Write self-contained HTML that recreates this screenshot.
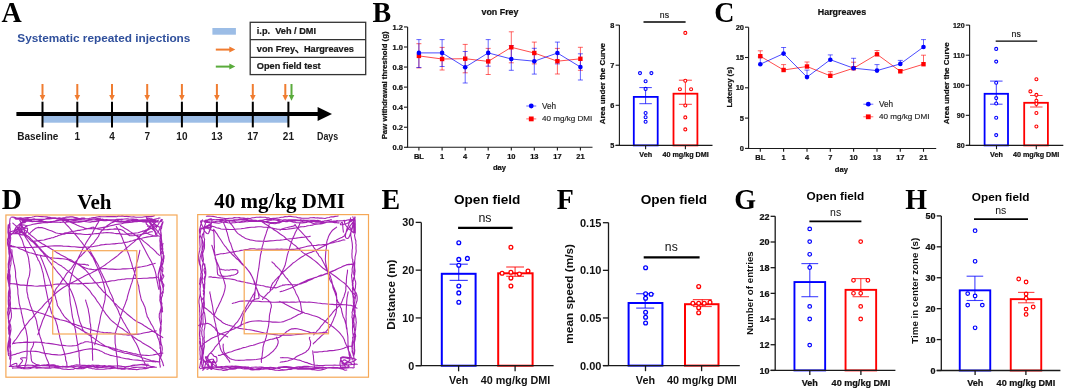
<!DOCTYPE html>
<html><head><meta charset="utf-8"><style>
html,body{margin:0;padding:0;background:#fff;width:1065px;height:389px;overflow:hidden}
svg{display:block;will-change:transform}
</style></head><body>
<svg width="1065" height="389" viewBox="0 0 1065 389">
<rect x="0" y="0" width="1065" height="389" fill="#fff"/>
<text transform="translate(1.50,21.70) scale(1,1.05)" x="0" y="0" font-family='"Liberation Serif", serif' font-size="28" font-weight="bold" fill="#000">A</text>
<text transform="translate(372.50,21.70) scale(1,1.05)" x="0" y="0" font-family='"Liberation Serif", serif' font-size="28" font-weight="bold" fill="#000">B</text>
<text transform="translate(714.20,21.70) scale(1,1.05)" x="0" y="0" font-family='"Liberation Serif", serif' font-size="28" font-weight="bold" fill="#000">C</text>
<text transform="translate(1.80,208.70) scale(1,1.05)" x="0" y="0" font-family='"Liberation Serif", serif' font-size="28" font-weight="bold" fill="#000">D</text>
<text transform="translate(381.50,208.70) scale(1,1.05)" x="0" y="0" font-family='"Liberation Serif", serif' font-size="28" font-weight="bold" fill="#000">E</text>
<text transform="translate(556.80,208.70) scale(1,1.05)" x="0" y="0" font-family='"Liberation Serif", serif' font-size="28" font-weight="bold" fill="#000">F</text>
<text transform="translate(734.20,208.70) scale(1,1.05)" x="0" y="0" font-family='"Liberation Serif", serif' font-size="28" font-weight="bold" fill="#000">G</text>
<text transform="translate(905.30,208.70) scale(1,1.05)" x="0" y="0" font-family='"Liberation Serif", serif' font-size="28" font-weight="bold" fill="#000">H</text>
<text x="17.30" y="42.10" font-family='"Liberation Sans", sans-serif' font-size="11.8" font-weight="bold" text-anchor="start" fill="#30509c" >Systematic repeated injections</text>
<rect x="212.40" y="28.00" width="23.50" height="6.70" fill="#9cbde6" stroke="none" stroke-width="1.0" />
<line x1="215.80" y1="49.60" x2="230.30" y2="49.60" stroke="#f07c30" stroke-width="2.0" />
<polygon points="229.3,46.6 235.3,49.6 229.3,52.6" fill="#f07c30"/>
<line x1="215.80" y1="66.60" x2="230.30" y2="66.60" stroke="#5aab3c" stroke-width="2.0" />
<polygon points="229.3,63.599999999999994 235.3,66.6 229.3,69.6" fill="#5aab3c"/>
<rect x="250.20" y="22.30" width="115.50" height="52.30" fill="none" stroke="#333" stroke-width="1.3" />
<line x1="250.20" y1="39.70" x2="365.70" y2="39.70" stroke="#333" stroke-width="1.3" />
<line x1="250.20" y1="57.30" x2="365.70" y2="57.30" stroke="#333" stroke-width="1.3" />
<text x="256.80" y="34.30" font-family='"Liberation Sans", sans-serif' font-size="9.2" font-weight="bold" text-anchor="start" fill="#1a1a1a"  stroke="#1a1a1a" stroke-width="0.22">i.p.&#160; Veh / DMI</text>
<text x="256.80" y="51.70" font-family='"Liberation Sans", sans-serif' font-size="9.2" font-weight="bold" text-anchor="start" fill="#1a1a1a"  stroke="#1a1a1a" stroke-width="0.22">von Frey</text>
<path d="M295.7,50.4 Q297.0,51.2 297.8,52.6" stroke="#1a1a1a" stroke-width="1.3" fill="none" stroke-linecap="round"/>
<text x="303.90" y="51.70" font-family='"Liberation Sans", sans-serif' font-size="9.2" font-weight="bold" text-anchor="start" fill="#1a1a1a"  stroke="#1a1a1a" stroke-width="0.22">Hargreaves</text>
<text x="256.80" y="69.00" font-family='"Liberation Sans", sans-serif' font-size="9.2" font-weight="bold" text-anchor="start" fill="#1a1a1a"  stroke="#1a1a1a" stroke-width="0.22">Open field test</text>
<rect x="42.50" y="116.00" width="245.90" height="6.70" fill="#9cbde6" stroke="none" stroke-width="1.0" />
<line x1="16.40" y1="114.00" x2="320.00" y2="114.00" stroke="#000" stroke-width="4.2" />
<polygon points="317.6,107 332,114 317.6,121" fill="#000"/>
<line x1="42.50" y1="101.70" x2="42.50" y2="127.40" stroke="#000" stroke-width="2.0" />
<line x1="42.50" y1="84.00" x2="42.50" y2="96.00" stroke="#f07c30" stroke-width="2.0" />
<polygon points="39.7,95 42.5,100.8 45.3,95" fill="#f07c30"/>
<text x="37.80" y="140.40" font-family='"Liberation Sans", sans-serif' font-size="10" font-weight="bold" text-anchor="middle" fill="#1a1a1a" >Baseline</text>
<line x1="77.30" y1="101.70" x2="77.30" y2="127.40" stroke="#000" stroke-width="2.0" />
<line x1="77.30" y1="84.00" x2="77.30" y2="96.00" stroke="#f07c30" stroke-width="2.0" />
<polygon points="74.5,95 77.3,100.8 80.1,95" fill="#f07c30"/>
<text x="77.30" y="140.40" font-family='"Liberation Sans", sans-serif' font-size="10" font-weight="bold" text-anchor="middle" fill="#1a1a1a" >1</text>
<line x1="112.00" y1="101.70" x2="112.00" y2="127.40" stroke="#000" stroke-width="2.0" />
<line x1="112.00" y1="84.00" x2="112.00" y2="96.00" stroke="#f07c30" stroke-width="2.0" />
<polygon points="109.2,95 112.0,100.8 114.8,95" fill="#f07c30"/>
<text x="112.00" y="140.40" font-family='"Liberation Sans", sans-serif' font-size="10" font-weight="bold" text-anchor="middle" fill="#1a1a1a" >4</text>
<line x1="147.20" y1="101.70" x2="147.20" y2="127.40" stroke="#000" stroke-width="2.0" />
<line x1="147.20" y1="84.00" x2="147.20" y2="96.00" stroke="#f07c30" stroke-width="2.0" />
<polygon points="144.39999999999998,95 147.2,100.8 150.0,95" fill="#f07c30"/>
<text x="147.20" y="140.40" font-family='"Liberation Sans", sans-serif' font-size="10" font-weight="bold" text-anchor="middle" fill="#1a1a1a" >7</text>
<line x1="181.90" y1="101.70" x2="181.90" y2="127.40" stroke="#000" stroke-width="2.0" />
<line x1="181.90" y1="84.00" x2="181.90" y2="96.00" stroke="#f07c30" stroke-width="2.0" />
<polygon points="179.1,95 181.9,100.8 184.70000000000002,95" fill="#f07c30"/>
<text x="181.90" y="140.40" font-family='"Liberation Sans", sans-serif' font-size="10" font-weight="bold" text-anchor="middle" fill="#1a1a1a" >10</text>
<line x1="216.90" y1="101.70" x2="216.90" y2="127.40" stroke="#000" stroke-width="2.0" />
<line x1="216.90" y1="84.00" x2="216.90" y2="96.00" stroke="#f07c30" stroke-width="2.0" />
<polygon points="214.1,95 216.9,100.8 219.70000000000002,95" fill="#f07c30"/>
<text x="216.90" y="140.40" font-family='"Liberation Sans", sans-serif' font-size="10" font-weight="bold" text-anchor="middle" fill="#1a1a1a" >13</text>
<line x1="252.80" y1="101.70" x2="252.80" y2="127.40" stroke="#000" stroke-width="2.0" />
<line x1="252.80" y1="84.00" x2="252.80" y2="96.00" stroke="#f07c30" stroke-width="2.0" />
<polygon points="250.0,95 252.8,100.8 255.60000000000002,95" fill="#f07c30"/>
<text x="252.80" y="140.40" font-family='"Liberation Sans", sans-serif' font-size="10" font-weight="bold" text-anchor="middle" fill="#1a1a1a" >17</text>
<line x1="288.40" y1="101.70" x2="288.40" y2="127.40" stroke="#000" stroke-width="2.0" />
<line x1="285.30" y1="84.00" x2="285.30" y2="96.00" stroke="#f07c30" stroke-width="2.0" />
<polygon points="282.5,95 285.3,100.8 288.1,95" fill="#f07c30"/>
<text x="288.40" y="140.40" font-family='"Liberation Sans", sans-serif' font-size="10" font-weight="bold" text-anchor="middle" fill="#1a1a1a" >21</text>
<line x1="291.50" y1="84.00" x2="291.50" y2="96.00" stroke="#5aab3c" stroke-width="2.0" />
<polygon points="288.7,95 291.5,100.8 294.3,95" fill="#5aab3c"/>
<text x="317.00" y="140.20" font-family='"Liberation Sans", sans-serif' font-size="10" font-weight="bold" text-anchor="start" fill="#1a1a1a" textLength="21.2" lengthAdjust="spacingAndGlyphs">Days</text>
<polyline points="418.90,55.90 442.10,59.00 465.20,58.70 488.20,61.40 511.30,47.30 534.30,53.00 557.40,61.20 580.40,58.80" fill="none" stroke="#ff0000" stroke-width="1" stroke-opacity="0.7"/>
<polyline points="418.90,52.90 442.10,52.90 465.20,67.20 488.20,52.90 511.30,59.00 534.30,61.20 557.40,53.00 580.40,67.00" fill="none" stroke="#0000ff" stroke-width="1" stroke-opacity="0.7"/>
<line x1="418.90" y1="43.70" x2="418.90" y2="67.90" stroke="#ff0000" stroke-width="1" stroke-opacity="0.6"/>
<line x1="416.40" y1="43.70" x2="421.40" y2="43.70" stroke="#ff0000" stroke-width="1" stroke-opacity="0.6"/>
<line x1="416.40" y1="67.90" x2="421.40" y2="67.90" stroke="#ff0000" stroke-width="1" stroke-opacity="0.6"/>
<line x1="442.10" y1="47.40" x2="442.10" y2="70.00" stroke="#ff0000" stroke-width="1" stroke-opacity="0.6"/>
<line x1="439.60" y1="47.40" x2="444.60" y2="47.40" stroke="#ff0000" stroke-width="1" stroke-opacity="0.6"/>
<line x1="439.60" y1="70.00" x2="444.60" y2="70.00" stroke="#ff0000" stroke-width="1" stroke-opacity="0.6"/>
<line x1="465.20" y1="44.40" x2="465.20" y2="72.80" stroke="#ff0000" stroke-width="1" stroke-opacity="0.6"/>
<line x1="462.70" y1="44.40" x2="467.70" y2="44.40" stroke="#ff0000" stroke-width="1" stroke-opacity="0.6"/>
<line x1="462.70" y1="72.80" x2="467.70" y2="72.80" stroke="#ff0000" stroke-width="1" stroke-opacity="0.6"/>
<line x1="488.20" y1="48.40" x2="488.20" y2="74.50" stroke="#ff0000" stroke-width="1" stroke-opacity="0.6"/>
<line x1="485.70" y1="48.40" x2="490.70" y2="48.40" stroke="#ff0000" stroke-width="1" stroke-opacity="0.6"/>
<line x1="485.70" y1="74.50" x2="490.70" y2="74.50" stroke="#ff0000" stroke-width="1" stroke-opacity="0.6"/>
<line x1="511.30" y1="31.80" x2="511.30" y2="62.80" stroke="#ff0000" stroke-width="1" stroke-opacity="0.6"/>
<line x1="508.80" y1="31.80" x2="513.80" y2="31.80" stroke="#ff0000" stroke-width="1" stroke-opacity="0.6"/>
<line x1="508.80" y1="62.80" x2="513.80" y2="62.80" stroke="#ff0000" stroke-width="1" stroke-opacity="0.6"/>
<line x1="534.30" y1="42.10" x2="534.30" y2="63.90" stroke="#ff0000" stroke-width="1" stroke-opacity="0.6"/>
<line x1="531.80" y1="42.10" x2="536.80" y2="42.10" stroke="#ff0000" stroke-width="1" stroke-opacity="0.6"/>
<line x1="531.80" y1="63.90" x2="536.80" y2="63.90" stroke="#ff0000" stroke-width="1" stroke-opacity="0.6"/>
<line x1="557.40" y1="48.40" x2="557.40" y2="74.00" stroke="#ff0000" stroke-width="1" stroke-opacity="0.6"/>
<line x1="554.90" y1="48.40" x2="559.90" y2="48.40" stroke="#ff0000" stroke-width="1" stroke-opacity="0.6"/>
<line x1="554.90" y1="74.00" x2="559.90" y2="74.00" stroke="#ff0000" stroke-width="1" stroke-opacity="0.6"/>
<line x1="580.40" y1="47.30" x2="580.40" y2="70.30" stroke="#ff0000" stroke-width="1" stroke-opacity="0.6"/>
<line x1="577.90" y1="47.30" x2="582.90" y2="47.30" stroke="#ff0000" stroke-width="1" stroke-opacity="0.6"/>
<line x1="577.90" y1="70.30" x2="582.90" y2="70.30" stroke="#ff0000" stroke-width="1" stroke-opacity="0.6"/>
<line x1="418.90" y1="39.60" x2="418.90" y2="67.50" stroke="#0000ff" stroke-width="1" stroke-opacity="0.6"/>
<line x1="416.40" y1="39.60" x2="421.40" y2="39.60" stroke="#0000ff" stroke-width="1" stroke-opacity="0.6"/>
<line x1="416.40" y1="67.50" x2="421.40" y2="67.50" stroke="#0000ff" stroke-width="1" stroke-opacity="0.6"/>
<line x1="442.10" y1="39.60" x2="442.10" y2="66.50" stroke="#0000ff" stroke-width="1" stroke-opacity="0.6"/>
<line x1="439.60" y1="39.60" x2="444.60" y2="39.60" stroke="#0000ff" stroke-width="1" stroke-opacity="0.6"/>
<line x1="439.60" y1="66.50" x2="444.60" y2="66.50" stroke="#0000ff" stroke-width="1" stroke-opacity="0.6"/>
<line x1="465.20" y1="51.50" x2="465.20" y2="83.00" stroke="#0000ff" stroke-width="1" stroke-opacity="0.6"/>
<line x1="462.70" y1="51.50" x2="467.70" y2="51.50" stroke="#0000ff" stroke-width="1" stroke-opacity="0.6"/>
<line x1="462.70" y1="83.00" x2="467.70" y2="83.00" stroke="#0000ff" stroke-width="1" stroke-opacity="0.6"/>
<line x1="488.20" y1="39.60" x2="488.20" y2="66.20" stroke="#0000ff" stroke-width="1" stroke-opacity="0.6"/>
<line x1="485.70" y1="39.60" x2="490.70" y2="39.60" stroke="#0000ff" stroke-width="1" stroke-opacity="0.6"/>
<line x1="485.70" y1="66.20" x2="490.70" y2="66.20" stroke="#0000ff" stroke-width="1" stroke-opacity="0.6"/>
<line x1="511.30" y1="45.50" x2="511.30" y2="70.30" stroke="#0000ff" stroke-width="1" stroke-opacity="0.6"/>
<line x1="508.80" y1="45.50" x2="513.80" y2="45.50" stroke="#0000ff" stroke-width="1" stroke-opacity="0.6"/>
<line x1="508.80" y1="70.30" x2="513.80" y2="70.30" stroke="#0000ff" stroke-width="1" stroke-opacity="0.6"/>
<line x1="534.30" y1="48.30" x2="534.30" y2="74.10" stroke="#0000ff" stroke-width="1" stroke-opacity="0.6"/>
<line x1="531.80" y1="48.30" x2="536.80" y2="48.30" stroke="#0000ff" stroke-width="1" stroke-opacity="0.6"/>
<line x1="531.80" y1="74.10" x2="536.80" y2="74.10" stroke="#0000ff" stroke-width="1" stroke-opacity="0.6"/>
<line x1="557.40" y1="42.10" x2="557.40" y2="63.90" stroke="#0000ff" stroke-width="1" stroke-opacity="0.6"/>
<line x1="554.90" y1="42.10" x2="559.90" y2="42.10" stroke="#0000ff" stroke-width="1" stroke-opacity="0.6"/>
<line x1="554.90" y1="63.90" x2="559.90" y2="63.90" stroke="#0000ff" stroke-width="1" stroke-opacity="0.6"/>
<line x1="580.40" y1="53.80" x2="580.40" y2="80.00" stroke="#0000ff" stroke-width="1" stroke-opacity="0.6"/>
<line x1="577.90" y1="53.80" x2="582.90" y2="53.80" stroke="#0000ff" stroke-width="1" stroke-opacity="0.6"/>
<line x1="577.90" y1="80.00" x2="582.90" y2="80.00" stroke="#0000ff" stroke-width="1" stroke-opacity="0.6"/>
<rect x="416.70" y="53.70" width="4.40" height="4.40" fill="#ff0000" stroke="none" stroke-width="1.0" />
<rect x="439.90" y="56.80" width="4.40" height="4.40" fill="#ff0000" stroke="none" stroke-width="1.0" />
<rect x="463.00" y="56.50" width="4.40" height="4.40" fill="#ff0000" stroke="none" stroke-width="1.0" />
<rect x="486.00" y="59.20" width="4.40" height="4.40" fill="#ff0000" stroke="none" stroke-width="1.0" />
<rect x="509.10" y="45.10" width="4.40" height="4.40" fill="#ff0000" stroke="none" stroke-width="1.0" />
<rect x="532.10" y="50.80" width="4.40" height="4.40" fill="#ff0000" stroke="none" stroke-width="1.0" />
<rect x="555.20" y="59.00" width="4.40" height="4.40" fill="#ff0000" stroke="none" stroke-width="1.0" />
<rect x="578.20" y="56.60" width="4.40" height="4.40" fill="#ff0000" stroke="none" stroke-width="1.0" />
<circle cx="418.90" cy="52.90" r="2.30" fill="#0000ff" stroke="none" stroke-width="1.0"/>
<circle cx="442.10" cy="52.90" r="2.30" fill="#0000ff" stroke="none" stroke-width="1.0"/>
<circle cx="465.20" cy="67.20" r="2.30" fill="#0000ff" stroke="none" stroke-width="1.0"/>
<circle cx="488.20" cy="52.90" r="2.30" fill="#0000ff" stroke="none" stroke-width="1.0"/>
<circle cx="511.30" cy="59.00" r="2.30" fill="#0000ff" stroke="none" stroke-width="1.0"/>
<circle cx="534.30" cy="61.20" r="2.30" fill="#0000ff" stroke="none" stroke-width="1.0"/>
<circle cx="557.40" cy="53.00" r="2.30" fill="#0000ff" stroke="none" stroke-width="1.0"/>
<circle cx="580.40" cy="67.00" r="2.30" fill="#0000ff" stroke="none" stroke-width="1.0"/>
<line x1="407.60" y1="27.00" x2="407.60" y2="147.20" stroke="#1a1a1a" stroke-width="1.1" />
<line x1="406.60" y1="147.20" x2="592.50" y2="147.20" stroke="#1a1a1a" stroke-width="1.1" />
<line x1="404.00" y1="147.30" x2="407.60" y2="147.30" stroke="#1a1a1a" stroke-width="1.1" />
<text x="403.00" y="149.90" font-family='"Liberation Sans", sans-serif' font-size="7.5" font-weight="bold" text-anchor="end" fill="#111"  stroke="#111" stroke-width="0.22">0.0</text>
<line x1="404.00" y1="127.24" x2="407.60" y2="127.24" stroke="#1a1a1a" stroke-width="1.1" />
<text x="403.00" y="129.84" font-family='"Liberation Sans", sans-serif' font-size="7.5" font-weight="bold" text-anchor="end" fill="#111"  stroke="#111" stroke-width="0.22">0.2</text>
<line x1="404.00" y1="107.18" x2="407.60" y2="107.18" stroke="#1a1a1a" stroke-width="1.1" />
<text x="403.00" y="109.78" font-family='"Liberation Sans", sans-serif' font-size="7.5" font-weight="bold" text-anchor="end" fill="#111"  stroke="#111" stroke-width="0.22">0.4</text>
<line x1="404.00" y1="87.12" x2="407.60" y2="87.12" stroke="#1a1a1a" stroke-width="1.1" />
<text x="403.00" y="89.72" font-family='"Liberation Sans", sans-serif' font-size="7.5" font-weight="bold" text-anchor="end" fill="#111"  stroke="#111" stroke-width="0.22">0.6</text>
<line x1="404.00" y1="67.06" x2="407.60" y2="67.06" stroke="#1a1a1a" stroke-width="1.1" />
<text x="403.00" y="69.66" font-family='"Liberation Sans", sans-serif' font-size="7.5" font-weight="bold" text-anchor="end" fill="#111"  stroke="#111" stroke-width="0.22">0.8</text>
<line x1="404.00" y1="47.00" x2="407.60" y2="47.00" stroke="#1a1a1a" stroke-width="1.1" />
<text x="403.00" y="49.60" font-family='"Liberation Sans", sans-serif' font-size="7.5" font-weight="bold" text-anchor="end" fill="#111"  stroke="#111" stroke-width="0.22">1.0</text>
<line x1="404.00" y1="26.94" x2="407.60" y2="26.94" stroke="#1a1a1a" stroke-width="1.1" />
<text x="403.00" y="29.54" font-family='"Liberation Sans", sans-serif' font-size="7.5" font-weight="bold" text-anchor="end" fill="#111"  stroke="#111" stroke-width="0.22">1.2</text>
<line x1="418.90" y1="147.20" x2="418.90" y2="150.50" stroke="#1a1a1a" stroke-width="1.1" />
<text x="418.90" y="158.90" font-family='"Liberation Sans", sans-serif' font-size="7.5" font-weight="bold" text-anchor="middle" fill="#111"  stroke="#111" stroke-width="0.22">BL</text>
<line x1="442.10" y1="147.20" x2="442.10" y2="150.50" stroke="#1a1a1a" stroke-width="1.1" />
<text x="442.10" y="158.90" font-family='"Liberation Sans", sans-serif' font-size="7.5" font-weight="bold" text-anchor="middle" fill="#111"  stroke="#111" stroke-width="0.22">1</text>
<line x1="465.20" y1="147.20" x2="465.20" y2="150.50" stroke="#1a1a1a" stroke-width="1.1" />
<text x="465.20" y="158.90" font-family='"Liberation Sans", sans-serif' font-size="7.5" font-weight="bold" text-anchor="middle" fill="#111"  stroke="#111" stroke-width="0.22">4</text>
<line x1="488.20" y1="147.20" x2="488.20" y2="150.50" stroke="#1a1a1a" stroke-width="1.1" />
<text x="488.20" y="158.90" font-family='"Liberation Sans", sans-serif' font-size="7.5" font-weight="bold" text-anchor="middle" fill="#111"  stroke="#111" stroke-width="0.22">7</text>
<line x1="511.30" y1="147.20" x2="511.30" y2="150.50" stroke="#1a1a1a" stroke-width="1.1" />
<text x="511.30" y="158.90" font-family='"Liberation Sans", sans-serif' font-size="7.5" font-weight="bold" text-anchor="middle" fill="#111"  stroke="#111" stroke-width="0.22">10</text>
<line x1="534.30" y1="147.20" x2="534.30" y2="150.50" stroke="#1a1a1a" stroke-width="1.1" />
<text x="534.30" y="158.90" font-family='"Liberation Sans", sans-serif' font-size="7.5" font-weight="bold" text-anchor="middle" fill="#111"  stroke="#111" stroke-width="0.22">13</text>
<line x1="557.40" y1="147.20" x2="557.40" y2="150.50" stroke="#1a1a1a" stroke-width="1.1" />
<text x="557.40" y="158.90" font-family='"Liberation Sans", sans-serif' font-size="7.5" font-weight="bold" text-anchor="middle" fill="#111"  stroke="#111" stroke-width="0.22">17</text>
<line x1="580.40" y1="147.20" x2="580.40" y2="150.50" stroke="#1a1a1a" stroke-width="1.1" />
<text x="580.40" y="158.90" font-family='"Liberation Sans", sans-serif' font-size="7.5" font-weight="bold" text-anchor="middle" fill="#111"  stroke="#111" stroke-width="0.22">21</text>
<text x="499.50" y="170.00" font-family='"Liberation Sans", sans-serif' font-size="7.6" font-weight="bold" text-anchor="middle" fill="#111"  stroke="#111" stroke-width="0.22">day</text>
<text x="500.00" y="14.80" font-family='"Liberation Sans", sans-serif' font-size="8.9" font-weight="bold" text-anchor="middle" fill="#111"  stroke="#111" stroke-width="0.22">von Frey</text>
<text x="387.20" y="85.40" font-family='"Liberation Sans", sans-serif' font-size="7.8" font-weight="bold" text-anchor="middle" fill="#111" transform="rotate(-90 387.2 85.4)"  stroke="#111" stroke-width="0.22">Paw withdrawal threshold (g)</text>
<line x1="526.25" y1="106.00" x2="536.25" y2="106.00" stroke="#0000ff" stroke-width="1" stroke-opacity="0.6"/>
<circle cx="531.25" cy="106.00" r="2.40" fill="#0000ff" stroke="none" stroke-width="1.0"/>
<line x1="526.25" y1="118.90" x2="536.25" y2="118.90" stroke="#ff0000" stroke-width="1" stroke-opacity="0.6"/>
<rect x="528.85" y="116.50" width="4.80" height="4.80" fill="#ff0000" stroke="none" stroke-width="1.0" />
<text x="541.95" y="108.80" font-family='"Liberation Sans", sans-serif' font-size="8.2" font-weight="normal" text-anchor="start" fill="#222"  stroke="#222" stroke-width="0.15">Veh</text>
<text x="541.95" y="121.30" font-family='"Liberation Sans", sans-serif' font-size="8.1" font-weight="normal" text-anchor="start" fill="#222"  stroke="#222" stroke-width="0.15">40 mg/kg DMI</text>
<polyline points="760.30,56.20 783.60,70.00 807.00,66.50 830.30,75.80 853.60,68.20 877.00,54.30 900.30,71.30 923.50,64.20" fill="none" stroke="#ff0000" stroke-width="1" stroke-opacity="0.7"/>
<polyline points="760.30,64.20 783.60,53.60 807.00,77.10 830.30,59.70 853.60,68.20 877.00,70.60 900.30,63.90 923.50,47.00" fill="none" stroke="#0000ff" stroke-width="1" stroke-opacity="0.7"/>
<line x1="760.30" y1="50.80" x2="760.30" y2="56.20" stroke="#ff0000" stroke-width="1" stroke-opacity="0.6"/>
<line x1="757.80" y1="50.80" x2="762.80" y2="50.80" stroke="#ff0000" stroke-width="1" stroke-opacity="0.6"/>
<line x1="783.60" y1="64.60" x2="783.60" y2="70.00" stroke="#ff0000" stroke-width="1" stroke-opacity="0.6"/>
<line x1="781.10" y1="64.60" x2="786.10" y2="64.60" stroke="#ff0000" stroke-width="1" stroke-opacity="0.6"/>
<line x1="807.00" y1="62.00" x2="807.00" y2="66.50" stroke="#ff0000" stroke-width="1" stroke-opacity="0.6"/>
<line x1="804.50" y1="62.00" x2="809.50" y2="62.00" stroke="#ff0000" stroke-width="1" stroke-opacity="0.6"/>
<line x1="830.30" y1="71.70" x2="830.30" y2="75.80" stroke="#ff0000" stroke-width="1" stroke-opacity="0.6"/>
<line x1="827.80" y1="71.70" x2="832.80" y2="71.70" stroke="#ff0000" stroke-width="1" stroke-opacity="0.6"/>
<line x1="853.60" y1="62.20" x2="853.60" y2="68.20" stroke="#ff0000" stroke-width="1" stroke-opacity="0.6"/>
<line x1="851.10" y1="62.20" x2="856.10" y2="62.20" stroke="#ff0000" stroke-width="1" stroke-opacity="0.6"/>
<line x1="877.00" y1="50.50" x2="877.00" y2="54.30" stroke="#ff0000" stroke-width="1" stroke-opacity="0.6"/>
<line x1="874.50" y1="50.50" x2="879.50" y2="50.50" stroke="#ff0000" stroke-width="1" stroke-opacity="0.6"/>
<line x1="900.30" y1="69.50" x2="900.30" y2="71.30" stroke="#ff0000" stroke-width="1" stroke-opacity="0.6"/>
<line x1="897.80" y1="69.50" x2="902.80" y2="69.50" stroke="#ff0000" stroke-width="1" stroke-opacity="0.6"/>
<line x1="923.50" y1="55.20" x2="923.50" y2="64.20" stroke="#ff0000" stroke-width="1" stroke-opacity="0.6"/>
<line x1="921.00" y1="55.20" x2="926.00" y2="55.20" stroke="#ff0000" stroke-width="1" stroke-opacity="0.6"/>
<line x1="760.30" y1="57.00" x2="760.30" y2="64.20" stroke="#0000ff" stroke-width="1" stroke-opacity="0.6"/>
<line x1="757.80" y1="57.00" x2="762.80" y2="57.00" stroke="#0000ff" stroke-width="1" stroke-opacity="0.6"/>
<line x1="783.60" y1="47.50" x2="783.60" y2="53.60" stroke="#0000ff" stroke-width="1" stroke-opacity="0.6"/>
<line x1="781.10" y1="47.50" x2="786.10" y2="47.50" stroke="#0000ff" stroke-width="1" stroke-opacity="0.6"/>
<line x1="807.00" y1="70.10" x2="807.00" y2="77.10" stroke="#0000ff" stroke-width="1" stroke-opacity="0.6"/>
<line x1="804.50" y1="70.10" x2="809.50" y2="70.10" stroke="#0000ff" stroke-width="1" stroke-opacity="0.6"/>
<line x1="830.30" y1="54.90" x2="830.30" y2="59.70" stroke="#0000ff" stroke-width="1" stroke-opacity="0.6"/>
<line x1="827.80" y1="54.90" x2="832.80" y2="54.90" stroke="#0000ff" stroke-width="1" stroke-opacity="0.6"/>
<line x1="853.60" y1="58.30" x2="853.60" y2="68.20" stroke="#0000ff" stroke-width="1" stroke-opacity="0.6"/>
<line x1="851.10" y1="58.30" x2="856.10" y2="58.30" stroke="#0000ff" stroke-width="1" stroke-opacity="0.6"/>
<line x1="877.00" y1="64.60" x2="877.00" y2="70.60" stroke="#0000ff" stroke-width="1" stroke-opacity="0.6"/>
<line x1="874.50" y1="64.60" x2="879.50" y2="64.60" stroke="#0000ff" stroke-width="1" stroke-opacity="0.6"/>
<line x1="900.30" y1="60.40" x2="900.30" y2="63.90" stroke="#0000ff" stroke-width="1" stroke-opacity="0.6"/>
<line x1="897.80" y1="60.40" x2="902.80" y2="60.40" stroke="#0000ff" stroke-width="1" stroke-opacity="0.6"/>
<line x1="923.50" y1="39.60" x2="923.50" y2="47.00" stroke="#0000ff" stroke-width="1" stroke-opacity="0.6"/>
<line x1="921.00" y1="39.60" x2="926.00" y2="39.60" stroke="#0000ff" stroke-width="1" stroke-opacity="0.6"/>
<rect x="758.10" y="54.00" width="4.40" height="4.40" fill="#ff0000" stroke="none" stroke-width="1.0" />
<rect x="781.40" y="67.80" width="4.40" height="4.40" fill="#ff0000" stroke="none" stroke-width="1.0" />
<rect x="804.80" y="64.30" width="4.40" height="4.40" fill="#ff0000" stroke="none" stroke-width="1.0" />
<rect x="828.10" y="73.60" width="4.40" height="4.40" fill="#ff0000" stroke="none" stroke-width="1.0" />
<rect x="851.40" y="66.00" width="4.40" height="4.40" fill="#ff0000" stroke="none" stroke-width="1.0" />
<rect x="874.80" y="52.10" width="4.40" height="4.40" fill="#ff0000" stroke="none" stroke-width="1.0" />
<rect x="898.10" y="69.10" width="4.40" height="4.40" fill="#ff0000" stroke="none" stroke-width="1.0" />
<rect x="921.30" y="62.00" width="4.40" height="4.40" fill="#ff0000" stroke="none" stroke-width="1.0" />
<circle cx="760.30" cy="64.20" r="2.30" fill="#0000ff" stroke="none" stroke-width="1.0"/>
<circle cx="783.60" cy="53.60" r="2.30" fill="#0000ff" stroke="none" stroke-width="1.0"/>
<circle cx="807.00" cy="77.10" r="2.30" fill="#0000ff" stroke="none" stroke-width="1.0"/>
<circle cx="830.30" cy="59.70" r="2.30" fill="#0000ff" stroke="none" stroke-width="1.0"/>
<circle cx="853.60" cy="68.20" r="2.30" fill="#0000ff" stroke="none" stroke-width="1.0"/>
<circle cx="877.00" cy="70.60" r="2.30" fill="#0000ff" stroke="none" stroke-width="1.0"/>
<circle cx="900.30" cy="63.90" r="2.30" fill="#0000ff" stroke="none" stroke-width="1.0"/>
<circle cx="923.50" cy="47.00" r="2.30" fill="#0000ff" stroke="none" stroke-width="1.0"/>
<line x1="748.60" y1="27.20" x2="748.60" y2="148.50" stroke="#1a1a1a" stroke-width="1.1" />
<line x1="746.60" y1="148.50" x2="936.20" y2="148.50" stroke="#1a1a1a" stroke-width="1.1" />
<line x1="745.00" y1="148.40" x2="748.60" y2="148.40" stroke="#1a1a1a" stroke-width="1.1" />
<text x="744.00" y="151.00" font-family='"Liberation Sans", sans-serif' font-size="7.5" font-weight="bold" text-anchor="end" fill="#111"  stroke="#111" stroke-width="0.22">0</text>
<line x1="745.00" y1="118.10" x2="748.60" y2="118.10" stroke="#1a1a1a" stroke-width="1.1" />
<text x="744.00" y="120.70" font-family='"Liberation Sans", sans-serif' font-size="7.5" font-weight="bold" text-anchor="end" fill="#111"  stroke="#111" stroke-width="0.22">5</text>
<line x1="745.00" y1="87.80" x2="748.60" y2="87.80" stroke="#1a1a1a" stroke-width="1.1" />
<text x="744.00" y="90.40" font-family='"Liberation Sans", sans-serif' font-size="7.5" font-weight="bold" text-anchor="end" fill="#111"  stroke="#111" stroke-width="0.22">10</text>
<line x1="745.00" y1="57.50" x2="748.60" y2="57.50" stroke="#1a1a1a" stroke-width="1.1" />
<text x="744.00" y="60.10" font-family='"Liberation Sans", sans-serif' font-size="7.5" font-weight="bold" text-anchor="end" fill="#111"  stroke="#111" stroke-width="0.22">15</text>
<line x1="745.00" y1="27.20" x2="748.60" y2="27.20" stroke="#1a1a1a" stroke-width="1.1" />
<text x="744.00" y="29.80" font-family='"Liberation Sans", sans-serif' font-size="7.5" font-weight="bold" text-anchor="end" fill="#111"  stroke="#111" stroke-width="0.22">20</text>
<line x1="760.30" y1="148.50" x2="760.30" y2="151.80" stroke="#1a1a1a" stroke-width="1.1" />
<text x="760.30" y="160.40" font-family='"Liberation Sans", sans-serif' font-size="7.5" font-weight="bold" text-anchor="middle" fill="#111"  stroke="#111" stroke-width="0.22">BL</text>
<line x1="783.60" y1="148.50" x2="783.60" y2="151.80" stroke="#1a1a1a" stroke-width="1.1" />
<text x="783.60" y="160.40" font-family='"Liberation Sans", sans-serif' font-size="7.5" font-weight="bold" text-anchor="middle" fill="#111"  stroke="#111" stroke-width="0.22">1</text>
<line x1="807.00" y1="148.50" x2="807.00" y2="151.80" stroke="#1a1a1a" stroke-width="1.1" />
<text x="807.00" y="160.40" font-family='"Liberation Sans", sans-serif' font-size="7.5" font-weight="bold" text-anchor="middle" fill="#111"  stroke="#111" stroke-width="0.22">4</text>
<line x1="830.30" y1="148.50" x2="830.30" y2="151.80" stroke="#1a1a1a" stroke-width="1.1" />
<text x="830.30" y="160.40" font-family='"Liberation Sans", sans-serif' font-size="7.5" font-weight="bold" text-anchor="middle" fill="#111"  stroke="#111" stroke-width="0.22">7</text>
<line x1="853.60" y1="148.50" x2="853.60" y2="151.80" stroke="#1a1a1a" stroke-width="1.1" />
<text x="853.60" y="160.40" font-family='"Liberation Sans", sans-serif' font-size="7.5" font-weight="bold" text-anchor="middle" fill="#111"  stroke="#111" stroke-width="0.22">10</text>
<line x1="877.00" y1="148.50" x2="877.00" y2="151.80" stroke="#1a1a1a" stroke-width="1.1" />
<text x="877.00" y="160.40" font-family='"Liberation Sans", sans-serif' font-size="7.5" font-weight="bold" text-anchor="middle" fill="#111"  stroke="#111" stroke-width="0.22">13</text>
<line x1="900.30" y1="148.50" x2="900.30" y2="151.80" stroke="#1a1a1a" stroke-width="1.1" />
<text x="900.30" y="160.40" font-family='"Liberation Sans", sans-serif' font-size="7.5" font-weight="bold" text-anchor="middle" fill="#111"  stroke="#111" stroke-width="0.22">17</text>
<line x1="923.50" y1="148.50" x2="923.50" y2="151.80" stroke="#1a1a1a" stroke-width="1.1" />
<text x="923.50" y="160.40" font-family='"Liberation Sans", sans-serif' font-size="7.5" font-weight="bold" text-anchor="middle" fill="#111"  stroke="#111" stroke-width="0.22">21</text>
<text x="841.40" y="172.00" font-family='"Liberation Sans", sans-serif' font-size="7.6" font-weight="bold" text-anchor="middle" fill="#111"  stroke="#111" stroke-width="0.22">day</text>
<text x="842.00" y="14.80" font-family='"Liberation Sans", sans-serif' font-size="8.9" font-weight="bold" text-anchor="middle" fill="#111"  stroke="#111" stroke-width="0.22">Hargreaves</text>
<text x="731.60" y="87.30" font-family='"Liberation Sans", sans-serif' font-size="7.7" font-weight="bold" text-anchor="middle" fill="#111" transform="rotate(-90 731.6 87.3)"  stroke="#111" stroke-width="0.22">Latency (s)</text>
<line x1="863.30" y1="104.20" x2="873.30" y2="104.20" stroke="#0000ff" stroke-width="1" stroke-opacity="0.6"/>
<circle cx="868.30" cy="104.20" r="2.40" fill="#0000ff" stroke="none" stroke-width="1.0"/>
<line x1="863.30" y1="116.80" x2="873.30" y2="116.80" stroke="#ff0000" stroke-width="1" stroke-opacity="0.6"/>
<rect x="865.90" y="114.40" width="4.80" height="4.80" fill="#ff0000" stroke="none" stroke-width="1.0" />
<text x="879.00" y="107.00" font-family='"Liberation Sans", sans-serif' font-size="8.2" font-weight="normal" text-anchor="start" fill="#222"  stroke="#222" stroke-width="0.15">Veh</text>
<text x="879.00" y="119.20" font-family='"Liberation Sans", sans-serif' font-size="8.1" font-weight="normal" text-anchor="start" fill="#222"  stroke="#222" stroke-width="0.15">40 mg/kg DMI</text>
<rect x="633.80" y="96.90" width="23.90" height="48.50" fill="none" stroke="#0000ff" stroke-width="1.8" />
<rect x="673.50" y="93.70" width="23.90" height="51.70" fill="none" stroke="#ff0000" stroke-width="1.8" />
<line x1="645.60" y1="87.60" x2="645.60" y2="103.70" stroke="#0000ff" stroke-width="1.0" stroke-opacity="0.75"/>
<line x1="639.35" y1="87.60" x2="651.85" y2="87.60" stroke="#0000ff" stroke-width="1.0" stroke-opacity="0.75"/>
<line x1="639.35" y1="103.70" x2="651.85" y2="103.70" stroke="#0000ff" stroke-width="1.0" stroke-opacity="0.75"/>
<line x1="685.40" y1="80.20" x2="685.40" y2="104.30" stroke="#ff0000" stroke-width="1.0" stroke-opacity="0.75"/>
<line x1="678.90" y1="80.20" x2="691.90" y2="80.20" stroke="#ff0000" stroke-width="1.0" stroke-opacity="0.75"/>
<line x1="678.90" y1="104.30" x2="691.90" y2="104.30" stroke="#ff0000" stroke-width="1.0" stroke-opacity="0.75"/>
<circle cx="640.00" cy="73.10" r="1.50" fill="white" stroke="#0000ff" stroke-width="1.1"/>
<circle cx="651.40" cy="73.10" r="1.50" fill="white" stroke="#0000ff" stroke-width="1.1"/>
<circle cx="645.60" cy="81.20" r="1.50" fill="white" stroke="#0000ff" stroke-width="1.1"/>
<circle cx="645.60" cy="88.90" r="1.50" fill="white" stroke="#0000ff" stroke-width="1.1"/>
<circle cx="645.60" cy="113.00" r="1.50" fill="white" stroke="#0000ff" stroke-width="1.1"/>
<circle cx="645.60" cy="117.30" r="1.50" fill="white" stroke="#0000ff" stroke-width="1.1"/>
<circle cx="645.60" cy="121.70" r="1.50" fill="white" stroke="#0000ff" stroke-width="1.1"/>
<circle cx="685.30" cy="32.90" r="1.50" fill="white" stroke="#ff0000" stroke-width="1.1"/>
<circle cx="685.30" cy="80.80" r="1.50" fill="white" stroke="#ff0000" stroke-width="1.1"/>
<circle cx="679.90" cy="89.30" r="1.50" fill="white" stroke="#ff0000" stroke-width="1.1"/>
<circle cx="691.10" cy="89.30" r="1.50" fill="white" stroke="#ff0000" stroke-width="1.1"/>
<circle cx="685.30" cy="105.50" r="1.50" fill="white" stroke="#ff0000" stroke-width="1.1"/>
<circle cx="685.30" cy="117.40" r="1.50" fill="white" stroke="#ff0000" stroke-width="1.1"/>
<circle cx="685.30" cy="129.40" r="1.50" fill="white" stroke="#ff0000" stroke-width="1.1"/>
<line x1="619.40" y1="25.10" x2="619.40" y2="145.40" stroke="#1a1a1a" stroke-width="1.1" />
<line x1="615.60" y1="145.40" x2="712.50" y2="145.40" stroke="#1a1a1a" stroke-width="1.1" />
<line x1="615.60" y1="145.40" x2="619.40" y2="145.40" stroke="#1a1a1a" stroke-width="1.1" />
<text x="614.40" y="148.03" font-family='"Liberation Sans", sans-serif' font-size="7.3" font-weight="bold" text-anchor="end" fill="#111"  stroke="#111" stroke-width="0.22">5</text>
<line x1="615.60" y1="105.30" x2="619.40" y2="105.30" stroke="#1a1a1a" stroke-width="1.1" />
<text x="614.40" y="107.93" font-family='"Liberation Sans", sans-serif' font-size="7.3" font-weight="bold" text-anchor="end" fill="#111"  stroke="#111" stroke-width="0.22">6</text>
<line x1="615.60" y1="65.20" x2="619.40" y2="65.20" stroke="#1a1a1a" stroke-width="1.1" />
<text x="614.40" y="67.83" font-family='"Liberation Sans", sans-serif' font-size="7.3" font-weight="bold" text-anchor="end" fill="#111"  stroke="#111" stroke-width="0.22">7</text>
<line x1="615.60" y1="25.10" x2="619.40" y2="25.10" stroke="#1a1a1a" stroke-width="1.1" />
<text x="614.40" y="27.73" font-family='"Liberation Sans", sans-serif' font-size="7.3" font-weight="bold" text-anchor="end" fill="#111"  stroke="#111" stroke-width="0.22">8</text>
<line x1="645.60" y1="145.40" x2="645.60" y2="149.20" stroke="#1a1a1a" stroke-width="1.1" />
<line x1="685.40" y1="145.40" x2="685.40" y2="149.20" stroke="#1a1a1a" stroke-width="1.1" />
<text x="664.40" y="17.50" font-family='"Liberation Sans", sans-serif' font-size="8.7" font-weight="normal" text-anchor="middle" fill="#111"  stroke="#111" stroke-width="0.15">ns</text>
<line x1="643.50" y1="22.00" x2="685.60" y2="22.00" stroke="#000" stroke-width="1.4" />
<text x="605.30" y="83.60" font-family='"Liberation Sans", sans-serif' font-size="8.0" font-weight="bold" text-anchor="middle" fill="#111" transform="rotate(-90 605.3 83.6)"  stroke="#111" stroke-width="0.22">Area under the Curve</text>
<text x="645.70" y="157.40" font-family='"Liberation Sans", sans-serif' font-size="7.2" font-weight="bold" text-anchor="middle" fill="#111"  stroke="#111" stroke-width="0.22">Veh</text>
<text x="685.60" y="157.40" font-family='"Liberation Sans", sans-serif' font-size="7.2" font-weight="bold" text-anchor="middle" fill="#111"  stroke="#111" stroke-width="0.22">40 mg/kg DMI</text>
<rect x="984.60" y="93.80" width="23.40" height="51.60" fill="none" stroke="#0000ff" stroke-width="1.8" />
<rect x="1024.20" y="102.80" width="23.70" height="42.60" fill="none" stroke="#ff0000" stroke-width="1.8" />
<line x1="996.30" y1="81.10" x2="996.30" y2="104.20" stroke="#0000ff" stroke-width="1.0" stroke-opacity="0.75"/>
<line x1="990.05" y1="81.10" x2="1002.55" y2="81.10" stroke="#0000ff" stroke-width="1.0" stroke-opacity="0.75"/>
<line x1="990.05" y1="104.20" x2="1002.55" y2="104.20" stroke="#0000ff" stroke-width="1.0" stroke-opacity="0.75"/>
<line x1="1036.30" y1="95.50" x2="1036.30" y2="107.00" stroke="#ff0000" stroke-width="1.0" stroke-opacity="0.75"/>
<line x1="1030.05" y1="95.50" x2="1042.55" y2="95.50" stroke="#ff0000" stroke-width="1.0" stroke-opacity="0.75"/>
<line x1="1030.05" y1="107.00" x2="1042.55" y2="107.00" stroke="#ff0000" stroke-width="1.0" stroke-opacity="0.75"/>
<circle cx="996.20" cy="48.90" r="1.50" fill="white" stroke="#0000ff" stroke-width="1.1"/>
<circle cx="996.20" cy="61.60" r="1.50" fill="white" stroke="#0000ff" stroke-width="1.1"/>
<circle cx="996.20" cy="82.70" r="1.50" fill="white" stroke="#0000ff" stroke-width="1.1"/>
<circle cx="996.20" cy="98.10" r="1.50" fill="white" stroke="#0000ff" stroke-width="1.1"/>
<circle cx="996.20" cy="103.50" r="1.50" fill="white" stroke="#0000ff" stroke-width="1.1"/>
<circle cx="996.20" cy="117.80" r="1.50" fill="white" stroke="#0000ff" stroke-width="1.1"/>
<circle cx="996.20" cy="135.10" r="1.50" fill="white" stroke="#0000ff" stroke-width="1.1"/>
<circle cx="1036.40" cy="79.20" r="1.50" fill="white" stroke="#ff0000" stroke-width="1.1"/>
<circle cx="1030.40" cy="91.40" r="1.50" fill="white" stroke="#ff0000" stroke-width="1.1"/>
<circle cx="1036.40" cy="94.90" r="1.50" fill="white" stroke="#ff0000" stroke-width="1.1"/>
<circle cx="1036.40" cy="100.80" r="1.50" fill="white" stroke="#ff0000" stroke-width="1.1"/>
<circle cx="1036.40" cy="104.00" r="1.50" fill="white" stroke="#ff0000" stroke-width="1.1"/>
<circle cx="1036.40" cy="113.00" r="1.50" fill="white" stroke="#ff0000" stroke-width="1.1"/>
<circle cx="1036.40" cy="126.50" r="1.50" fill="white" stroke="#ff0000" stroke-width="1.1"/>
<line x1="969.60" y1="25.10" x2="969.60" y2="145.40" stroke="#1a1a1a" stroke-width="1.1" />
<line x1="965.80" y1="145.40" x2="1063.30" y2="145.40" stroke="#1a1a1a" stroke-width="1.1" />
<line x1="965.80" y1="145.40" x2="969.60" y2="145.40" stroke="#1a1a1a" stroke-width="1.1" />
<text x="964.60" y="147.92" font-family='"Liberation Sans", sans-serif' font-size="7.0" font-weight="bold" text-anchor="end" fill="#111"  stroke="#111" stroke-width="0.22">80</text>
<line x1="965.80" y1="115.33" x2="969.60" y2="115.33" stroke="#1a1a1a" stroke-width="1.1" />
<text x="964.60" y="117.85" font-family='"Liberation Sans", sans-serif' font-size="7.0" font-weight="bold" text-anchor="end" fill="#111"  stroke="#111" stroke-width="0.22">90</text>
<line x1="965.80" y1="85.26" x2="969.60" y2="85.26" stroke="#1a1a1a" stroke-width="1.1" />
<text x="964.60" y="87.78" font-family='"Liberation Sans", sans-serif' font-size="7.0" font-weight="bold" text-anchor="end" fill="#111"  stroke="#111" stroke-width="0.22">100</text>
<line x1="965.80" y1="55.19" x2="969.60" y2="55.19" stroke="#1a1a1a" stroke-width="1.1" />
<text x="964.60" y="57.71" font-family='"Liberation Sans", sans-serif' font-size="7.0" font-weight="bold" text-anchor="end" fill="#111"  stroke="#111" stroke-width="0.22">110</text>
<line x1="965.80" y1="25.12" x2="969.60" y2="25.12" stroke="#1a1a1a" stroke-width="1.1" />
<text x="964.60" y="27.64" font-family='"Liberation Sans", sans-serif' font-size="7.0" font-weight="bold" text-anchor="end" fill="#111"  stroke="#111" stroke-width="0.22">120</text>
<line x1="996.50" y1="145.40" x2="996.50" y2="149.20" stroke="#1a1a1a" stroke-width="1.1" />
<line x1="1036.30" y1="145.40" x2="1036.30" y2="149.20" stroke="#1a1a1a" stroke-width="1.1" />
<text x="1016.20" y="37.30" font-family='"Liberation Sans", sans-serif' font-size="8.7" font-weight="normal" text-anchor="middle" fill="#111"  stroke="#111" stroke-width="0.15">ns</text>
<line x1="995.70" y1="41.10" x2="1037.20" y2="41.10" stroke="#000" stroke-width="1.4" />
<text x="948.60" y="83.30" font-family='"Liberation Sans", sans-serif' font-size="8.05" font-weight="bold" text-anchor="middle" fill="#111" transform="rotate(-90 948.6 83.3)"  stroke="#111" stroke-width="0.22">Area under the Curve</text>
<text x="996.40" y="157.40" font-family='"Liberation Sans", sans-serif' font-size="7.2" font-weight="bold" text-anchor="middle" fill="#111"  stroke="#111" stroke-width="0.22">Veh</text>
<text x="1036.10" y="157.40" font-family='"Liberation Sans", sans-serif' font-size="7.2" font-weight="bold" text-anchor="middle" fill="#111"  stroke="#111" stroke-width="0.22">40 mg/kg DMI</text>
<rect x="441.80" y="273.80" width="33.80" height="91.90" fill="none" stroke="#0000ff" stroke-width="2.0" />
<rect x="498.20" y="273.30" width="34.40" height="92.40" fill="none" stroke="#ff0000" stroke-width="2.0" />
<line x1="458.70" y1="264.20" x2="458.70" y2="280.40" stroke="#0000ff" stroke-width="1.2" stroke-opacity="0.75"/>
<line x1="449.60" y1="264.20" x2="467.80" y2="264.20" stroke="#0000ff" stroke-width="1.2" stroke-opacity="0.75"/>
<line x1="449.60" y1="280.40" x2="467.80" y2="280.40" stroke="#0000ff" stroke-width="1.2" stroke-opacity="0.75"/>
<line x1="515.10" y1="267.00" x2="515.10" y2="276.30" stroke="#ff0000" stroke-width="1.2" stroke-opacity="0.75"/>
<line x1="506.20" y1="267.00" x2="524.00" y2="267.00" stroke="#ff0000" stroke-width="1.2" stroke-opacity="0.75"/>
<line x1="506.20" y1="276.30" x2="524.00" y2="276.30" stroke="#ff0000" stroke-width="1.2" stroke-opacity="0.75"/>
<circle cx="458.80" cy="242.70" r="1.90" fill="white" stroke="#0000ff" stroke-width="1.3"/>
<circle cx="458.80" cy="259.40" r="1.90" fill="white" stroke="#0000ff" stroke-width="1.3"/>
<circle cx="467.40" cy="258.40" r="1.90" fill="white" stroke="#0000ff" stroke-width="1.3"/>
<circle cx="458.80" cy="265.20" r="1.90" fill="white" stroke="#0000ff" stroke-width="1.3"/>
<circle cx="458.80" cy="286.00" r="1.90" fill="white" stroke="#0000ff" stroke-width="1.3"/>
<circle cx="458.80" cy="292.90" r="1.90" fill="white" stroke="#0000ff" stroke-width="1.3"/>
<circle cx="458.80" cy="302.20" r="1.90" fill="white" stroke="#0000ff" stroke-width="1.3"/>
<circle cx="510.90" cy="247.30" r="1.90" fill="white" stroke="#ff0000" stroke-width="1.3"/>
<circle cx="502.10" cy="273.20" r="1.90" fill="white" stroke="#ff0000" stroke-width="1.3"/>
<circle cx="510.90" cy="272.30" r="1.90" fill="white" stroke="#ff0000" stroke-width="1.3"/>
<circle cx="519.40" cy="274.00" r="1.90" fill="white" stroke="#ff0000" stroke-width="1.3"/>
<circle cx="528.00" cy="271.00" r="1.90" fill="white" stroke="#ff0000" stroke-width="1.3"/>
<circle cx="510.90" cy="278.10" r="1.90" fill="white" stroke="#ff0000" stroke-width="1.3"/>
<circle cx="510.90" cy="286.00" r="1.90" fill="white" stroke="#ff0000" stroke-width="1.3"/>
<line x1="421.30" y1="222.40" x2="421.30" y2="365.70" stroke="#1a1a1a" stroke-width="1.3" />
<line x1="415.70" y1="365.70" x2="553.60" y2="365.70" stroke="#1a1a1a" stroke-width="1.3" />
<line x1="415.70" y1="365.70" x2="421.30" y2="365.70" stroke="#1a1a1a" stroke-width="1.3" />
<text x="414.20" y="369.59" font-family='"Liberation Sans", sans-serif' font-size="10.8" font-weight="bold" text-anchor="end" fill="#111" >0</text>
<line x1="415.70" y1="317.93" x2="421.30" y2="317.93" stroke="#1a1a1a" stroke-width="1.3" />
<text x="414.20" y="321.82" font-family='"Liberation Sans", sans-serif' font-size="10.8" font-weight="bold" text-anchor="end" fill="#111" >10</text>
<line x1="415.70" y1="270.16" x2="421.30" y2="270.16" stroke="#1a1a1a" stroke-width="1.3" />
<text x="414.20" y="274.05" font-family='"Liberation Sans", sans-serif' font-size="10.8" font-weight="bold" text-anchor="end" fill="#111" >20</text>
<line x1="415.70" y1="222.39" x2="421.30" y2="222.39" stroke="#1a1a1a" stroke-width="1.3" />
<text x="414.20" y="226.28" font-family='"Liberation Sans", sans-serif' font-size="10.8" font-weight="bold" text-anchor="end" fill="#111" >30</text>
<line x1="458.60" y1="365.70" x2="458.60" y2="371.30" stroke="#1a1a1a" stroke-width="1.3" />
<line x1="515.10" y1="365.70" x2="515.10" y2="371.30" stroke="#1a1a1a" stroke-width="1.3" />
<text x="485.00" y="221.60" font-family='"Liberation Sans", sans-serif' font-size="12.4" font-weight="normal" text-anchor="middle" fill="#111" >ns</text>
<line x1="458.10" y1="227.90" x2="512.60" y2="227.90" stroke="#000" stroke-width="2.1" />
<text x="487.20" y="203.80" font-family='"Liberation Sans", sans-serif' font-size="13.6" font-weight="bold" text-anchor="middle" fill="#000" >Open field</text>
<text x="394.90" y="294.60" font-family='"Liberation Sans", sans-serif' font-size="11.7" font-weight="bold" text-anchor="middle" fill="#111" transform="rotate(-90 394.9 294.6)" >Distance (m)</text>
<text x="458.70" y="383.60" font-family='"Liberation Sans", sans-serif' font-size="10.8" font-weight="bold" text-anchor="middle" fill="#111" >Veh</text>
<text x="515.50" y="383.60" font-family='"Liberation Sans", sans-serif' font-size="10.8" font-weight="bold" text-anchor="middle" fill="#111" >40 mg/kg DMI</text>
<rect x="628.60" y="303.00" width="33.80" height="62.60" fill="none" stroke="#0000ff" stroke-width="2.0" />
<rect x="685.00" y="304.20" width="33.50" height="61.40" fill="none" stroke="#ff0000" stroke-width="2.0" />
<line x1="645.20" y1="293.70" x2="645.20" y2="308.10" stroke="#0000ff" stroke-width="1.2" stroke-opacity="0.75"/>
<line x1="636.20" y1="293.70" x2="654.20" y2="293.70" stroke="#0000ff" stroke-width="1.2" stroke-opacity="0.75"/>
<line x1="636.20" y1="308.10" x2="654.20" y2="308.10" stroke="#0000ff" stroke-width="1.2" stroke-opacity="0.75"/>
<line x1="702.30" y1="299.60" x2="702.30" y2="306.50" stroke="#ff0000" stroke-width="1.2" stroke-opacity="0.75"/>
<line x1="692.85" y1="299.60" x2="711.75" y2="299.60" stroke="#ff0000" stroke-width="1.2" stroke-opacity="0.75"/>
<line x1="692.85" y1="306.50" x2="711.75" y2="306.50" stroke="#ff0000" stroke-width="1.2" stroke-opacity="0.75"/>
<circle cx="645.60" cy="267.70" r="1.90" fill="white" stroke="#0000ff" stroke-width="1.3"/>
<circle cx="645.60" cy="293.80" r="1.90" fill="white" stroke="#0000ff" stroke-width="1.3"/>
<circle cx="651.10" cy="294.20" r="1.90" fill="white" stroke="#0000ff" stroke-width="1.3"/>
<circle cx="645.60" cy="298.20" r="1.90" fill="white" stroke="#0000ff" stroke-width="1.3"/>
<circle cx="645.60" cy="312.20" r="1.90" fill="white" stroke="#0000ff" stroke-width="1.3"/>
<circle cx="645.60" cy="317.20" r="1.90" fill="white" stroke="#0000ff" stroke-width="1.3"/>
<circle cx="645.60" cy="323.00" r="1.90" fill="white" stroke="#0000ff" stroke-width="1.3"/>
<circle cx="698.70" cy="286.60" r="1.90" fill="white" stroke="#ff0000" stroke-width="1.3"/>
<circle cx="692.90" cy="303.20" r="1.90" fill="white" stroke="#ff0000" stroke-width="1.3"/>
<circle cx="698.70" cy="303.20" r="1.90" fill="white" stroke="#ff0000" stroke-width="1.3"/>
<circle cx="704.20" cy="303.20" r="1.90" fill="white" stroke="#ff0000" stroke-width="1.3"/>
<circle cx="710.00" cy="302.30" r="1.90" fill="white" stroke="#ff0000" stroke-width="1.3"/>
<circle cx="698.70" cy="307.70" r="1.90" fill="white" stroke="#ff0000" stroke-width="1.3"/>
<circle cx="698.70" cy="312.70" r="1.90" fill="white" stroke="#ff0000" stroke-width="1.3"/>
<line x1="608.50" y1="222.60" x2="608.50" y2="365.60" stroke="#1a1a1a" stroke-width="1.3" />
<line x1="602.90" y1="365.60" x2="739.80" y2="365.60" stroke="#1a1a1a" stroke-width="1.3" />
<line x1="602.90" y1="365.60" x2="608.50" y2="365.60" stroke="#1a1a1a" stroke-width="1.3" />
<text x="601.40" y="369.56" font-family='"Liberation Sans", sans-serif' font-size="11.0" font-weight="bold" text-anchor="end" fill="#111" >0.00</text>
<line x1="602.90" y1="317.97" x2="608.50" y2="317.97" stroke="#1a1a1a" stroke-width="1.3" />
<text x="601.40" y="321.93" font-family='"Liberation Sans", sans-serif' font-size="11.0" font-weight="bold" text-anchor="end" fill="#111" >0.05</text>
<line x1="602.90" y1="270.34" x2="608.50" y2="270.34" stroke="#1a1a1a" stroke-width="1.3" />
<text x="601.40" y="274.30" font-family='"Liberation Sans", sans-serif' font-size="11.0" font-weight="bold" text-anchor="end" fill="#111" >0.10</text>
<line x1="602.90" y1="222.71" x2="608.50" y2="222.71" stroke="#1a1a1a" stroke-width="1.3" />
<text x="601.40" y="226.67" font-family='"Liberation Sans", sans-serif' font-size="11.0" font-weight="bold" text-anchor="end" fill="#111" >0.15</text>
<line x1="645.50" y1="365.60" x2="645.50" y2="371.20" stroke="#1a1a1a" stroke-width="1.3" />
<line x1="701.60" y1="365.60" x2="701.60" y2="371.20" stroke="#1a1a1a" stroke-width="1.3" />
<text x="671.30" y="250.60" font-family='"Liberation Sans", sans-serif' font-size="12.2" font-weight="normal" text-anchor="middle" fill="#111" >ns</text>
<line x1="643.70" y1="257.40" x2="699.60" y2="257.40" stroke="#000" stroke-width="2.1" />
<text x="673.90" y="203.80" font-family='"Liberation Sans", sans-serif' font-size="13.6" font-weight="bold" text-anchor="middle" fill="#000" >Open field</text>
<text x="572.90" y="293.80" font-family='"Liberation Sans", sans-serif' font-size="11.8" font-weight="bold" text-anchor="middle" fill="#111" transform="rotate(-90 572.9 293.8)" >mean speed (m/s)</text>
<text x="645.40" y="383.90" font-family='"Liberation Sans", sans-serif' font-size="10.8" font-weight="bold" text-anchor="middle" fill="#111" >Veh</text>
<text x="701.90" y="383.90" font-family='"Liberation Sans", sans-serif' font-size="10.8" font-weight="bold" text-anchor="middle" fill="#111" >40 mg/kg DMI</text>
<rect x="794.45" y="282.05" width="30.70" height="88.35" fill="none" stroke="#0000ff" stroke-width="1.9" />
<rect x="845.55" y="289.85" width="30.60" height="80.55" fill="none" stroke="#ff0000" stroke-width="1.9" />
<line x1="809.80" y1="263.60" x2="809.80" y2="296.70" stroke="#0000ff" stroke-width="1.1" stroke-opacity="0.75"/>
<line x1="801.40" y1="263.60" x2="818.20" y2="263.60" stroke="#0000ff" stroke-width="1.1" stroke-opacity="0.75"/>
<line x1="801.40" y1="296.70" x2="818.20" y2="296.70" stroke="#0000ff" stroke-width="1.1" stroke-opacity="0.75"/>
<line x1="860.80" y1="278.60" x2="860.80" y2="296.70" stroke="#ff0000" stroke-width="1.1" stroke-opacity="0.75"/>
<line x1="852.55" y1="278.60" x2="869.05" y2="278.60" stroke="#ff0000" stroke-width="1.1" stroke-opacity="0.75"/>
<line x1="852.55" y1="296.70" x2="869.05" y2="296.70" stroke="#ff0000" stroke-width="1.1" stroke-opacity="0.75"/>
<circle cx="809.70" cy="228.90" r="1.80" fill="white" stroke="#0000ff" stroke-width="1.2"/>
<circle cx="809.70" cy="241.60" r="1.80" fill="white" stroke="#0000ff" stroke-width="1.2"/>
<circle cx="809.70" cy="254.30" r="1.80" fill="white" stroke="#0000ff" stroke-width="1.2"/>
<circle cx="809.70" cy="267.50" r="1.80" fill="white" stroke="#0000ff" stroke-width="1.2"/>
<circle cx="809.70" cy="306.40" r="1.80" fill="white" stroke="#0000ff" stroke-width="1.2"/>
<circle cx="809.70" cy="319.00" r="1.80" fill="white" stroke="#0000ff" stroke-width="1.2"/>
<circle cx="809.70" cy="345.10" r="1.80" fill="white" stroke="#0000ff" stroke-width="1.2"/>
<circle cx="860.70" cy="241.60" r="1.80" fill="white" stroke="#ff0000" stroke-width="1.2"/>
<circle cx="853.50" cy="280.30" r="1.80" fill="white" stroke="#ff0000" stroke-width="1.2"/>
<circle cx="867.90" cy="280.30" r="1.80" fill="white" stroke="#ff0000" stroke-width="1.2"/>
<circle cx="853.50" cy="293.30" r="1.80" fill="white" stroke="#ff0000" stroke-width="1.2"/>
<circle cx="860.70" cy="293.30" r="1.80" fill="white" stroke="#ff0000" stroke-width="1.2"/>
<circle cx="860.70" cy="306.40" r="1.80" fill="white" stroke="#ff0000" stroke-width="1.2"/>
<circle cx="860.70" cy="319.00" r="1.80" fill="white" stroke="#ff0000" stroke-width="1.2"/>
<line x1="775.20" y1="216.20" x2="775.20" y2="370.40" stroke="#1a1a1a" stroke-width="1.3" />
<line x1="770.60" y1="370.40" x2="895.40" y2="370.40" stroke="#1a1a1a" stroke-width="1.3" />
<line x1="770.60" y1="370.40" x2="775.20" y2="370.40" stroke="#1a1a1a" stroke-width="1.3" />
<text x="769.40" y="373.64" font-family='"Liberation Sans", sans-serif' font-size="9.0" font-weight="bold" text-anchor="end" fill="#111"  stroke="#111" stroke-width="0.22">10</text>
<line x1="770.60" y1="344.72" x2="775.20" y2="344.72" stroke="#1a1a1a" stroke-width="1.3" />
<text x="769.40" y="347.96" font-family='"Liberation Sans", sans-serif' font-size="9.0" font-weight="bold" text-anchor="end" fill="#111"  stroke="#111" stroke-width="0.22">12</text>
<line x1="770.60" y1="319.04" x2="775.20" y2="319.04" stroke="#1a1a1a" stroke-width="1.3" />
<text x="769.40" y="322.28" font-family='"Liberation Sans", sans-serif' font-size="9.0" font-weight="bold" text-anchor="end" fill="#111"  stroke="#111" stroke-width="0.22">14</text>
<line x1="770.60" y1="293.36" x2="775.20" y2="293.36" stroke="#1a1a1a" stroke-width="1.3" />
<text x="769.40" y="296.60" font-family='"Liberation Sans", sans-serif' font-size="9.0" font-weight="bold" text-anchor="end" fill="#111"  stroke="#111" stroke-width="0.22">16</text>
<line x1="770.60" y1="267.68" x2="775.20" y2="267.68" stroke="#1a1a1a" stroke-width="1.3" />
<text x="769.40" y="270.92" font-family='"Liberation Sans", sans-serif' font-size="9.0" font-weight="bold" text-anchor="end" fill="#111"  stroke="#111" stroke-width="0.22">18</text>
<line x1="770.60" y1="242.00" x2="775.20" y2="242.00" stroke="#1a1a1a" stroke-width="1.3" />
<text x="769.40" y="245.24" font-family='"Liberation Sans", sans-serif' font-size="9.0" font-weight="bold" text-anchor="end" fill="#111"  stroke="#111" stroke-width="0.22">20</text>
<line x1="770.60" y1="216.32" x2="775.20" y2="216.32" stroke="#1a1a1a" stroke-width="1.3" />
<text x="769.40" y="219.56" font-family='"Liberation Sans", sans-serif' font-size="9.0" font-weight="bold" text-anchor="end" fill="#111"  stroke="#111" stroke-width="0.22">22</text>
<line x1="809.80" y1="370.40" x2="809.80" y2="375.00" stroke="#1a1a1a" stroke-width="1.3" />
<line x1="860.90" y1="370.40" x2="860.90" y2="375.00" stroke="#1a1a1a" stroke-width="1.3" />
<text x="835.60" y="215.60" font-family='"Liberation Sans", sans-serif' font-size="10.5" font-weight="normal" text-anchor="middle" fill="#111" >ns</text>
<line x1="809.40" y1="221.30" x2="861.40" y2="221.30" stroke="#000" stroke-width="1.7" />
<text x="806.60" y="199.90" font-family='"Liberation Sans", sans-serif' font-size="11.8" font-weight="bold" text-anchor="start" fill="#000" >Open field</text>
<text x="752.60" y="293.10" font-family='"Liberation Sans", sans-serif' font-size="9.8" font-weight="bold" text-anchor="middle" fill="#111" transform="rotate(-90 752.6 293.1)" >Number of entries</text>
<text x="809.85" y="385.70" font-family='"Liberation Sans", sans-serif' font-size="9.1" font-weight="bold" text-anchor="middle" fill="#111"  stroke="#111" stroke-width="0.22">Veh</text>
<text x="860.90" y="385.70" font-family='"Liberation Sans", sans-serif' font-size="9.1" font-weight="bold" text-anchor="middle" fill="#111"  stroke="#111" stroke-width="0.22">40 mg/kg DMI</text>
<rect x="959.75" y="290.35" width="30.50" height="80.15" fill="none" stroke="#0000ff" stroke-width="1.9" />
<rect x="1010.75" y="299.15" width="30.50" height="71.35" fill="none" stroke="#ff0000" stroke-width="1.9" />
<line x1="974.90" y1="276.20" x2="974.90" y2="300.50" stroke="#0000ff" stroke-width="1.1" stroke-opacity="0.75"/>
<line x1="966.60" y1="276.20" x2="983.20" y2="276.20" stroke="#0000ff" stroke-width="1.1" stroke-opacity="0.75"/>
<line x1="966.60" y1="300.50" x2="983.20" y2="300.50" stroke="#0000ff" stroke-width="1.1" stroke-opacity="0.75"/>
<line x1="1026.20" y1="292.40" x2="1026.20" y2="302.80" stroke="#ff0000" stroke-width="1.1" stroke-opacity="0.75"/>
<line x1="1018.00" y1="292.40" x2="1034.40" y2="292.40" stroke="#ff0000" stroke-width="1.1" stroke-opacity="0.75"/>
<line x1="1018.00" y1="302.80" x2="1034.40" y2="302.80" stroke="#ff0000" stroke-width="1.1" stroke-opacity="0.75"/>
<circle cx="975.10" cy="230.70" r="1.80" fill="white" stroke="#0000ff" stroke-width="1.2"/>
<circle cx="975.10" cy="261.30" r="1.80" fill="white" stroke="#0000ff" stroke-width="1.2"/>
<circle cx="967.70" cy="293.60" r="1.80" fill="white" stroke="#0000ff" stroke-width="1.2"/>
<circle cx="975.10" cy="295.90" r="1.80" fill="white" stroke="#0000ff" stroke-width="1.2"/>
<circle cx="967.70" cy="305.10" r="1.80" fill="white" stroke="#0000ff" stroke-width="1.2"/>
<circle cx="982.30" cy="305.10" r="1.80" fill="white" stroke="#0000ff" stroke-width="1.2"/>
<circle cx="975.10" cy="327.80" r="1.80" fill="white" stroke="#0000ff" stroke-width="1.2"/>
<circle cx="1018.70" cy="279.00" r="1.80" fill="white" stroke="#ff0000" stroke-width="1.2"/>
<circle cx="1026.10" cy="282.00" r="1.80" fill="white" stroke="#ff0000" stroke-width="1.2"/>
<circle cx="1026.10" cy="294.00" r="1.80" fill="white" stroke="#ff0000" stroke-width="1.2"/>
<circle cx="1026.10" cy="298.20" r="1.80" fill="white" stroke="#ff0000" stroke-width="1.2"/>
<circle cx="1033.20" cy="307.00" r="1.80" fill="white" stroke="#ff0000" stroke-width="1.2"/>
<circle cx="1026.10" cy="309.10" r="1.80" fill="white" stroke="#ff0000" stroke-width="1.2"/>
<circle cx="1026.10" cy="314.40" r="1.80" fill="white" stroke="#ff0000" stroke-width="1.2"/>
<line x1="941.30" y1="215.90" x2="941.30" y2="370.50" stroke="#1a1a1a" stroke-width="1.3" />
<line x1="936.70" y1="370.50" x2="1060.40" y2="370.50" stroke="#1a1a1a" stroke-width="1.3" />
<line x1="936.70" y1="370.50" x2="941.30" y2="370.50" stroke="#1a1a1a" stroke-width="1.3" />
<text x="935.50" y="373.74" font-family='"Liberation Sans", sans-serif' font-size="9.0" font-weight="bold" text-anchor="end" fill="#111"  stroke="#111" stroke-width="0.22">0</text>
<line x1="936.70" y1="339.58" x2="941.30" y2="339.58" stroke="#1a1a1a" stroke-width="1.3" />
<text x="935.50" y="342.82" font-family='"Liberation Sans", sans-serif' font-size="9.0" font-weight="bold" text-anchor="end" fill="#111"  stroke="#111" stroke-width="0.22">10</text>
<line x1="936.70" y1="308.66" x2="941.30" y2="308.66" stroke="#1a1a1a" stroke-width="1.3" />
<text x="935.50" y="311.90" font-family='"Liberation Sans", sans-serif' font-size="9.0" font-weight="bold" text-anchor="end" fill="#111"  stroke="#111" stroke-width="0.22">20</text>
<line x1="936.70" y1="277.74" x2="941.30" y2="277.74" stroke="#1a1a1a" stroke-width="1.3" />
<text x="935.50" y="280.98" font-family='"Liberation Sans", sans-serif' font-size="9.0" font-weight="bold" text-anchor="end" fill="#111"  stroke="#111" stroke-width="0.22">30</text>
<line x1="936.70" y1="246.82" x2="941.30" y2="246.82" stroke="#1a1a1a" stroke-width="1.3" />
<text x="935.50" y="250.06" font-family='"Liberation Sans", sans-serif' font-size="9.0" font-weight="bold" text-anchor="end" fill="#111"  stroke="#111" stroke-width="0.22">40</text>
<line x1="936.70" y1="215.90" x2="941.30" y2="215.90" stroke="#1a1a1a" stroke-width="1.3" />
<text x="935.50" y="219.14" font-family='"Liberation Sans", sans-serif' font-size="9.0" font-weight="bold" text-anchor="end" fill="#111"  stroke="#111" stroke-width="0.22">50</text>
<line x1="975.10" y1="370.50" x2="975.10" y2="375.10" stroke="#1a1a1a" stroke-width="1.3" />
<line x1="1025.90" y1="370.50" x2="1025.90" y2="375.10" stroke="#1a1a1a" stroke-width="1.3" />
<text x="1000.80" y="213.60" font-family='"Liberation Sans", sans-serif' font-size="10.5" font-weight="normal" text-anchor="middle" fill="#111" >ns</text>
<line x1="974.00" y1="219.10" x2="1028.00" y2="219.10" stroke="#000" stroke-width="1.7" />
<text x="1000.60" y="200.80" font-family='"Liberation Sans", sans-serif' font-size="11.8" font-weight="bold" text-anchor="middle" fill="#000" >Open field</text>
<text x="918.20" y="290.80" font-family='"Liberation Sans", sans-serif' font-size="9.8" font-weight="bold" text-anchor="middle" fill="#111" transform="rotate(-90 918.2 290.8)" >Time in center zone (s)</text>
<text x="975.30" y="385.70" font-family='"Liberation Sans", sans-serif' font-size="9.1" font-weight="bold" text-anchor="middle" fill="#111"  stroke="#111" stroke-width="0.22">Veh</text>
<text x="1025.90" y="385.70" font-family='"Liberation Sans", sans-serif' font-size="9.1" font-weight="bold" text-anchor="middle" fill="#111"  stroke="#111" stroke-width="0.22">40 mg/kg DMI</text>
<text x="94.30" y="208.60" font-family='"Liberation Serif", serif' font-size="21" font-weight="bold" text-anchor="middle" fill="#000" >Veh</text>
<text x="279.70" y="208.40" font-family='"Liberation Serif", serif' font-size="21" font-weight="bold" text-anchor="middle" fill="#000" >40 mg/kg DMI</text>
<path d="M23.0,221.9 L24.2,221.6 L25.9,221.5 L28.0,220.7 L30.2,220.3 L32.0,219.4 L34.2,218.9 L35.4,219.2 L37.5,219.2 L38.5,220.0 L40.5,220.4 L42.5,221.2 L44.5,221.6 L46.7,222.2 L48.7,222.1 L50.9,222.4 L52.8,222.2 L55.3,222.2 L57.1,222.2 L59.1,222.2 L60.6,222.4 L62.7,222.0 L64.5,222.2 L66.0,222.1 L68.0,221.9 L69.6,221.8 L70.9,221.1 L73.0,220.6 L74.8,220.9 L76.9,220.7 L78.4,221.1 L80.7,221.1 L82.6,221.0 L84.3,221.4 L86.7,221.8 L88.2,222.0 L90.3,222.1 L92.2,221.6 L93.6,221.6 L96.1,221.4 L98.1,220.9 L100.2,220.5 L101.9,220.4 L104.1,220.8 L106.0,220.6 L107.7,220.5 L109.3,220.5 L110.6,220.5 L112.4,220.9 L114.3,221.1 L116.1,221.1 L117.8,221.6 L119.5,221.5 L121.5,221.1 L123.6,221.2 L125.7,221.0 L127.9,220.5 L130.4,220.7 L132.1,220.2 L134.2,220.3 L136.2,220.2 L137.7,220.1 L139.9,220.6 L141.2,220.6 L142.9,220.8 L145.0,221.1 L146.7,221.2 L148.2,221.1 L150.9,221.1 L152.5,221.4 L154.7,221.2 L156.7,220.9 L157.8,221.1 M15.4,218.9 L16.5,219.2 L18.2,219.3 L20.5,219.5 L23.2,219.9 L25.4,220.1 L28.0,220.4 L30.0,220.4 L32.0,220.8 L34.2,221.1 L36.0,221.4 L37.9,221.6 L39.6,221.7 L41.4,221.5 L43.4,222.0 L45.4,221.6 L47.1,221.7 L49.3,221.7 L51.0,221.5 L52.9,221.3 L54.7,221.0 L56.3,220.5 L58.5,220.1 L60.4,219.8 L62.1,219.9 L63.9,219.9 L66.4,220.3 L67.9,220.9 L70.2,221.6 L72.5,222.3 L74.5,222.4 L76.5,222.2 L78.7,222.3 L80.9,221.9 L83.0,221.4 L85.0,220.9 L86.3,220.6 L88.3,220.4 L89.6,220.3 L91.6,219.9 L93.1,219.8 L95.1,219.6 L96.7,219.4 L98.9,219.0 L101.1,219.4 L102.9,219.9 L105.1,219.7 L107.2,220.3 L109.4,220.5 L111.2,220.8 L113.2,221.1 L115.2,221.4 L117.2,221.6 L119.0,221.9 L121.0,222.1 L122.8,221.9 L125.0,221.6 L127.0,221.7 L128.6,221.6 L130.9,221.2 L132.9,221.3 L134.3,221.3 L136.1,221.0 L137.6,221.4 L139.5,221.5 L141.5,221.5 L143.2,222.0 L145.6,221.9 L147.7,221.6 L150.1,221.9 L152.6,221.4 L154.4,221.1 L156.0,220.8 M11.0,217.2 L12.8,217.1 L14.4,217.3 L16.3,217.7 L18.5,218.0 L20.7,217.9 L22.9,218.2 L25.2,217.9 L27.6,217.6 L29.7,217.5 L31.7,217.2 L33.8,216.8 L35.7,216.2 L37.5,216.3 L39.5,216.5 L42.0,216.6 L44.3,216.7 L46.1,216.9 L48.2,217.1 L49.7,217.2 L51.3,217.7 L53.3,217.8 L55.2,217.8 L57.1,218.2 L59.1,217.9 L61.5,218.2 L63.2,217.8 L64.9,217.6 L66.5,217.1 L68.4,217.1 L70.2,216.9 L72.3,216.9 L74.5,217.4 L76.9,217.8 L78.7,218.4 L80.8,219.0 L82.4,219.2 L84.3,219.3 L86.4,218.8 L88.6,218.5 L90.9,218.1 L93.4,217.6 L95.5,217.4 L97.3,217.0 L99.3,216.6 L101.2,216.7 L102.9,216.7 L105.1,216.7 L107.3,216.5 L109.5,216.6 L111.3,216.5 L113.3,216.6 L115.0,216.5 L116.7,216.8 L118.4,216.1 L120.5,216.2 L122.1,215.9 L124.5,216.5 L126.6,216.4 L128.5,216.6 L130.0,216.8 L131.8,217.0 L133.7,216.9 L135.9,217.2 L138.0,217.2 L140.2,217.2 L142.1,217.2 L144.7,216.8 L146.5,216.6 L148.9,216.5 L151.1,216.6 L153.1,216.1 L154.5,215.7 M14.1,218.0 L15.3,218.3 L17.1,218.3 L19.1,218.5 L21.5,218.9 L23.5,219.1 L25.8,219.3 L27.9,218.9 L29.7,219.4 L31.6,219.2 L33.3,219.4 L35.1,219.4 L36.7,219.2 L38.6,219.4 L40.6,219.4 L42.5,219.3 L44.8,219.2 L46.9,218.9 L49.1,218.9 L51.0,218.6 L52.8,218.5 L54.9,218.2 L57.0,218.3 L58.9,218.3 L60.8,218.7 L63.0,218.5 L65.5,218.8 L67.7,219.4 L69.8,219.4 L71.9,219.5 L73.6,219.8 L75.4,219.6 L77.1,219.4 L79.0,219.5 L80.9,219.5 L83.1,218.9 L84.8,218.9 L86.8,218.8 L88.8,218.6 L90.5,218.2 L92.5,218.2 L94.1,218.3 L96.0,218.3 L98.1,218.6 L100.0,219.1 L102.1,219.3 L104.1,219.8 L106.5,219.6 L108.3,219.9 L110.7,219.9 L112.9,219.7 L115.1,219.7 L116.8,219.4 L118.3,219.2 L120.5,219.2 L122.7,219.2 L124.8,219.0 L127.1,219.0 L129.1,219.2 L131.4,219.1 L133.1,219.0 L134.6,219.3 L136.5,219.3 L138.2,219.8 L140.1,220.2 L141.9,220.2 L143.8,220.3 L145.9,220.2 L148.2,220.2 L150.7,220.3 L152.5,220.2 L154.5,220.3 L155.6,220.2 M15.9,218.0 L16.8,218.5 L18.5,218.9 L20.4,219.6 L22.4,220.5 L24.8,220.6 L26.7,221.0 L28.7,221.3 L30.9,221.5 L32.4,221.6 L33.9,221.4 L35.5,221.4 L37.1,221.1 L38.6,221.3 L40.7,220.5 L42.9,219.9 L44.7,219.2 L46.7,218.6 L48.6,218.0 L50.5,217.6 L52.0,217.9 L54.3,218.0 L56.0,218.6 L58.3,219.0 L60.2,219.3 L62.4,219.5 L64.7,219.9 L66.3,219.9 L68.3,220.0 L69.7,219.8 L71.4,219.4 L73.1,219.3 L75.1,218.8 L76.9,218.5 L78.6,218.5 L80.7,218.4 L82.0,218.1 L84.1,218.1 L85.2,218.6 L87.4,219.0 L89.0,219.3 L91.2,219.5 L93.4,219.7 L95.6,219.9 L97.6,219.6 L99.1,219.6 L101.0,219.8 L102.8,219.2 L104.6,219.7 L106.9,220.0 L109.0,220.1 L111.2,220.5 L112.8,221.0 L115.0,220.8 L116.5,221.0 L118.2,220.4 L119.8,219.8 L121.3,219.7 L123.0,219.3 L124.7,219.0 L127.0,218.9 L128.9,219.1 L130.3,219.2 L132.5,219.3 L134.1,219.8 L135.6,219.9 L137.8,220.1 L139.7,220.1 L142.4,219.9 L145.1,219.9 L147.2,219.8 L149.0,219.7 L150.1,219.2 M10.3,218.2 L10.0,219.4 L9.8,221.0 L9.7,222.7 L9.2,224.9 L9.2,227.2 L8.5,229.4 L8.8,230.9 L8.2,233.6 L8.4,235.0 L8.3,237.5 L7.5,239.4 L7.7,241.1 L7.5,243.0 L7.7,244.8 L8.2,246.4 L8.8,248.3 L9.4,250.0 L9.9,251.5 L9.8,253.6 L9.8,255.2 L9.3,257.5 L9.1,260.0 L8.9,261.7 L8.8,264.0 L8.6,266.1 L8.4,267.9 L8.6,269.7 L8.5,271.3 L8.1,273.0 L7.7,274.5 L7.5,276.5 L7.3,277.9 L7.9,280.1 L8.3,282.1 L8.7,283.9 L8.9,286.1 L9.6,288.3 L9.1,290.4 L8.9,292.2 L9.0,294.4 L8.7,296.2 L8.4,297.9 L8.3,299.6 L8.2,300.8 L8.3,302.9 L8.3,304.1 L8.7,306.2 L8.1,308.4 L8.0,310.4 L7.6,312.6 L7.8,314.7 L8.3,316.9 L8.3,318.9 L9.2,321.0 L9.5,322.7 L10.3,324.5 L10.7,325.9 L10.8,327.5 L11.0,329.1 L10.8,331.1 L10.5,332.6 L10.2,334.5 L9.5,337.0 L9.1,339.2 L8.6,341.2 L8.1,343.4 L7.8,345.7 L7.6,347.6 L7.7,349.9 L8.0,351.5 L8.4,353.0 L8.8,353.8 M9.7,232.2 L9.5,233.4 L9.4,234.8 L9.4,236.6 L9.5,238.6 L9.1,240.7 L9.1,242.5 L9.4,244.5 L9.5,246.6 L10.2,248.4 L10.3,250.1 L10.8,252.4 L11.3,254.0 L11.4,256.2 L11.3,257.8 L11.2,259.8 L10.9,261.4 L11.0,263.2 L10.8,264.9 L10.3,266.3 L10.0,268.2 L9.9,269.7 L9.6,271.5 L9.6,273.1 L9.2,275.0 L9.4,276.2 L9.5,278.0 L9.3,279.7 L9.5,281.7 L9.5,283.4 L9.3,285.4 L9.3,287.2 L9.2,289.4 L8.7,291.2 L8.4,293.1 L8.4,294.9 L8.3,296.7 L8.3,298.7 L8.7,300.7 L8.8,302.1 L9.4,303.9 L9.8,305.5 L10.2,307.4 L10.6,308.7 L11.0,310.1 L11.1,312.0 L11.4,313.4 L11.4,315.2 L11.4,317.2 L10.9,318.9 L10.2,320.6 L9.8,322.6 L9.1,323.9 L8.7,326.0 L8.3,328.0 L8.6,329.9 L8.8,331.8 L8.8,333.8 L9.6,335.5 L9.7,337.9 L10.6,339.4 L10.5,341.2 L10.5,342.6 L10.2,344.7 L10.5,346.4 L10.2,347.9 L10.2,349.8 L10.0,351.5 L10.1,353.1 L10.0,355.1 L9.8,357.2 L9.7,358.5 L10.2,359.7 M8.3,224.7 L8.1,226.0 L8.0,227.6 L8.0,230.0 L7.9,232.4 L8.4,235.0 L8.9,237.0 L8.8,239.3 L8.8,240.8 L8.8,242.5 L8.7,244.2 L8.5,245.5 L8.5,247.0 L8.5,248.8 L8.8,250.1 L8.8,251.8 L9.0,253.9 L9.4,255.7 L9.2,257.7 L8.9,259.8 L8.6,261.8 L8.2,264.0 L8.3,265.7 L8.3,267.8 L8.7,269.3 L8.8,271.0 L9.2,272.7 L9.9,274.3 L10.3,276.1 L10.1,277.7 L10.1,279.4 L10.0,281.2 L9.9,283.0 L9.8,284.8 L9.5,287.0 L9.5,288.8 L9.8,290.6 L9.4,292.5 L9.2,294.5 L9.2,296.3 L8.9,298.2 L9.0,299.6 L9.0,301.4 L9.3,303.2 L9.0,305.0 L8.8,306.7 L8.9,308.4 L8.4,310.4 L8.2,312.2 L8.0,313.6 L8.1,315.8 L8.2,317.3 L8.5,319.3 L8.6,321.1 L8.9,323.0 L9.4,325.0 L9.6,326.8 L9.4,328.6 L9.8,330.6 L9.8,332.5 L9.5,334.4 L9.5,336.2 L9.1,337.6 L9.0,339.3 L9.0,340.9 L8.6,342.6 L8.4,344.3 L8.5,346.0 L8.2,348.4 L8.4,350.4 L8.3,352.6 L8.3,354.3 L8.6,355.6 M10.0,223.3 L9.9,224.9 L9.9,226.8 L10.2,229.1 L10.2,231.3 L10.5,233.7 L10.3,236.1 L10.7,237.7 L10.6,239.4 L10.3,241.6 L10.1,243.3 L9.9,245.3 L9.5,247.0 L9.7,249.0 L9.4,250.6 L9.7,252.6 L9.6,254.6 L9.9,256.4 L10.0,258.6 L9.9,260.5 L9.4,262.7 L9.3,264.6 L8.7,266.8 L8.6,268.7 L8.2,270.8 L8.2,272.6 L8.3,274.8 L8.3,276.7 L8.5,278.6 L8.5,280.9 L8.7,282.6 L9.1,285.0 L9.7,286.9 L10.0,289.3 L10.2,290.9 L10.3,293.4 L10.1,294.8 L10.4,297.1 L10.3,298.8 L10.1,300.5 L10.4,302.5 L10.5,304.3 L10.3,306.0 L10.5,307.6 L10.1,309.5 L9.7,311.8 L9.4,313.5 L8.8,315.4 L8.7,317.3 L8.5,319.9 L8.5,321.9 L9.0,324.4 L9.4,326.7 L9.4,328.6 L9.8,330.9 L9.8,333.2 L9.7,334.9 L9.8,336.9 L9.5,338.9 L9.8,340.5 L9.4,342.4 L9.4,344.3 L9.6,346.1 L9.7,347.6 L10.1,349.5 L10.7,351.4 L10.9,353.2 L10.8,355.5 L11.0,357.8 L10.6,360.0 L10.4,362.5 L10.3,364.1 L10.3,365.6 M162.0,223.0 L162.0,223.9 L161.9,224.6 L161.8,226.2 L161.7,227.5 L161.5,228.4 L161.0,229.1 L160.6,230.4 L160.7,231.2 L161.0,232.6 L160.9,233.8 L161.4,235.2 L161.3,236.6 L161.1,237.9 L161.2,239.7 L161.0,240.9 L160.9,242.6 L160.7,243.9 L160.8,245.2 L160.8,246.6 L161.3,247.7 L161.8,248.7 L162.1,249.8 L162.8,250.8 L163.1,251.8 L163.3,252.7 L163.3,253.9 L163.3,254.9 L163.2,256.2 L163.1,257.3 L162.7,259.0 L162.3,260.3 L162.0,261.5 L161.6,263.3 L161.6,264.4 L161.3,266.1 L161.1,267.5 L161.2,269.0 L161.4,270.1 L161.6,270.9 L162.2,272.0 L162.1,272.9 L162.3,274.3 L162.2,275.0 L162.0,276.0 L161.6,277.2 L161.5,278.2 L161.1,279.8 L161.2,281.1 L161.8,282.5 L161.9,283.7 L162.6,285.7 L162.7,286.9 L163.1,288.2 L163.3,290.0 L163.0,291.0 L163.3,292.2 L162.8,293.4 L162.2,294.6 L162.5,295.4 L161.9,296.7 L161.6,297.4 L161.5,298.2 L161.4,299.2 L161.3,300.7 L161.4,301.9 L162.0,303.5 L161.7,305.1 L162.1,306.6 L162.4,308.2 L162.3,310.1 L162.6,311.4 L162.3,312.0 M163.1,243.6 L162.7,244.0 L162.7,244.8 L162.5,245.6 L162.6,246.6 L162.6,247.2 L162.5,248.2 L162.8,248.5 L162.8,249.6 L162.5,250.4 L162.3,250.8 L162.2,251.2 L162.1,251.9 L162.0,252.8 L162.2,253.1 L162.9,253.8 L163.2,254.5 L163.6,255.3 L163.9,255.5 L164.0,256.4 L163.9,257.1 L164.0,258.0 L163.8,258.7 L163.6,259.4 L163.4,260.3 L163.6,260.9 L163.4,261.8 L163.1,262.4 L163.1,263.2 L162.6,263.5 L162.7,264.4 L162.3,264.9 L162.0,265.4 L162.1,265.9 L162.0,266.5 L162.6,267.3 L162.8,267.9 L163.0,268.9 L162.7,269.2 L162.7,270.6 L162.8,271.3 L162.1,272.0 L162.0,272.8 L162.1,273.6 L162.3,274.2 L162.7,274.6 L163.3,274.8 L163.3,275.4 L163.8,275.9 L163.8,276.5 L163.5,276.9 L163.0,277.8 L162.7,278.7 L162.1,279.4 L161.7,280.6 L162.2,281.3 L162.5,282.1 L162.6,282.8 L163.2,283.7 L163.5,284.4 L163.9,284.9 L163.8,285.7 L163.6,285.6 L163.7,286.1 L163.7,286.5 L163.4,287.4 L163.1,287.9 L163.4,288.6 L163.4,289.4 L163.1,290.5 L162.8,291.4 L162.2,292.4 L161.6,293.3 M161.3,233.8 L161.0,234.9 L160.3,236.4 L160.1,238.7 L159.8,240.5 L160.2,243.2 L160.1,245.4 L160.2,247.2 L160.3,249.6 L160.7,251.5 L160.5,253.5 L160.9,255.2 L161.3,257.0 L161.4,258.4 L161.9,259.9 L161.8,261.1 L161.1,263.1 L160.7,264.9 L160.5,266.5 L160.6,269.0 L160.0,270.8 L160.2,273.0 L160.4,275.1 L160.6,277.3 L160.1,279.1 L160.0,280.7 L159.7,282.5 L159.7,284.6 L159.6,286.4 L159.8,287.8 L160.3,289.7 L160.3,291.3 L160.4,293.3 L160.1,294.9 L159.9,296.8 L160.0,298.8 L159.8,300.2 L160.3,302.1 L160.8,303.9 L161.1,306.1 L161.4,307.9 L161.5,310.1 L161.2,312.4 L161.1,314.2 L161.2,316.2 L161.1,318.4 L161.3,319.8 L161.5,321.5 L161.1,323.0 L161.2,324.5 L160.7,325.9 L160.3,327.7 L159.8,329.4 L160.0,331.5 L160.0,333.7 L160.3,335.7 L160.5,337.9 L160.7,340.4 L160.2,342.1 L160.3,344.1 L160.0,346.1 L160.5,347.8 L160.6,349.0 L160.5,351.0 L160.6,352.3 L160.2,354.4 L160.1,355.9 L159.7,358.0 L159.5,360.1 L159.7,362.3 L159.8,364.5 L160.3,366.1 L160.2,367.1 M160.5,228.7 L160.8,230.2 L160.7,232.5 L160.9,234.3 L161.3,236.5 L161.4,238.6 L161.7,240.8 L161.9,242.7 L161.7,244.2 L161.3,246.1 L161.1,247.7 L160.8,249.1 L160.8,250.5 L161.1,252.1 L161.1,254.0 L161.0,255.5 L161.4,257.2 L161.5,258.9 L161.4,260.8 L160.9,262.8 L160.8,264.9 L160.2,266.8 L159.5,268.8 L159.0,271.0 L158.5,273.2 L158.2,275.0 L158.4,276.8 L158.6,278.5 L158.8,280.0 L159.2,281.6 L159.4,283.3 L159.7,284.6 L160.2,286.2 L160.6,287.6 L160.8,289.6 L160.7,291.4 L160.6,292.8 L160.7,294.4 L160.6,296.8 L160.9,298.5 L161.2,300.7 L161.2,302.9 L161.4,304.6 L161.1,307.5 L160.8,308.9 L160.3,310.8 L159.9,312.5 L159.3,314.0 L159.3,315.6 L159.2,317.3 L159.6,318.7 L159.8,320.2 L160.2,321.9 L160.5,323.6 L160.9,325.2 L161.0,326.9 L161.1,328.6 L161.0,330.6 L160.5,332.8 L160.1,334.9 L160.2,336.9 L160.0,338.9 L160.6,340.7 L161.0,342.9 L161.3,344.5 L162.0,346.2 L162.2,347.9 L162.3,349.5 L161.9,351.7 L161.7,353.2 L161.6,355.0 L161.0,356.4 L160.6,357.6 M28.0,367.4 L29.2,367.5 L31.2,368.0 L33.1,367.8 L34.9,367.8 L36.8,368.3 L38.5,368.0 L39.9,367.9 L41.8,368.0 L43.5,367.9 L45.3,368.1 L47.1,367.9 L49.3,368.2 L50.8,367.8 L52.4,367.8 L54.0,367.6 L55.2,367.2 L56.7,366.9 L58.7,366.9 L61.0,367.0 L62.7,366.2 L64.8,366.5 L66.5,366.3 L68.3,366.5 L70.1,366.5 L71.7,367.0 L73.3,367.6 L75.2,368.2 L77.0,368.6 L79.5,368.7 L81.3,368.5 L83.2,368.8 L85.2,368.1 L86.7,367.5 L88.3,367.2 L90.2,366.6 L91.9,366.5 L93.7,366.3 L95.7,366.7 L97.4,366.4 L99.5,366.3 L100.8,366.0 L102.5,366.6 L104.0,366.4 L105.2,366.4 L107.2,366.5 L108.8,366.6 L110.6,367.3 L112.5,367.6 L114.3,368.0 L116.3,368.2 L117.9,368.6 L119.9,368.5 L121.0,369.1 L123.0,368.9 L124.6,369.1 L126.5,368.8 L128.6,368.6 L130.7,368.2 L132.5,367.7 L134.7,367.4 L136.0,367.4 L137.8,367.3 L139.6,367.3 L141.2,367.2 L143.2,367.3 L145.3,367.6 L147.2,367.8 L149.8,367.5 L151.7,367.5 L153.6,367.2 L155.0,367.2 L155.8,367.3 M17.9,366.8 L19.0,366.5 L21.2,367.3 L23.6,367.6 L25.4,367.3 L28.1,367.2 L30.1,367.4 L31.9,367.2 L33.7,366.4 L35.7,366.4 L37.7,366.0 L39.5,365.6 L41.2,365.2 L43.6,365.1 L45.7,365.2 L48.1,365.6 L49.8,366.0 L51.8,366.3 L53.5,366.2 L55.2,366.5 L56.7,366.4 L58.5,367.0 L60.1,366.8 L61.9,366.9 L64.2,366.9 L66.1,367.1 L67.9,367.1 L69.6,366.9 L71.7,367.0 L73.7,366.7 L75.1,366.5 L77.0,366.3 L78.6,366.3 L80.5,366.1 L82.7,366.0 L85.0,366.0 L87.0,366.3 L89.1,366.0 L91.2,366.7 L93.2,366.7 L95.4,367.5 L97.1,367.6 L99.2,367.5 L100.7,367.5 L102.5,367.4 L104.4,367.2 L106.5,367.3 L108.3,366.9 L110.4,366.9 L112.4,366.9 L114.3,367.3 L116.2,367.9 L117.9,368.2 L119.6,368.4 L121.2,368.8 L122.8,368.5 L124.7,367.7 L126.5,367.0 L128.5,366.7 L130.5,366.0 L132.5,365.3 L134.2,365.1 L136.6,365.0 L138.3,364.8 L140.3,364.8 L141.9,364.7 L143.6,365.0 L145.9,365.2 L148.3,365.6 L150.8,366.5 L153.0,366.5 L155.0,367.0 L156.4,367.3 M12.5,368.1 L13.9,368.0 L15.2,368.0 L17.5,367.8 L19.7,367.9 L21.8,368.5 L24.1,368.8 L26.2,368.7 L28.5,368.7 L30.5,368.4 L32.4,367.8 L34.8,367.8 L36.4,367.5 L38.2,367.5 L40.3,367.3 L41.8,367.8 L43.5,367.9 L45.1,367.9 L46.8,367.8 L48.6,367.7 L50.3,368.1 L52.3,367.8 L54.4,367.8 L56.2,368.0 L58.4,368.1 L60.2,368.3 L62.0,368.9 L64.0,369.3 L66.1,369.1 L67.9,369.5 L69.8,369.5 L71.7,369.3 L73.8,369.1 L75.6,368.3 L78.0,368.1 L79.8,367.4 L81.9,367.4 L83.8,367.4 L86.0,367.3 L87.7,367.3 L89.0,368.0 L90.9,368.1 L92.4,368.7 L94.1,368.8 L95.8,369.2 L97.5,369.0 L99.7,369.2 L101.3,369.2 L103.8,369.2 L105.9,368.9 L107.9,368.8 L110.2,368.6 L111.8,368.5 L114.0,368.1 L115.8,368.1 L117.8,368.0 L119.6,368.1 L121.3,368.1 L123.4,368.2 L125.5,368.6 L127.1,368.8 L129.0,369.2 L131.2,369.1 L133.0,369.4 L134.6,369.2 L136.4,369.6 L138.3,369.4 L140.0,369.0 L141.9,369.0 L144.0,368.5 L145.8,368.6 L147.7,368.3 L148.9,367.9 M9.3,366.5 L10.7,366.5 L12.4,366.6 L14.2,366.3 L16.3,366.0 L18.6,365.9 L20.5,365.7 L23.0,365.5 L25.5,365.5 L27.5,365.1 L29.5,365.3 L31.2,365.3 L32.8,365.4 L34.7,365.8 L36.9,365.4 L38.8,365.5 L41.1,365.4 L43.1,365.2 L44.9,365.0 L46.4,364.9 L48.0,364.6 L49.8,365.0 L52.0,364.9 L53.9,364.9 L56.0,365.5 L57.4,365.7 L59.4,366.2 L61.1,366.5 L62.5,367.1 L64.5,366.7 L66.5,366.7 L69.0,366.6 L71.2,365.9 L72.9,365.8 L74.7,365.3 L76.7,364.8 L78.1,365.0 L80.1,365.0 L82.6,365.2 L84.8,365.2 L86.8,365.5 L88.9,365.2 L90.6,365.5 L92.2,365.1 L94.3,365.2 L96.5,365.4 L98.5,365.2 L100.6,365.7 L103.0,365.7 L104.6,365.5 L106.9,366.2 L108.5,365.9 L110.0,365.8 L112.2,366.0 L114.1,366.0 L116.5,366.0 L118.3,365.9 L120.2,366.1 L122.2,366.4 L123.8,366.5 L125.3,366.7 L127.0,366.5 L129.1,366.3 L131.2,366.2 L133.5,365.6 L135.3,365.3 L136.7,365.1 L138.5,364.9 L140.5,364.6 L142.8,364.4 L144.9,364.5 L147.2,364.3 L148.3,364.2 M19.0,218.8 L20.4,221.5 L22.2,225.9 L24.1,230.2 L25.6,234.3 L26.3,236.4 L25.6,236.1 L24.4,234.0 L22.5,231.3 L20.9,228.8 L19.6,227.6 L18.8,227.8 L17.7,228.9 L17.0,230.6 L16.5,232.1 L16.2,233.1 L16.5,233.3 L17.5,233.6 L18.4,233.2 L19.2,233.0 L19.5,232.4 L19.4,231.3 L18.8,229.8 L18.0,228.2 L17.2,227.0 L16.8,226.1 M14.9,232.9 L16.8,231.9 L19.4,230.5 L22.7,229.2 L25.4,228.2 L27.3,228.1 L27.6,228.8 L27.5,230.5 L26.5,232.5 L25.3,234.1 L24.1,234.9 L22.2,234.9 L19.7,234.4 L17.0,233.2 L15.1,231.8 L14.5,230.1 L15.9,227.5 L19.2,224.4 L23.0,221.1 L25.9,218.9 L26.9,218.2 L25.1,220.2 L21.3,224.1 L17.1,228.8 L12.9,233.0 L10.0,235.9 M20.8,223.7 L21.0,225.0 L21.1,227.2 L21.2,229.6 L21.0,231.5 L20.5,233.0 L18.4,233.6 L15.2,233.8 L11.9,233.7 L9.2,233.3 L8.6,232.6 L10.8,231.7 L15.1,230.2 L20.2,228.8 L24.8,227.3 L27.4,226.1 L27.3,225.5 L25.4,225.3 L22.8,224.9 L20.6,224.6 L19.2,224.4 L19.7,223.8 L20.9,223.4 L22.7,222.9 L24.4,222.7 L25.6,222.4 M160.1,234.8 L158.0,231.7 L154.4,227.6 L150.8,223.0 L147.9,219.4 L146.6,218.1 L147.5,219.5 L150.0,223.5 L153.3,228.1 L155.9,232.4 L157.1,235.2 L155.9,235.9 L152.9,235.5 L149.7,234.5 L146.9,233.3 L145.6,232.0 L147.0,230.6 L149.7,229.1 L153.0,227.5 L155.9,226.2 L156.8,225.3 L156.0,225.1 L153.8,225.3 L151.4,225.8 L148.8,226.3 L147.4,226.3 M156.2,227.8 L156.9,226.6 L158.2,224.6 L159.4,222.5 L160.6,220.6 L161.3,219.6 L161.9,219.4 L162.3,219.6 L162.1,220.5 L161.7,221.3 L160.4,221.8 L158.0,222.0 L154.4,222.0 L150.6,221.9 L147.5,221.9 L146.0,222.6 L146.4,224.0 L148.2,225.7 L150.6,227.8 L152.9,229.5 L154.4,230.9 L155.1,232.3 L155.3,232.9 L155.5,233.4 L155.5,234.1 L155.6,234.5 M157.7,232.9 L158.7,231.0 L159.9,228.2 L161.2,225.6 L162.3,223.2 L163.0,221.8 L163.0,221.9 L162.7,223.3 L162.1,225.1 L161.2,226.6 L160.3,227.3 L158.7,226.9 L157.0,225.7 L155.0,224.2 L152.9,222.6 L151.4,221.6 L149.9,220.6 L148.5,219.7 L147.3,219.0 L146.7,218.4 L146.4,217.9 L147.2,218.1 L148.5,218.3 L150.2,218.7 L151.6,218.9 L152.7,219.2 M9.4,366.4 L10.4,365.9 L11.8,365.1 L13.4,364.3 L15.1,363.5 L16.4,363.4 L16.9,363.7 L16.9,364.5 L16.8,365.5 L16.7,366.4 L17.1,366.6 L18.0,366.1 L19.5,364.8 L20.7,363.4 L22.0,361.9 L22.5,360.7 L22.4,360.1 L21.8,359.6 L21.0,359.1 L20.6,358.8 L20.6,358.5 L21.3,358.0 L22.5,357.9 L23.9,357.8 L24.8,357.8 L25.6,357.9 M12.8,223.1 L14.2,224.4 L15.4,225.4 L17.3,227.3 L19.4,229.2 L21.8,231.2 L24.3,233.1 L26.6,235.3 L29.1,237.0 L31.3,239.3 L33.0,241.0 L35.2,242.8 L36.8,244.7 L38.4,246.6 L40.2,248.7 L42.0,250.7 L43.9,252.7 L45.9,254.6 L47.7,256.2 L49.8,257.8 L51.5,259.3 L53.0,260.6 L54.2,261.6 L55.4,262.2 L56.5,262.9 L57.4,263.6 L58.3,264.2 L59.7,265.0 L61.2,265.7 L62.5,266.9 L64.7,268.3 L66.4,269.9 L68.7,271.5 L70.9,273.2 L73.1,275.3 L75.5,277.3 L78.0,279.5 L80.1,281.5 L82.7,283.8 L85.2,286.1 L87.8,288.6 L90.1,291.2 L92.1,294.4 L94.8,297.4 L96.9,300.8 L99.3,304.0 L101.6,307.7 L103.6,310.5 L106.0,314.1 L108.1,316.7 L110.5,319.6 L113.0,321.8 L115.3,323.6 L117.7,325.6 L120.1,327.6 L122.4,328.8 L124.8,330.6 L126.9,332.1 L128.9,333.7 L130.9,335.1 L133.0,336.6 L135.4,338.3 L137.8,340.0 L140.4,341.2 L142.7,343.1 L145.3,344.6 L148.0,346.0 L150.1,347.3 L152.1,348.6 L154.1,350.2 L155.6,351.3 L156.7,352.7 L158.0,354.2 L159.0,355.5 L160.3,357.2 L161.0,358.8 L161.7,360.3 L162.4,361.8 L162.9,363.2 L163.1,364.5 L163.6,365.7 M17.9,229.3 L19.1,230.3 L20.3,231.8 L22.2,232.9 L24.3,234.9 L26.4,236.7 L28.7,238.6 L30.9,240.7 L33.4,242.4 L35.4,244.6 L37.1,246.4 L39.1,248.2 L40.8,250.3 L42.7,252.3 L44.3,254.6 L46.1,256.5 L47.8,259.2 L49.4,261.5 L50.9,263.4 L52.8,266.1 L54.6,268.3 L56.2,270.5 L58.1,272.9 L59.9,274.8 L61.7,277.3 L63.3,279.1 L65.3,281.4 L67.0,283.6 L68.3,286.3 L70.0,288.8 L71.4,291.5 L72.7,294.8 L74.0,298.3 L75.1,301.8 L76.2,306.0 L77.1,309.8 L77.9,314.1 L78.9,317.6 L79.6,321.0 L80.8,324.1 L81.9,326.3 L82.2,328.3 L83.0,330.1 L83.7,331.0 L84.7,332.0 L85.2,332.8 L86.0,333.3 L87.3,334.1 L88.5,334.8 L90.0,335.6 L91.3,336.8 L93.7,338.1 L95.7,339.6 L97.9,341.1 L100.0,342.6 L102.8,344.4 L105.2,345.9 L107.8,347.1 L110.4,348.6 L112.7,349.6 L115.3,350.4 L117.7,351.2 L120.2,351.7 L122.7,352.4 L125.0,353.2 L127.7,353.5 L130.6,354.1 L132.8,354.9 L135.3,355.4 L137.9,356.1 L139.8,356.7 L142.1,357.7 L144.4,358.2 L146.5,359.0 L148.9,359.7 L151.0,360.6 L153.3,360.9 L155.4,361.3 L157.1,361.6 L158.8,361.9 L160.1,361.8 M23.2,233.4 L24.0,234.7 L24.8,235.9 L26.1,238.3 L27.4,240.1 L29.0,242.5 L30.4,245.1 L32.1,247.4 L33.5,249.8 L34.7,251.8 L35.5,253.9 L36.2,255.5 L36.7,256.9 L37.6,258.0 L37.7,259.1 L38.2,260.2 L39.1,261.2 L39.6,262.2 L40.1,263.8 L40.9,265.5 L41.5,267.6 L42.3,270.7 L43.2,273.7 L43.8,277.7 L44.6,281.6 L45.3,286.4 L46.2,290.7 L47.1,295.2 L48.0,299.3 L49.0,303.0 L49.5,306.0 L50.4,308.7 L50.9,310.6 L51.3,312.2 L51.8,313.5 L52.2,314.3 L52.9,315.3 L53.5,316.2 L54.1,317.5 L54.9,318.9 L55.7,320.7 L56.4,323.2 L57.3,325.7 L57.8,328.7 L58.6,331.6 L59.4,334.9 L59.9,337.9 L60.8,340.9 L61.6,344.1 L62.4,346.7 L63.1,348.8 L64.0,351.5 L64.5,353.4 L65.0,355.4 L65.6,357.5 L65.6,359.3 L66.0,361.1 L66.7,362.6 L66.8,364.0 L67.0,365.6 L67.2,366.6 M15.5,227.9 L16.0,229.1 L16.9,230.6 L17.9,232.4 L19.1,234.5 L20.4,236.8 L21.8,239.3 L22.7,241.6 L23.4,244.2 L24.2,246.4 L25.2,248.4 L25.7,250.3 L26.5,252.3 L27.5,254.4 L27.9,255.8 L28.4,257.5 L28.7,259.4 L28.9,261.2 L29.2,263.3 L29.5,265.1 L29.7,267.3 L30.1,269.6 L29.8,272.2 L29.5,274.8 L29.0,276.9 L28.1,279.4 L27.6,282.2 L27.3,284.6 L26.8,287.0 L26.8,289.9 L27.0,292.2 L27.7,294.8 L27.9,297.2 L28.9,300.1 L29.8,303.3 L30.6,306.0 L31.7,308.7 L32.6,311.3 L33.8,314.0 L34.8,316.4 L35.8,318.8 L36.6,321.3 L36.9,323.6 L37.5,326.0 L37.9,328.7 L38.7,331.2 L39.3,333.8 L40.0,336.5 L41.0,339.2 L41.6,341.3 L42.1,344.2 L43.1,346.6 L43.6,349.2 L44.4,352.1 L45.2,354.5 L46.0,356.9 L47.0,359.6 L48.2,362.0 L48.9,364.0 L49.1,365.8 L49.5,367.1 M20.8,225.9 L21.8,226.9 L23.5,228.4 L25.2,230.1 L27.4,231.9 L29.5,233.8 L31.5,235.8 L34.0,237.6 L36.0,239.3 L38.0,241.1 L40.0,242.2 L42.2,243.8 L44.9,245.1 L47.0,246.5 L49.7,248.0 L52.1,249.4 L54.3,250.8 L56.5,252.4 L59.1,253.8 L61.0,255.1 L63.6,256.3 L66.1,257.6 L68.4,259.0 L71.4,260.1 L73.6,261.7 L76.3,263.4 L78.7,264.6 L80.9,265.7 L83.2,267.1 L85.5,268.0 L87.8,268.7 L90.1,269.1 L92.0,269.4 L93.8,269.6 L95.5,269.7 L97.1,269.2 L98.4,269.2 L99.9,268.7 L101.6,268.7 L103.4,268.6 L105.8,268.6 L107.8,269.0 L110.3,269.1 L112.7,269.1 L115.2,269.4 L117.7,269.2 L120.2,269.2 L122.9,268.9 L125.3,268.9 L128.0,268.7 L130.9,268.5 L133.7,268.2 L136.4,267.8 L139.0,267.1 L141.7,266.7 L144.3,266.2 L146.9,265.8 L149.3,264.9 L151.8,264.2 L153.8,263.8 L155.3,263.3 M25.6,226.2 L26.8,225.7 L28.4,225.5 L30.5,225.0 L33.0,224.3 L35.3,223.9 L37.7,223.5 L40.4,223.1 L43.0,222.7 L45.3,222.5 L47.6,222.6 L49.4,222.2 L51.1,222.1 L52.9,221.5 L54.4,221.2 L55.7,221.0 L57.2,220.7 L58.7,220.4 L59.9,220.2 L61.9,220.0 L63.5,220.2 L65.6,220.8 L67.5,221.2 L69.9,222.0 L72.2,222.9 L74.9,224.1 L77.3,225.3 L80.2,226.5 L82.9,227.3 L85.4,228.4 L88.3,228.8 L91.0,228.7 L93.8,228.8 L96.5,228.6 L99.3,228.1 L102.2,227.6 L105.0,227.1 L107.8,226.6 L110.5,225.7 L113.5,225.1 L115.9,224.5 L118.8,224.1 L121.5,223.8 L124.0,222.9 L126.7,222.8 L129.6,222.5 L132.1,222.3 L134.7,221.6 L136.9,221.8 L139.5,221.2 L141.5,221.1 L143.8,220.8 L145.9,220.6 L148.2,220.4 L150.3,220.0 L152.3,219.7 L154.5,219.2 L156.2,218.9 L157.8,218.5 L158.9,218.1 L160.1,218.0 M28.8,234.1 L29.7,233.7 L30.2,233.0 L30.9,232.2 L32.1,231.2 L32.9,230.3 L34.1,229.5 L35.2,228.6 L36.6,228.0 L38.0,227.4 L39.4,227.6 L41.2,227.5 L43.0,227.9 L45.0,228.6 L47.3,229.4 L49.5,230.3 L51.9,231.1 L53.9,232.0 L56.2,233.0 L58.1,233.3 L59.8,233.5 L61.3,233.8 L63.3,233.7 L64.6,233.1 L66.1,232.9 L67.5,232.7 L68.8,232.2 L70.4,231.9 L72.0,231.7 L73.7,231.3 L74.9,231.1 L76.5,230.7 L77.9,230.4 L79.6,230.4 L81.1,230.0 L82.8,229.7 L83.9,229.6 L85.1,229.1 L86.4,228.9 L87.7,228.8 L88.7,228.4 L89.6,228.2 L90.8,227.9 L90.9,227.7 L91.8,227.8 L91.8,227.3 L92.4,227.2 L92.9,227.3 L93.1,227.0 L93.4,227.3 L93.8,227.6 L94.9,227.7 L95.4,227.9 L95.9,228.4 L96.8,228.7 L97.7,229.0 L98.7,229.3 L99.6,229.5 L101.0,229.7 L101.9,229.8 L103.2,229.9 L104.7,229.7 L106.1,229.8 L107.9,229.6 L109.7,229.4 L111.6,229.2 L113.4,229.1 L115.0,228.9 L116.8,229.1 L118.9,229.4 L120.4,229.4 L122.0,230.1 L122.9,230.5 L124.1,231.2 L124.9,232.3 L125.8,232.9 L126.8,233.5 L127.6,234.6 L128.7,235.1 L129.8,235.7 L131.1,235.8 L132.9,235.8 L135.0,235.5 L137.5,235.0 L139.9,234.7 L142.6,234.1 L144.8,233.5 L147.5,233.2 L149.3,232.1 L151.5,231.7 L152.4,231.7 M32.5,241.7 L33.5,241.4 L34.8,241.1 L36.8,240.9 L38.9,240.6 L41.5,240.3 L44.0,240.0 L46.0,239.4 L48.2,238.8 L50.0,238.4 L51.6,237.8 L53.1,237.7 L54.6,237.1 L55.3,236.6 L57.0,236.2 L57.9,235.7 L59.0,235.3 L60.1,235.1 L61.3,234.6 L62.6,234.2 L64.1,234.2 L66.1,233.5 L68.4,233.5 L70.6,233.4 L73.2,233.5 L75.6,233.4 L77.9,233.9 L80.5,233.9 L82.6,234.2 L85.0,234.5 L87.5,234.5 L89.7,234.4 L92.0,234.3 L94.3,233.8 L96.7,233.6 L98.6,233.4 L100.6,233.0 L102.8,232.9 L104.8,232.7 L107.1,232.6 L109.3,232.7 L111.8,232.9 L114.2,233.3 L116.5,233.6 L118.6,233.6 L120.6,233.9 L122.8,234.1 L125.0,234.2 L127.0,233.9 L129.4,233.8 L131.5,233.9 L133.7,233.4 L135.9,233.0 L138.0,232.7 L140.1,232.1 L142.1,231.4 L144.1,230.9 L145.8,230.1 L147.7,229.4 L149.1,228.9 L150.3,228.4 M9.5,246.7 L10.9,246.7 L11.9,246.7 L13.8,247.0 L15.7,247.0 L17.8,247.3 L19.9,247.2 L22.4,247.5 L25.2,247.3 L27.4,247.6 L29.7,247.5 L32.2,247.5 L35.1,247.1 L38.0,247.1 L41.5,246.9 L44.6,246.4 L48.0,246.3 L51.5,246.0 L54.5,245.9 L57.5,245.9 L60.4,245.8 L63.1,246.1 L66.0,246.3 L68.8,246.4 L71.7,246.7 L74.5,246.8 L77.5,247.1 L80.0,247.4 L82.8,247.3 L85.3,247.2 L88.1,247.0 L90.3,246.8 L92.3,246.7 L94.7,246.2 L96.8,245.9 L99.0,245.5 L101.1,244.9 L103.4,244.7 L105.6,244.4 L107.6,244.3 L109.7,244.2 L111.5,244.0 L113.3,243.8 L114.7,243.9 L115.8,243.6 L117.3,243.5 L118.9,243.3 L120.0,243.2 L121.7,243.3 L123.4,242.7 L125.1,242.4 L127.0,242.1 L128.7,241.7 L130.7,241.1 L132.6,240.7 L134.3,240.1 L136.1,239.6 L138.2,239.3 L140.1,238.5 L141.8,238.2 L143.7,237.7 L145.6,237.4 L147.8,236.9 L149.5,236.8 L151.5,236.5 L153.2,236.3 L154.7,236.0 L156.4,236.2 L157.7,235.9 L158.8,236.0 L159.9,236.2 M9.0,245.2 L9.4,245.4 L10.3,245.4 L11.2,245.6 L12.1,246.0 L13.4,246.3 L15.1,246.8 L16.5,247.2 L18.1,247.8 L19.6,248.8 L21.1,249.3 L22.7,249.8 L24.1,250.6 L25.9,251.6 L27.5,251.9 L29.5,252.8 L31.3,253.0 L33.6,253.7 L35.6,254.4 L37.9,254.9 L40.1,255.3 L42.5,255.9 L44.5,256.3 L47.0,256.8 L49.8,257.5 L52.4,257.9 L55.4,258.2 L58.0,258.4 L60.6,258.6 L62.7,258.8 L64.5,259.0 L66.1,259.2 L67.1,259.5 L68.1,259.8 L69.2,260.3 L69.9,260.7 L70.8,261.2 L71.6,261.5 L72.7,262.1 L73.6,262.6 L74.6,262.7 L75.6,263.1 L76.9,263.5 L78.4,263.9 L80.0,264.1 L81.6,264.2 L83.5,264.4 L85.2,264.4 L86.7,264.9 L87.9,264.9 L88.6,265.4 M122.1,219.0 L121.1,219.5 L120.2,219.5 L118.7,219.9 L117.3,220.6 L115.3,221.0 L113.9,222.0 L112.4,222.5 L110.7,223.3 L109.4,224.2 L107.8,225.3 L106.5,226.3 L105.2,227.3 L104.1,228.4 L103.0,229.8 L101.6,230.9 L100.6,232.2 L99.8,233.7 L99.0,234.9 L98.5,236.5 L97.4,237.7 L96.5,239.2 L95.3,240.4 L94.4,242.0 L93.4,243.3 L91.8,244.7 L90.6,246.0 L89.8,247.2 L88.4,248.2 L87.1,249.4 L85.9,250.7 L84.8,252.0 L83.7,253.0 L82.3,254.3 L81.1,255.9 L79.5,257.1 L78.3,258.7 L77.1,260.2 L75.9,261.3 L75.0,262.9 L74.3,264.1 L73.6,265.1 L72.8,266.3 L72.1,267.4 L71.5,268.1 L70.8,269.1 L69.8,269.9 L68.8,271.0 L68.0,272.1 L67.0,273.2 L65.9,274.7 L65.0,276.3 L63.9,278.1 L62.6,279.6 L61.5,281.4 L60.4,283.2 L59.3,284.8 L57.9,286.5 L56.5,288.1 L55.5,289.8 L54.7,292.0 L53.9,293.8 L52.8,296.0 L52.1,298.3 L51.4,300.8 L50.4,303.1 L49.3,305.5 L48.0,308.2 L47.2,310.6 L45.8,313.2 L44.8,315.5 L44.0,317.6 L42.8,319.9 L42.1,322.0 L41.4,324.2 L40.6,326.2 L39.9,328.2 L39.3,330.3 L38.9,331.8 L38.3,333.4 L37.8,334.7 M158.5,220.1 L156.7,221.3 L154.6,223.1 L152.0,225.4 L148.8,227.8 L145.9,230.8 L142.9,233.5 L139.6,236.5 L136.8,239.3 L134.1,241.8 L131.2,244.2 L128.6,246.4 L126.1,248.4 L123.8,250.4 L121.7,252.0 L119.5,253.9 L117.7,255.6 L115.5,257.2 L113.5,258.7 L111.4,260.1 L109.3,261.9 L107.0,263.4 L105.1,265.0 L102.9,266.4 L100.7,267.7 L99.1,268.7 L97.2,269.9 L95.1,271.0 L93.0,272.0 L90.7,273.4 L88.1,274.3 L85.4,275.5 L82.8,277.0 L80.4,278.2 L77.9,279.4 L75.3,280.9 L72.3,282.4 L69.3,284.1 L66.3,285.7 L63.3,287.5 L60.1,289.8 L57.1,292.0 L54.1,294.9 L51.1,297.8 L47.8,300.9 L44.7,303.8 L41.7,307.6 L38.1,311.1 L35.0,314.3 L32.2,317.8 L29.5,320.4 L27.5,323.2 L25.1,326.1 L23.3,328.9 L20.9,331.7 L19.3,334.3 L17.7,336.7 L16.2,339.0 L14.5,340.9 L13.5,342.4 L12.4,344.0 M116.3,226.4 L117.1,227.9 L118.2,229.4 L119.0,231.2 L119.9,233.0 L120.9,235.1 L122.2,237.7 L123.0,240.0 L124.1,242.9 L125.4,245.5 L126.5,248.5 L127.4,251.2 L128.7,254.4 L129.7,257.4 L130.6,260.6 L131.7,263.4 L132.3,266.1 L133.2,268.8 L134.2,271.4 L134.9,274.0 L135.9,276.4 L136.5,278.9 L137.4,281.4 L137.9,283.9 L138.8,286.5 L139.0,289.0 L139.5,291.6 L140.0,294.0 L140.6,296.6 L141.0,298.4 L141.6,300.5 L142.6,302.0 L143.3,303.5 L143.7,304.6 L144.4,305.9 L145.0,307.2 L145.2,308.5 L145.6,309.7 L145.8,311.3 L146.2,312.8 L146.8,314.6 L147.2,316.6 L148.4,318.4 L149.2,320.2 L150.2,321.9 L151.1,323.9 L152.2,325.5 L153.1,327.1 L153.9,328.9 L154.8,330.9 L155.7,332.5 L156.6,334.1 L157.3,336.0 L158.0,338.1 L158.9,340.0 L159.4,341.9 L159.7,343.8 L160.0,345.4 L160.2,346.8 L159.9,347.9 L160.1,348.5 M120.3,225.6 L121.9,226.4 L123.3,227.2 L125.1,228.6 L127.4,229.7 L129.8,231.4 L132.2,233.0 L134.7,234.8 L137.2,236.4 L139.8,238.2 L141.9,239.6 L144.1,241.6 L146.4,243.4 L148.6,245.2 L150.5,247.1 L152.5,248.6 L154.4,250.3 L155.9,251.9 L157.0,253.4 L158.2,254.2 L159.4,255.3 M137.5,235.4 L138.4,237.0 L139.5,239.4 L141.0,242.4 L142.7,245.7 L144.5,249.1 L146.5,252.9 L148.5,256.7 L150.4,260.1 L152.1,263.3 L153.5,266.5 L154.5,269.1 L155.4,272.0 L156.0,274.6 L156.4,277.5 L156.8,279.6 L157.3,282.0 L157.8,284.1 L158.1,286.2 L158.5,287.9 L158.9,289.4 M9.7,283.4 L11.9,283.7 L14.4,283.9 L17.4,284.4 L20.6,285.1 L24.0,285.1 L27.6,285.6 L30.9,285.6 L34.2,286.0 L37.3,286.2 L40.0,285.9 L42.9,285.9 L45.5,285.6 L47.7,285.2 L50.3,285.1 L52.9,284.7 L55.1,284.3 L57.6,284.0 L59.4,284.1 L61.8,283.9 L64.1,284.0 L66.1,284.0 L68.4,283.8 L71.0,283.7 L73.1,283.8 L75.7,283.8 L78.0,283.9 L80.7,283.6 L83.2,283.6 L85.6,283.3 L87.7,283.4 L89.9,283.2 L92.0,283.3 L94.1,282.9 L96.4,282.9 L98.6,282.7 L100.9,282.3 L103.0,282.2 L105.4,281.9 L107.7,281.6 L110.0,281.1 L112.1,280.8 L114.3,280.7 L116.3,280.2 L118.2,279.7 L120.0,279.8 L122.2,279.2 L124.5,279.1 L126.7,278.8 L129.0,278.8 L131.6,278.7 L134.2,278.4 L137.4,278.5 L140.5,278.5 L143.7,278.3 L147.0,278.2 L149.8,277.9 L152.6,277.9 L154.9,277.6 L157.1,277.3 L158.7,277.3 M7.9,308.2 L9.2,308.2 L10.7,308.3 L12.1,308.2 L13.9,308.6 L15.8,308.4 L17.3,308.7 L19.4,308.7 L21.7,308.7 L24.3,308.8 L26.9,309.3 L29.4,310.1 L32.8,310.8 L36.1,311.7 L39.3,312.8 L42.8,313.8 L46.1,315.1 L49.6,316.3 L53.0,317.5 L56.6,318.6 L60.1,319.7 L63.8,320.5 L66.9,321.4 L70.6,322.9 L73.8,324.0 L77.0,325.1 L80.6,326.2 L83.6,327.2 L86.6,328.3 L89.5,329.1 L92.1,330.1 L94.8,330.8 L96.9,331.4 L99.0,331.7 L100.5,332.0 L102.2,332.2 L103.7,332.6 L105.3,332.8 L107.2,332.5 L108.4,332.9 L110.3,332.8 L112.6,333.3 L115.0,333.4 L116.8,333.8 L119.4,334.3 L121.4,334.4 L123.6,334.7 L125.8,334.8 L128.1,335.1 L130.3,335.0 L132.8,334.7 L135.2,334.4 L138.0,334.1 L140.7,333.8 L143.5,333.0 L146.4,332.5 L148.7,332.1 L151.0,331.5 L153.2,331.3 L154.7,331.2 L156.2,330.9 M13.0,343.3 L14.1,343.4 L16.0,343.0 L18.1,342.8 L20.4,342.6 L23.1,342.4 L25.9,342.1 L29.0,342.4 L32.0,342.3 L35.4,342.0 L38.4,342.2 L41.8,342.4 L45.2,343.0 L48.6,343.4 L52.4,343.9 L56.1,344.5 L59.6,345.1 L63.1,345.4 L66.3,345.8 L69.1,346.0 L71.8,345.9 L74.0,345.7 L76.3,345.5 L77.6,345.0 L79.4,344.1 L80.6,343.4 L82.2,343.0 L83.4,342.7 L84.7,341.9 L86.3,341.8 L87.9,341.7 L89.3,342.0 L91.1,342.3 L93.0,342.7 L94.7,343.2 L96.6,343.7 L98.6,344.4 L100.4,345.0 L102.4,345.6 L104.4,346.1 L106.4,346.7 L108.1,346.9 L109.8,347.2 L111.2,347.7 L112.9,348.1 L114.1,348.6 L115.6,348.9 L117.2,349.2 L118.2,349.7 L120.3,350.2 L121.8,350.7 L124.0,351.2 L126.0,351.6 L128.3,352.3 L130.7,352.7 L133.1,353.5 L135.5,353.8 L137.7,354.5 L140.1,355.0 L142.2,355.1 L144.5,355.3 L146.3,355.4 L148.3,355.5 L150.3,355.3 L152.7,355.0 L154.6,354.6 L156.4,354.3 L158.3,354.0 L159.9,353.3 L161.4,353.1 L162.9,353.1 M10.5,355.4 L12.0,355.3 L13.2,354.8 L15.2,354.4 L17.0,353.5 L19.3,353.1 L21.4,352.3 L23.4,351.8 L26.0,351.3 L28.1,351.2 L30.6,351.3 L33.0,351.3 L35.8,351.4 L38.6,351.8 L41.5,352.6 L44.9,353.4 L48.2,353.8 L51.4,354.4 L54.5,354.6 L57.8,354.9 L60.8,355.0 L63.7,354.4 L67.1,353.7 L70.2,353.1 L73.6,352.2 L77.0,351.4 L80.4,350.6 L83.8,349.8 L86.8,349.2 L89.9,348.9 L92.5,348.9 L95.0,349.1 L97.1,349.7 L99.0,350.3 L100.4,351.1 L102.0,351.6 L103.6,352.6 L105.0,353.4 L106.9,354.1 L108.4,354.6 L110.6,355.4 L112.7,355.7 L114.7,356.2 L117.4,356.7 L119.4,357.1 L121.4,357.7 L123.8,358.2 L126.0,358.7 L128.2,358.9 L130.2,359.4 L132.6,359.8 L134.9,360.0 L137.7,360.1 L140.2,360.5 L143.1,361.0 L145.9,361.1 L148.3,361.3 L151.0,361.2 L152.9,361.7 L154.6,361.8 L155.7,362.0 M33.5,342.0 L33.6,343.4 L33.5,344.2 L33.2,345.2 L32.7,346.6 L32.0,348.0 L31.2,349.1 L30.9,350.6 L30.4,352.2 L30.7,353.8 L30.9,355.0 L31.1,356.2 L31.1,357.7 L31.2,358.6 L31.5,359.8 L31.5,360.8 L32.1,361.7 L32.7,362.5 L33.9,363.1 L35.0,363.8 L36.3,364.6 L38.0,364.7 L39.8,365.2 L42.3,365.6 L45.1,365.8 L48.2,366.0 L51.3,366.0 L54.0,365.9 L56.7,366.1 L58.8,366.6 L60.1,366.9 M40.2,255.4 L41.0,257.6 L42.5,261.0 L43.9,264.6 L45.5,268.7 L47.0,273.0 L48.5,277.1 L50.0,281.4 L51.1,285.3 L52.4,288.7 L53.5,291.4 L54.3,293.8 L55.1,295.8 L55.7,297.8 L55.8,299.0 L56.4,300.4 L56.7,301.7 L56.9,302.7 L57.2,303.8 L57.2,304.8 L57.7,306.0 L58.4,306.9 L59.1,308.2 L59.6,308.8 L60.2,309.7 L60.6,310.6 L61.1,311.4 L61.4,312.0 L62.0,313.1 L62.6,313.9 L63.2,314.6 L63.5,315.6 L64.2,316.2 L64.9,317.2 L65.8,318.0 L66.8,318.8 L67.4,319.6 L68.5,320.3 L69.2,321.4 L70.4,322.3 L71.5,323.6 L72.8,324.8 L74.9,326.2 L77.2,327.6 L79.6,328.7 L82.2,330.5 L84.6,331.8 L86.9,332.9 L89.0,334.0 L90.6,334.8 L91.8,335.1 M75.3,262.0 L76.4,262.7 L77.4,263.8 L78.6,264.8 L80.2,265.7 L81.9,267.0 L83.7,268.5 L85.6,270.0 L87.2,271.8 L88.7,273.5 L89.7,275.1 L90.9,277.0 L92.5,278.8 L93.7,280.6 L95.0,282.0 L96.8,283.7 L97.8,285.1 L99.1,286.8 L100.4,288.2 L101.8,289.9 L103.3,291.7 L105.3,293.2 L107.0,295.2 L109.0,297.0 L110.9,299.1 L112.7,301.2 L114.3,303.0 L116.3,304.5 L118.1,306.5 L120.1,308.4 L122.1,309.9 L124.6,311.8 L126.7,313.7 L128.9,315.5 L131.0,317.2 L133.0,318.9 L135.2,320.5 L137.6,321.9 L139.9,323.1 L142.3,324.3 L144.3,325.7 L146.4,327.0 L148.2,328.2 L150.5,329.4 L152.5,331.0 L154.6,332.3 L156.9,333.8 L158.8,335.2 L160.8,336.1 L162.0,337.0 L162.8,337.7 M139.9,250.2 L139.6,251.3 L139.4,253.0 L138.9,254.7 L138.4,256.7 L138.0,258.7 L137.5,260.7 L136.5,263.1 L136.4,265.5 L135.8,267.5 L135.6,269.4 L135.0,271.5 L134.6,273.9 L133.8,275.8 L133.1,278.2 L132.5,280.5 L131.8,282.9 L130.9,285.1 L130.2,287.6 L129.3,290.2 L128.7,292.3 L128.0,294.6 L127.4,297.0 L126.9,299.6 L126.0,301.6 L125.2,304.0 L124.4,305.9 L123.5,307.9 L122.9,309.9 L122.0,312.2 L121.3,314.2 L120.5,316.5 L119.8,318.8 L119.4,321.1 L118.6,322.9 L117.9,325.3 L117.1,327.6 L116.4,329.7 L115.7,331.9 L115.1,334.4 L115.0,336.9 L115.1,339.7 L115.1,343.0 L115.7,346.5 L115.9,349.7 L116.4,353.3 L116.9,356.6 L117.1,360.0 L117.4,363.0 L117.5,365.3 L117.5,367.1 M89.9,249.4 L90.2,250.6 L90.9,252.3 L92.0,254.3 L93.3,256.5 L94.7,258.8 L96.0,261.4 L97.5,263.8 L98.6,265.8 L99.4,268.2 L100.2,270.3 L101.1,272.3 L102.2,274.3 L103.2,276.6 L104.4,278.9 L105.5,281.1 L106.5,283.7 L107.4,286.1 L108.5,288.1 L109.2,289.9 L109.9,292.0 L110.8,293.8 L111.6,295.2 L112.2,296.7 L112.7,298.0 L113.2,299.1 L113.4,300.6 L113.6,301.4 L113.9,302.7 L114.5,304.0 L115.4,305.7 L116.4,307.0 L117.3,308.7 L118.3,310.8 L119.0,312.8 L119.9,315.0 L120.9,317.1 L122.3,319.6 L123.5,322.0 L125.0,324.3 L126.3,326.7 L127.5,328.8 L128.7,330.8 L129.9,333.0 L131.2,335.0 L132.4,337.3 L133.7,339.4 L134.9,341.5 L136.2,343.5 L137.4,346.0 L138.4,348.2 L139.3,350.8 L140.0,353.1 L140.8,355.2 L141.8,357.5 L142.6,359.5 L143.8,361.3 L144.6,363.1 L145.4,364.2 L146.1,365.2 L146.6,366.2 M85.6,300.0 L86.0,301.7 L86.7,303.9 L87.4,306.3 L88.2,308.8 L88.5,311.3 L89.1,314.2 L89.5,316.7 L89.8,318.8 L89.9,321.3 L90.2,323.3 L90.6,324.7 L90.6,326.4 L90.9,327.7 L90.8,329.5 L90.7,330.6 L90.6,332.0 L90.5,333.4 L90.8,334.6 L90.8,336.2 L91.3,337.5 L91.4,339.4 L91.9,341.5 L92.3,343.7 L92.4,346.3 L92.6,348.8 L92.3,351.4 L92.5,354.0 L92.6,356.5 L92.6,358.6 L92.7,360.3 M11.8,249.6 L12.0,250.8 L12.0,252.0 L12.0,253.9 L12.5,256.1 L12.9,258.4 L13.3,260.6 L13.8,263.3 L14.5,265.7 L14.9,268.1 L15.3,270.4 L15.6,272.7 L15.6,274.8 L15.6,276.9 L16.0,278.9 L16.4,280.9 L16.8,283.1 L17.1,285.1 L17.5,287.3 L17.8,289.3 L17.9,291.7 L17.9,293.9 L18.3,296.2 L18.6,298.4 L18.9,300.8 L19.2,303.3 L19.7,305.5 L20.4,307.8 L21.1,310.3 L21.3,312.5 L21.9,314.7 L22.4,317.0 L23.0,319.4 L23.3,321.7 L24.0,323.9 L24.6,326.3 L25.4,328.2 L26.1,330.7 L26.4,332.6 L26.8,334.7 L27.2,336.7 L27.5,339.4 L27.3,341.6 L27.3,343.8 L27.2,346.5 L27.1,349.3 L27.1,351.9 L27.1,354.3 L26.8,356.8 L26.8,358.7 L26.4,360.7 L26.1,362.2 L25.7,363.5 L25.3,364.5 L25.2,365.2 L25.1,366.0 L24.9,366.5 L25.0,366.8 L25.1,367.4 L24.7,367.8 L24.8,368.4 M60.1,218.3 L61.2,219.2 L62.7,220.8 L64.6,222.7 L66.6,224.8 L68.8,227.0 L71.0,229.6 L73.2,232.3 L75.6,234.9 L77.9,237.6 L79.8,240.0 L81.8,242.4 L83.6,244.8 L85.4,246.9 L87.3,249.1 L88.7,251.4 L90.2,253.3 L91.4,255.4 L93.0,257.4 L93.8,259.3 L95.0,261.8 L96.0,264.3 L97.1,266.6 L98.3,269.3 L99.3,272.1 L100.7,275.0 L101.9,278.3 L102.8,281.1 L103.8,284.4 L104.5,287.4 L105.2,290.3 L105.6,293.1 L105.2,296.4 L105.0,299.4 L104.4,302.3 L103.6,305.0 L103.0,308.2 L102.1,311.3 L101.2,314.1 L100.5,316.8 L100.1,319.5 L99.5,322.8 L98.8,325.5 L98.2,328.6 L97.6,331.7 L97.1,334.4 L96.5,337.4 L96.1,339.6 L95.4,341.7 L95.1,343.4 L94.7,344.8 M100.2,218.2 L99.2,220.3 L98.4,222.2 L96.9,224.6 L95.4,227.4 L93.9,230.1 L92.3,233.2 L90.4,236.1 L88.5,239.0 L86.5,242.1 L85.1,244.8 L83.4,247.6 L81.9,250.7 L80.5,253.7 L78.9,256.7 L77.5,259.8 L76.3,262.6 L75.0,265.9 L73.6,268.8 L72.6,272.0 L71.7,274.9 L71.0,277.5 L70.4,280.1 L69.8,282.6 L69.4,285.1 L69.4,287.6 L69.1,290.1 L69.3,292.5 L69.5,294.8 L69.9,297.6 L70.0,299.9 L70.3,303.0 L70.8,305.8 L71.3,308.7 L71.7,311.7 L72.1,314.7 L72.6,317.7 L73.6,320.8 L74.0,323.9 L74.7,327.0 L75.5,330.4 L75.9,333.6 L76.5,337.1 L77.1,341.0 L77.8,345.1 L78.2,348.8 L79.1,352.7 L79.1,356.5 L79.6,359.5 L79.6,362.3 L79.9,364.5" fill="none" stroke="#a322b3" stroke-width="1.1" stroke-linejoin="round" stroke-linecap="round"/>
<path d="M206.4,216.3 L207.5,216.1 L209.1,216.0 L211.0,216.3 L213.0,216.4 L214.9,216.8 L217.0,217.3 L219.1,217.5 L221.1,217.9 L223.5,218.2 L225.5,218.6 L227.2,218.6 L229.6,218.2 L231.2,218.3 L232.8,218.1 L234.5,217.6 L236.2,217.7 L237.7,217.8 L239.1,217.6 L240.5,217.9 L242.2,218.0 L243.9,218.1 L245.9,218.6 L247.7,218.2 L250.1,218.5 L252.3,217.8 L253.9,217.8 L256.2,217.2 L258.5,217.3 L260.3,217.0 L262.1,217.2 L263.8,217.2 L265.4,217.2 L267.1,217.9 L268.6,217.8 L270.0,218.5 L271.5,218.5 L273.6,218.3 L275.5,218.4 L277.1,218.1 L279.2,217.7 L281.2,217.2 L283.0,217.2 L285.1,216.6 L287.2,216.7 L288.9,216.2 L290.8,216.4 L292.6,216.7 L294.3,217.0 L296.0,217.0 L298.0,217.7 L299.7,217.9 L301.4,218.1 L303.2,218.2 L304.9,218.3 L306.6,218.2 L308.5,218.2 L310.3,217.7 L312.0,217.7 L314.0,217.6 L315.8,218.0 L317.2,217.7 L319.5,218.1 L321.4,218.1 L323.3,218.3 L325.1,218.5 L327.1,217.8 L329.1,217.5 L331.2,216.8 L333.3,216.9 L335.1,216.4 L337.0,216.3 L338.1,215.9 M207.0,221.0 L208.0,221.5 L209.7,221.9 L211.6,222.1 L214.3,222.7 L216.5,222.9 L218.9,223.3 L220.7,222.8 L222.0,222.3 L223.6,222.2 L224.9,221.6 L226.9,220.9 L228.3,220.9 L230.5,220.6 L232.5,221.1 L234.4,221.2 L236.1,222.0 L237.8,222.0 L239.4,222.4 L241.6,222.2 L244.0,222.0 L245.6,221.8 L247.8,221.7 L250.0,221.3 L251.6,221.4 L253.2,221.4 L254.9,221.4 L256.9,221.5 L258.4,221.4 L260.1,221.1 L261.9,221.5 L263.6,221.6 L265.3,221.9 L266.8,222.5 L268.9,222.9 L270.7,223.5 L272.8,223.5 L275.0,223.8 L276.9,223.2 L279.2,222.9 L280.8,222.3 L282.6,221.4 L284.2,221.0 L286.5,220.9 L288.3,220.9 L290.1,221.3 L291.9,221.7 L293.3,222.2 L295.0,222.2 L296.7,222.8 L297.9,222.8 L300.2,222.9 L302.3,222.9 L304.3,222.7 L306.4,222.5 L308.1,221.8 L309.9,222.2 L311.6,221.8 L313.9,221.6 L315.8,222.3 L317.8,222.1 L320.3,222.0 L322.0,222.2 L323.4,222.1 L325.0,222.2 L326.5,222.0 L328.0,222.0 L330.2,222.2 L332.1,222.2 L334.8,222.7 L336.5,222.4 L337.9,222.9 L339.1,222.9 M205.3,222.2 L207.0,222.1 L208.8,222.3 L211.1,222.0 L213.1,221.9 L215.2,221.6 L216.9,221.3 L218.6,221.3 L220.2,221.4 L222.3,221.7 L224.3,222.1 L226.3,222.4 L227.9,222.8 L229.8,223.0 L231.2,223.1 L232.6,222.7 L234.4,222.7 L236.4,222.5 L237.8,222.2 L240.4,221.9 L241.8,221.3 L243.8,221.0 L245.4,220.8 L247.0,220.3 L248.7,220.6 L250.5,220.6 L252.2,220.6 L254.6,220.8 L256.6,221.1 L258.5,221.1 L260.5,221.4 L261.8,221.4 L263.9,221.4 L265.5,221.9 L267.4,221.8 L269.5,222.3 L271.8,222.5 L273.6,222.6 L275.5,222.5 L277.2,222.3 L279.0,221.9 L280.5,221.8 L282.3,221.4 L284.3,221.1 L286.7,221.1 L288.6,220.8 L290.2,221.1 L292.2,220.9 L293.6,220.8 L295.0,220.9 L297.2,220.5 L298.9,220.7 L300.6,220.2 L302.7,220.3 L304.4,220.4 L306.3,220.8 L307.9,221.4 L309.5,221.7 L310.9,222.4 L312.7,223.3 L314.8,223.8 L316.6,223.8 L318.7,224.0 L320.5,223.9 L322.0,223.7 L323.8,223.2 L325.4,222.7 L327.0,222.1 L329.8,221.6 L332.2,221.4 L334.1,221.0 L336.1,220.8 L337.4,220.6 M219.9,220.4 L221.1,220.3 L222.8,220.4 L224.6,220.3 L226.5,220.3 L228.4,220.3 L230.0,220.7 L231.4,220.2 L233.1,220.1 L234.4,219.9 L236.2,219.8 L237.6,219.8 L239.6,219.4 L241.1,219.2 L242.9,219.1 L244.3,219.2 L245.6,219.4 L247.3,219.5 L248.3,219.8 L249.6,220.0 L251.2,220.4 L252.2,220.9 L253.7,220.9 L255.1,220.9 L256.6,221.2 L258.7,220.6 L260.1,220.3 L262.2,220.2 L263.7,219.9 L265.3,219.5 L266.9,219.3 L268.5,219.5 L270.1,219.4 L271.4,219.6 L273.0,220.0 L274.9,220.0 L276.4,220.2 L278.0,220.6 L279.9,221.1 L281.6,221.6 L283.0,221.5 L285.0,221.4 L285.8,221.7 L287.3,221.6 L288.5,221.3 L289.8,220.9 L290.8,220.2 L292.5,219.8 L293.9,219.8 L295.6,219.9 L297.4,220.1 L299.1,220.5 L300.5,221.0 L302.4,221.4 L303.9,221.9 L305.4,222.0 L307.3,221.7 L308.6,221.5 L310.3,221.4 L311.9,221.0 L313.4,221.0 L314.9,221.3 L317.0,220.9 L318.7,221.3 L320.4,221.5 L321.7,221.4 L323.6,221.2 L324.7,220.8 L326.2,220.7 L328.2,220.4 L329.4,220.4 L330.4,219.8 L331.5,219.9 M205.1,220.2 L206.4,220.1 L207.4,220.2 L209.3,220.0 L211.0,219.9 L212.3,219.9 L213.6,219.6 L215.3,219.7 L216.8,219.6 L218.4,219.6 L220.5,219.5 L222.4,219.5 L223.6,219.8 L225.3,219.7 L226.3,220.1 L228.3,220.2 L230.2,220.2 L231.6,220.3 L233.5,220.4 L235.2,220.0 L236.8,220.1 L239.0,220.0 L241.0,219.8 L242.1,219.7 L243.4,219.7 L245.1,219.8 L246.5,219.9 L248.3,220.0 L249.8,220.1 L251.5,219.9 L253.3,220.3 L254.4,220.4 L255.9,220.2 L257.4,220.7 L258.6,221.0 L260.0,221.0 L261.8,221.4 L263.4,221.5 L265.3,221.5 L267.0,221.1 L268.5,220.7 L270.5,220.5 L271.9,219.9 L273.7,219.6 L275.2,219.8 L276.9,219.7 L278.6,219.6 L280.6,219.8 L282.6,220.2 L284.0,219.8 L285.7,219.7 L287.1,220.0 L288.3,219.9 L289.5,219.9 L290.9,219.7 L292.6,219.8 L294.5,219.9 L296.0,220.0 L297.9,220.0 L299.2,220.2 L300.6,219.9 L302.3,220.4 L303.1,220.1 L305.0,220.3 L306.8,220.2 L308.4,220.3 L310.6,220.2 L312.3,220.4 L314.2,220.4 L316.3,220.5 L317.9,220.4 L319.3,220.7 L320.3,220.8 M202.4,219.9 L202.0,221.2 L201.4,223.0 L200.6,225.5 L200.1,227.6 L199.4,229.8 L199.5,232.2 L199.9,234.1 L200.5,236.3 L201.4,238.0 L202.4,240.1 L203.0,242.1 L203.3,244.4 L203.3,246.3 L202.8,248.7 L201.9,251.0 L201.3,253.0 L200.7,255.5 L200.1,257.5 L199.8,260.0 L199.9,262.0 L200.0,264.0 L200.7,265.6 L200.5,268.0 L200.8,269.8 L201.3,271.8 L200.8,273.8 L200.9,275.6 L201.1,277.3 L201.3,279.2 L200.8,280.8 L201.0,283.1 L200.4,285.0 L200.4,287.0 L199.8,289.0 L200.2,291.3 L200.3,293.0 L200.5,295.7 L201.3,297.7 L201.3,300.1 L201.9,302.3 L202.2,304.4 L202.1,306.6 L202.0,308.8 L201.6,311.1 L201.8,312.9 L201.6,315.2 L201.3,317.0 L201.5,319.0 L201.2,320.6 L201.2,322.9 L200.7,324.8 L200.4,326.7 L199.8,328.6 L199.7,330.7 L199.5,332.9 L199.5,334.9 L199.7,336.9 L200.3,338.9 L200.2,340.9 L200.6,342.7 L200.8,345.0 L201.2,347.0 L201.7,349.2 L202.0,351.2 L202.0,353.1 L201.9,355.1 L201.7,357.1 L201.2,359.8 L200.6,362.2 L200.2,364.5 L200.0,366.1 L199.4,367.7 M205.5,221.3 L205.4,222.6 L205.4,224.0 L204.5,226.3 L204.6,228.5 L204.2,230.6 L203.8,232.9 L203.8,234.6 L203.9,237.4 L204.6,239.1 L204.4,241.5 L204.5,244.0 L204.5,245.9 L204.4,248.3 L203.6,250.6 L202.9,252.8 L202.3,254.5 L201.7,256.6 L201.8,258.7 L202.3,260.7 L203.0,262.3 L203.7,263.9 L204.6,266.2 L205.4,268.0 L205.7,270.1 L205.8,272.1 L205.8,274.1 L205.6,276.2 L205.0,278.5 L204.7,281.2 L204.8,283.3 L204.6,285.8 L204.6,288.1 L204.2,290.0 L204.5,292.4 L204.3,294.1 L204.1,296.1 L203.8,298.2 L203.6,299.8 L203.7,301.8 L203.2,303.3 L203.1,305.5 L203.3,307.4 L203.5,309.3 L203.9,311.4 L204.6,313.3 L204.9,315.8 L205.2,318.1 L205.6,320.8 L205.5,322.9 L204.9,325.4 L204.8,327.3 L204.3,329.5 L204.0,331.5 L204.1,333.5 L204.1,335.2 L204.3,337.1 L204.0,339.0 L204.3,340.6 L204.4,342.7 L204.2,344.5 L204.4,346.6 L203.9,348.6 L203.6,350.7 L203.5,353.0 L202.9,355.3 L203.0,357.7 L203.0,360.1 L203.5,362.5 L203.0,365.0 L202.8,367.3 L203.2,369.3 L202.8,370.5 M204.7,263.8 L204.8,264.8 L204.9,265.1 L204.8,266.0 L204.9,266.6 L205.2,266.9 L204.8,267.4 L204.7,268.0 L204.6,268.6 L204.2,269.0 L204.0,269.8 L204.2,270.2 L204.1,270.9 L204.4,271.3 L204.9,271.6 L204.9,271.8 L205.0,272.2 L204.5,272.5 L204.6,272.9 L204.6,273.0 L204.9,273.3 L205.1,273.8 L205.3,274.5 L205.3,274.8 L205.3,276.0 L204.6,276.8 L204.6,277.7 L204.1,278.4 L204.1,279.1 L204.1,279.3 L204.3,279.4 L204.7,280.1 L204.9,280.4 L204.6,280.4 L204.6,280.9 L204.5,281.5 L204.6,281.9 L204.6,282.4 L204.7,283.0 L204.9,283.2 L204.5,283.9 L204.5,284.2 L203.9,284.4 L203.9,284.6 L203.5,285.4 L203.6,286.0 L203.4,286.2 L203.7,287.3 L203.8,287.7 L203.9,288.8 L203.8,289.3 L203.6,290.2 L203.3,290.3 L203.3,291.1 L203.3,291.4 L203.4,291.5 L203.7,291.9 L204.0,292.0 L204.1,292.6 L203.7,292.8 L203.7,293.2 L203.3,293.6 L203.5,294.5 L203.7,294.9 L203.9,295.4 L204.0,296.0 L204.2,296.2 L203.9,296.7 L203.7,297.6 L202.9,298.2 L202.8,298.6 L202.2,299.1 L202.2,299.8 M203.6,232.6 L203.2,233.6 L202.3,234.9 L202.0,237.6 L201.9,240.0 L202.0,242.5 L201.9,244.8 L202.2,246.6 L202.1,248.6 L202.2,250.8 L202.1,252.1 L202.7,254.2 L202.9,255.6 L203.1,257.7 L203.5,259.1 L203.2,260.9 L203.2,262.9 L202.7,264.4 L202.4,266.5 L202.2,268.5 L202.3,270.5 L202.0,272.3 L202.5,274.0 L202.3,276.2 L202.5,278.1 L202.1,279.8 L202.4,282.1 L203.0,283.9 L203.2,286.2 L203.4,287.8 L204.2,289.7 L204.4,291.5 L204.4,293.1 L204.3,294.5 L204.2,296.1 L204.0,298.1 L204.0,299.6 L204.2,301.5 L204.4,303.5 L204.3,305.8 L203.9,308.4 L203.5,310.6 L203.4,312.6 L202.8,314.5 L203.0,316.1 L202.9,318.2 L203.0,319.3 L203.0,321.0 L203.1,322.6 L203.0,324.3 L202.4,326.4 L201.8,328.2 L202.1,329.8 L201.7,331.8 L201.8,334.0 L202.1,336.0 L202.9,337.6 L202.7,339.4 L202.9,341.5 L202.7,343.6 L202.8,345.5 L202.8,347.4 L202.9,349.3 L203.0,351.1 L202.8,353.5 L202.6,354.8 L202.2,356.5 L201.6,358.3 L201.7,360.3 L201.6,362.0 L201.7,364.3 L202.1,365.6 L201.9,366.9 M201.3,227.9 L200.8,228.9 L200.7,230.3 L200.3,232.6 L199.9,235.0 L199.5,236.9 L199.8,239.3 L199.8,241.1 L199.9,243.3 L200.0,245.2 L200.2,246.9 L199.8,248.5 L199.9,250.2 L199.3,251.8 L199.0,253.3 L198.7,255.0 L198.4,256.6 L198.4,258.4 L198.6,260.3 L199.0,261.9 L199.5,264.1 L200.3,266.0 L200.6,268.3 L201.0,270.5 L201.2,272.5 L200.9,273.9 L201.0,276.0 L200.5,277.7 L200.1,279.0 L199.9,280.7 L199.9,282.3 L199.5,283.7 L200.2,285.5 L200.1,287.4 L200.1,289.1 L200.1,291.2 L200.2,293.3 L199.9,295.6 L199.5,297.6 L199.1,299.5 L198.9,301.3 L199.0,303.1 L199.4,305.0 L199.4,306.2 L199.7,308.0 L199.7,309.4 L199.6,311.2 L199.9,313.1 L199.8,314.4 L200.0,316.3 L199.8,318.1 L199.7,320.5 L200.0,322.6 L199.8,324.5 L199.8,326.7 L199.8,328.6 L200.2,330.6 L199.8,332.3 L199.8,333.7 L199.7,335.5 L200.0,336.8 L199.6,338.3 L200.1,340.1 L199.6,341.3 L199.7,343.5 L200.2,345.2 L199.9,347.1 L199.8,349.6 L200.1,352.0 L200.0,354.0 L200.3,356.3 L200.3,358.2 L199.9,359.5 M353.1,280.2 L353.2,281.1 L352.8,282.3 L353.1,283.4 L352.9,284.5 L353.0,286.2 L353.1,287.1 L353.2,288.5 L353.1,289.7 L353.0,290.5 L352.7,291.4 L352.5,292.5 L352.4,293.6 L352.6,294.4 L353.1,295.2 L353.4,295.9 L354.0,296.9 L354.6,298.3 L355.0,299.0 L354.9,299.9 L354.9,301.1 L354.6,302.5 L354.3,303.7 L353.7,304.7 L353.8,306.0 L353.6,307.3 L353.6,308.1 L353.5,309.2 L353.9,310.7 L354.0,311.5 L354.1,312.8 L354.5,313.4 L354.4,314.1 L353.8,315.0 L353.8,315.9 L353.7,317.3 L353.4,317.7 L353.3,318.7 L353.3,320.0 L352.8,320.9 L353.0,322.1 L352.8,323.0 L352.9,324.6 L353.6,325.8 L353.6,327.0 L354.3,328.1 L354.6,329.6 L355.0,330.6 L354.9,331.5 L354.6,332.6 L354.3,333.5 L353.8,334.3 L353.3,335.4 L353.1,336.0 L353.2,336.9 L352.5,337.7 L352.9,338.8 L353.0,339.6 L352.7,340.5 L352.9,341.8 L352.7,342.9 L352.6,344.3 L352.6,345.5 L352.2,347.1 L352.4,348.1 L352.2,349.4 L352.2,350.6 L352.1,351.7 L352.6,352.7 L353.0,354.2 L353.3,355.1 L353.3,355.4 L353.2,355.8 M352.9,223.4 L353.0,224.4 L352.7,225.9 L352.5,227.8 L351.9,229.3 L351.5,231.1 L350.9,232.6 L350.8,234.4 L350.8,235.9 L351.3,237.7 L351.6,239.9 L352.0,241.8 L352.3,244.1 L352.4,246.1 L352.5,248.0 L352.1,250.2 L352.1,252.0 L351.9,253.7 L352.0,255.6 L352.0,256.9 L352.2,258.4 L352.8,259.7 L352.7,261.4 L353.1,263.2 L353.0,264.6 L352.5,267.1 L352.1,269.1 L352.3,271.2 L352.0,273.2 L351.5,275.3 L351.7,277.2 L352.0,279.1 L352.1,280.8 L352.3,282.6 L352.5,283.8 L352.5,285.2 L352.8,286.8 L352.4,288.2 L352.6,290.0 L352.9,291.7 L353.0,293.9 L352.9,295.9 L353.3,298.1 L353.4,300.2 L353.3,302.1 L353.6,304.4 L353.3,306.0 L353.2,307.5 L352.6,309.5 L352.6,310.7 L352.0,312.5 L352.3,313.6 L352.2,315.5 L351.9,317.2 L352.4,318.5 L352.5,320.6 L352.5,323.0 L352.7,324.9 L352.5,327.3 L352.5,329.2 L352.7,331.2 L352.8,333.2 L353.1,334.8 L353.3,336.3 L353.2,337.8 L352.9,339.0 L352.6,340.8 L352.2,342.4 L352.1,344.3 L351.8,346.4 L352.1,348.5 L352.3,350.5 L352.8,352.0 M354.4,261.6 L354.3,262.6 L354.0,264.1 L354.1,265.9 L354.1,267.6 L354.0,269.8 L353.8,271.5 L353.7,273.0 L353.8,274.6 L354.4,276.1 L354.5,277.6 L354.7,279.0 L355.0,280.3 L355.5,281.1 L355.7,282.7 L355.8,284.1 L355.5,285.2 L355.5,286.4 L355.4,287.8 L354.9,289.6 L354.9,291.0 L355.0,292.6 L355.2,294.1 L355.2,295.6 L355.4,297.0 L355.3,298.4 L354.8,299.4 L354.8,301.1 L354.5,302.8 L354.2,304.2 L354.5,305.8 L354.8,307.6 L354.8,309.2 L355.1,310.9 L355.1,312.6 L354.5,313.9 L354.6,315.5 L354.4,316.9 L354.2,317.9 L353.9,319.3 L353.8,320.6 L353.7,321.7 L354.0,322.7 L354.2,324.4 L354.2,325.6 L354.2,327.5 L354.3,328.3 L354.5,330.2 L354.9,331.9 L355.1,333.3 L355.5,334.7 L355.7,336.2 L355.2,337.9 L355.2,339.1 L354.9,340.4 L354.4,342.4 L354.4,343.7 L354.5,345.7 L354.5,346.9 L354.6,348.9 L354.8,350.7 L354.6,351.8 L354.5,353.5 L354.1,354.8 L353.7,355.9 L353.8,357.1 L354.0,358.0 L354.0,359.6 L354.2,360.9 L354.0,362.4 L354.6,364.2 L354.0,365.4 L354.0,366.6 M352.8,216.7 L353.1,217.7 L353.7,219.6 L353.9,221.5 L354.1,223.6 L354.4,226.1 L354.7,228.2 L354.4,229.8 L354.5,231.8 L355.0,233.7 L354.5,235.3 L354.9,237.4 L355.3,239.3 L355.9,241.0 L355.8,243.3 L356.2,244.8 L356.0,246.6 L356.0,248.8 L356.2,250.9 L356.0,252.6 L355.5,255.1 L355.0,256.9 L355.0,259.0 L354.7,261.1 L354.8,263.1 L354.6,265.1 L354.6,267.1 L354.8,269.1 L355.1,271.1 L354.8,272.9 L354.7,274.7 L354.3,276.4 L353.7,277.9 L353.4,279.9 L352.9,281.5 L352.6,283.1 L352.3,285.0 L353.1,286.6 L353.8,288.7 L354.6,290.7 L356.0,292.7 L356.7,294.4 L357.1,296.5 L357.2,298.4 L357.1,300.5 L356.3,302.8 L355.7,304.8 L355.4,306.8 L354.8,308.9 L355.0,311.2 L354.9,313.0 L355.2,314.8 L355.6,316.7 L356.0,318.8 L356.0,320.6 L356.3,322.3 L356.0,324.1 L355.9,325.9 L355.7,327.8 L355.6,329.7 L355.1,331.5 L355.1,333.1 L354.8,334.9 L354.5,337.1 L354.5,339.0 L354.1,340.7 L353.9,342.9 L354.1,344.7 L354.2,346.8 L354.0,349.0 L354.3,351.3 L353.9,352.6 L353.8,354.1 M203.2,368.3 L204.8,368.3 L206.6,368.0 L208.6,367.7 L210.1,367.4 L211.8,367.2 L213.4,367.1 L215.4,367.3 L217.2,367.6 L219.2,367.7 L221.1,368.0 L223.3,368.8 L225.6,368.8 L227.5,369.3 L229.3,369.3 L231.2,369.2 L232.9,369.1 L235.3,369.0 L237.1,368.3 L239.2,368.1 L241.4,367.4 L243.3,367.1 L245.1,366.9 L246.4,367.0 L248.3,367.0 L249.7,367.8 L251.3,368.1 L253.4,368.9 L255.2,369.2 L257.4,369.3 L259.2,369.7 L261.5,369.2 L263.2,369.0 L265.0,368.6 L267.2,367.9 L269.1,367.8 L271.0,367.6 L273.2,367.5 L275.1,367.7 L277.3,368.1 L279.2,368.6 L281.0,369.2 L282.7,369.5 L284.4,369.7 L285.8,369.7 L287.5,369.5 L289.1,369.5 L290.9,369.5 L292.8,368.7 L294.8,368.5 L297.0,368.2 L299.2,368.1 L301.2,367.6 L302.9,367.5 L305.1,367.7 L306.5,367.8 L309.0,368.1 L310.6,368.2 L313.0,368.5 L314.9,368.4 L317.1,368.3 L318.9,368.4 L320.4,368.0 L321.8,368.1 L323.2,368.1 L324.8,367.5 L326.8,367.7 L329.0,367.5 L331.2,367.6 L333.5,367.3 L335.9,367.7 L337.7,367.6 L338.9,367.7 M219.0,367.7 L220.5,367.3 L221.9,367.0 L223.7,367.2 L225.5,367.3 L227.4,367.2 L229.4,367.6 L231.6,367.3 L233.3,367.2 L235.3,367.4 L237.6,367.1 L239.5,366.9 L241.8,367.3 L243.5,367.6 L245.5,368.1 L247.4,368.4 L249.5,369.0 L251.4,369.1 L253.3,369.5 L255.0,369.3 L256.7,368.9 L258.6,368.6 L260.8,368.3 L262.9,367.9 L264.7,367.5 L266.7,367.5 L268.4,367.5 L270.3,367.4 L272.3,367.5 L274.3,367.7 L276.0,368.0 L277.4,367.9 L279.3,367.7 L280.8,367.5 L282.5,367.4 L284.3,367.5 L286.3,367.5 L288.1,367.8 L290.0,367.8 L292.1,368.1 L294.1,368.4 L296.2,368.7 L298.0,369.2 L299.7,369.3 L301.6,368.9 L303.7,369.3 L305.4,368.9 L307.3,369.1 L309.1,369.0 L310.8,368.7 L313.3,368.7 L315.1,368.0 L317.2,367.8 L319.4,367.2 L321.3,367.2 L323.5,367.4 L325.3,367.5 L327.1,367.7 L328.9,367.8 L330.8,367.8 L332.3,367.8 L334.1,368.1 L335.7,368.3 L337.2,368.3 L339.2,368.3 L341.2,368.6 L342.9,368.2 L344.9,368.2 L347.3,368.0 L349.5,367.8 L351.5,367.8 L353.2,367.9 L354.2,367.4 M203.6,367.5 L204.5,367.2 L206.1,367.4 L208.2,366.9 L210.6,366.8 L213.1,366.9 L214.7,367.0 L216.5,366.7 L218.4,366.8 L219.7,366.7 L221.6,366.6 L223.7,366.8 L226.0,366.3 L228.4,366.2 L230.0,366.2 L232.0,366.0 L233.8,366.3 L235.6,366.0 L237.7,366.2 L239.9,366.5 L242.3,366.8 L244.6,367.1 L246.3,367.6 L248.3,367.8 L250.0,367.8 L251.9,367.3 L253.5,367.3 L255.9,367.0 L257.9,367.2 L259.9,367.1 L261.5,367.1 L263.3,367.4 L264.9,367.8 L266.4,368.3 L268.4,368.6 L270.2,369.0 L272.4,369.0 L274.2,368.6 L276.5,368.2 L278.1,367.4 L280.3,367.0 L282.3,366.7 L284.0,366.6 L286.3,366.6 L288.9,366.9 L290.8,367.1 L292.9,367.5 L294.9,367.6 L296.7,367.1 L298.6,366.9 L300.2,366.7 L302.3,366.6 L304.3,366.4 L306.4,366.2 L308.1,366.4 L310.0,366.7 L311.6,366.8 L313.1,367.1 L314.8,367.0 L316.9,367.1 L319.0,367.3 L321.1,367.5 L323.0,367.5 L324.7,367.8 L326.6,368.0 L328.2,368.0 L330.7,367.9 L332.9,368.2 L335.6,367.9 L338.2,367.9 L340.2,367.6 L342.1,367.2 L343.1,366.9 M200.1,368.8 L201.6,368.3 L203.2,368.0 L204.8,368.0 L207.5,367.9 L209.5,368.2 L212.4,368.3 L214.5,368.9 L216.9,369.4 L219.2,369.7 L221.4,369.7 L223.3,370.5 L225.4,370.1 L227.3,369.9 L229.1,369.1 L230.9,368.5 L232.8,368.5 L234.5,368.1 L236.9,368.2 L238.7,367.9 L240.5,368.1 L242.8,368.8 L244.4,369.0 L246.5,369.0 L248.7,369.0 L250.4,369.6 L252.8,369.9 L255.1,369.6 L257.2,369.6 L259.5,369.3 L261.7,368.9 L263.7,369.2 L265.9,368.6 L267.9,369.0 L269.7,369.5 L271.5,369.5 L273.2,369.8 L275.1,370.1 L277.5,370.3 L279.0,370.5 L281.3,370.3 L283.3,370.1 L285.3,369.9 L287.3,369.7 L289.0,369.1 L290.9,369.0 L293.1,368.5 L295.2,368.7 L297.5,368.0 L299.6,368.2 L301.9,368.3 L304.4,368.5 L306.3,368.8 L308.5,369.1 L310.4,369.2 L312.1,369.7 L313.8,369.6 L315.9,370.0 L317.4,370.3 L319.0,370.3 L321.3,369.9 L323.4,369.4 L325.6,368.7 L327.4,368.0 L329.7,368.0 L331.6,367.6 L333.7,367.6 L336.0,367.6 L338.2,368.3 L340.6,368.7 L342.9,369.2 L345.0,370.2 L346.9,370.0 M211.9,226.0 L211.3,227.3 L210.4,229.0 L209.6,231.0 L208.8,232.9 L208.1,233.7 L206.9,233.5 L205.8,232.5 L204.7,231.2 L203.7,229.6 L203.7,228.3 L204.4,227.4 L205.8,226.5 L207.7,225.4 L209.4,224.7 L210.6,224.1 L211.0,223.6 L211.0,223.5 L210.6,223.7 L210.4,223.7 L209.9,224.1 L209.5,224.6 L208.7,225.5 L207.9,226.5 L207.3,227.4 L206.9,227.9 M203.1,227.0 L202.5,226.1 L201.7,224.5 L200.9,223.0 L200.6,221.5 L200.8,220.8 L202.3,220.7 L204.6,221.0 L206.8,221.7 L208.9,222.3 L209.8,222.5 L209.3,222.6 L208.0,222.5 L206.3,222.4 L204.7,222.2 L204.4,221.8 L205.2,221.2 L207.1,220.2 L209.1,219.2 L210.9,218.7 L211.9,219.3 L211.9,221.0 L211.3,223.8 L210.4,227.1 L209.7,230.1 L209.0,232.0 M210.7,227.1 L208.9,227.5 L206.4,228.0 L203.9,228.4 L201.6,228.8 L200.8,228.9 L201.8,228.3 L204.0,227.5 L206.8,226.6 L209.2,225.8 L210.2,225.5 L209.4,225.7 L207.3,226.5 L204.7,227.5 L202.3,228.5 L200.8,229.1 L200.7,229.1 L201.5,228.9 L202.8,228.3 L204.4,227.7 L205.7,227.8 L207.2,228.2 L209.3,228.9 L211.0,229.8 L212.6,230.5 L213.6,231.0 M354.9,228.6 L354.9,228.4 L354.5,227.7 L354.1,227.3 L353.6,226.9 L352.9,226.8 L352.5,227.2 L352.2,228.2 L352.0,229.4 L351.5,230.3 L350.8,230.2 L349.4,229.5 L347.5,227.7 L345.9,225.5 L344.7,223.2 L344.4,221.5 L345.5,220.6 L347.5,220.0 L350.1,219.6 L352.1,219.6 L353.5,219.7 L354.2,219.6 L354.7,220.0 L354.7,220.5 L354.9,220.8 L355.1,221.2 M344.7,234.9 L345.9,232.7 L347.7,229.8 L349.8,226.5 L352.0,223.4 L353.6,221.3 L354.5,219.6 L355.0,218.2 L355.1,217.2 L354.9,216.9 L354.6,218.1 L353.7,220.7 L352.8,224.8 L351.6,229.6 L350.4,233.8 L349.3,236.6 L348.5,238.0 L347.4,238.5 L346.3,238.2 L345.6,237.4 L345.3,235.8 L345.9,233.1 L346.9,229.0 L348.7,224.6 L349.8,220.6 L350.7,217.8 M343.4,232.1 L343.2,230.5 L342.9,228.2 L342.8,225.8 L342.6,223.6 L342.3,222.4 L342.0,222.1 L341.3,222.7 L340.7,223.6 L340.4,224.3 L340.6,224.8 L341.6,224.7 L343.0,224.5 L345.1,223.9 L346.7,223.4 L348.4,222.7 L349.9,222.0 L351.5,221.3 L352.9,220.1 L354.0,219.4 L354.3,219.0 L354.0,219.0 L352.8,219.6 L351.4,220.2 L350.0,221.0 L349.1,221.3 M349.5,226.0 L350.0,227.3 L351.0,229.0 L351.9,231.2 L352.9,232.4 L353.6,232.9 L353.7,231.8 L353.8,229.3 L353.7,226.7 L353.8,224.1 L353.8,222.8 L354.0,223.0 L354.2,224.1 L354.5,225.7 L354.8,227.1 L355.0,227.5 L355.2,226.2 L355.3,224.1 L355.1,221.5 L355.0,219.6 L355.1,219.4 L355.2,220.9 L355.2,223.9 L355.3,227.3 L355.3,230.8 L355.3,232.7 M207.3,362.2 L208.7,362.2 L210.5,362.5 L212.9,362.5 L215.0,362.6 L216.1,362.3 L216.8,361.6 L217.0,360.3 L216.9,359.1 L216.8,357.9 L216.3,357.3 L216.3,356.8 L215.7,356.6 L215.2,356.7 L214.9,356.6 L214.3,356.4 L213.5,355.8 L212.8,354.6 L211.8,353.7 L210.6,353.1 L209.5,353.8 L208.3,355.8 L207.1,359.2 L205.7,363.2 L204.8,366.8 L204.1,369.1 M207.0,369.5 L208.0,368.9 L209.7,368.1 L211.0,367.2 L212.2,366.1 L212.5,365.0 L211.7,363.2 L210.0,361.0 L208.1,358.8 L206.4,357.4 L205.4,356.8 L205.7,357.9 L206.7,360.6 L208.0,363.5 L209.1,366.1 L210.2,367.3 L211.0,366.8 L212.1,364.9 L213.1,362.5 L213.6,360.5 L213.4,359.2 L211.9,359.3 L209.7,359.8 L207.3,360.7 L204.9,361.5 L203.2,362.4 M202.6,358.6 L203.8,360.1 L205.8,362.9 L207.9,365.6 L209.6,368.0 L211.1,369.3 L211.8,369.5 L211.9,368.9 L211.7,367.3 L211.4,366.2 L211.3,364.8 L211.6,363.8 L211.9,362.5 L212.4,361.4 L213.2,360.9 L213.7,360.5 L214.5,361.4 L215.3,362.7 L216.1,364.4 L216.4,365.7 L216.0,365.9 L214.8,365.4 L212.7,364.1 L210.3,362.5 L208.2,361.0 L206.6,360.1 M341.1,361.4 L342.6,362.3 L344.7,363.4 L346.8,364.7 L348.5,365.6 L349.1,366.4 L348.2,366.9 L346.3,367.4 L344.1,367.4 L341.9,367.3 L340.6,366.7 L340.1,365.4 L340.0,363.5 L340.3,361.2 L340.8,359.3 L341.4,358.0 L342.8,357.6 L344.7,357.6 L347.0,358.2 L348.9,358.8 L349.8,359.4 L349.9,360.1 L349.0,360.9 L347.4,361.7 L346.0,362.6 L345.3,363.2 M351.4,363.5 L350.0,362.8 L348.7,361.8 L346.6,360.9 L345.2,360.1 L343.9,359.8 L343.2,360.4 L342.6,361.4 L341.9,362.5 L342.1,363.7 L342.9,364.0 L345.1,363.6 L348.6,362.8 L352.3,361.7 L355.1,360.4 L356.2,359.4 L354.5,358.7 L351.1,357.9 L346.9,357.3 L342.9,356.9 L340.7,357.5 L340.6,358.9 L341.7,361.0 L343.4,363.7 L344.9,366.0 L345.8,367.5 M208.5,224.7 L209.4,225.1 L210.8,225.4 L212.5,226.4 L214.3,226.7 L216.5,227.7 L218.6,228.1 L221.0,229.0 L223.5,229.2 L226.0,229.2 L228.5,229.4 L231.4,229.5 L234.6,229.3 L237.6,229.0 L241.0,228.8 L244.5,228.3 L248.1,227.6 L251.6,227.3 L254.9,227.1 L258.1,226.8 L261.2,226.8 L263.8,227.2 L266.4,227.3 L268.9,227.7 L271.2,227.8 L273.4,228.4 L275.1,228.7 L277.2,229.1 L279.2,229.3 L281.4,229.5 L283.3,229.5 L285.4,229.5 L287.3,229.3 L289.3,228.9 L291.0,228.8 L292.9,228.4 L294.7,228.1 L296.7,227.8 L298.3,227.5 L300.1,226.9 L302.1,226.8 L303.9,226.6 L306.0,226.2 L307.8,225.7 L310.1,225.5 L312.3,225.1 L314.4,224.5 L316.5,224.2 L318.8,223.9 L320.9,223.2 L323.2,222.8 L325.7,222.5 L327.8,222.3 L330.2,221.7 L332.5,221.7 L335.1,221.6 L337.1,221.1 L339.4,220.9 L341.3,220.7 L343.1,220.6 L344.5,220.4 M223.6,222.6 L224.2,224.4 L225.0,226.3 L226.0,228.3 L226.5,231.0 L227.3,232.9 L227.8,235.3 L228.6,237.8 L229.0,240.0 L229.8,242.0 L230.8,243.8 L231.3,245.6 L231.9,247.4 L232.5,249.3 L233.1,250.6 L233.9,252.5 L234.6,254.2 L235.7,255.4 L236.7,256.5 L238.1,258.3 L239.1,259.5 L240.3,261.0 L241.5,262.8 L243.0,264.4 L244.3,266.1 L246.0,267.7 L247.3,269.3 L248.8,271.0 L250.1,272.9 L251.2,274.7 L252.0,276.6 L252.9,278.6 L253.8,280.6 L254.5,283.1 L255.5,285.2 L256.3,287.5 L257.1,289.4 L257.8,291.3 L258.6,293.0 L259.4,294.5 L260.4,295.6 L261.8,296.5 L263.0,297.3 L264.5,298.0 L265.8,298.6 L266.7,299.1 L267.8,299.9 L268.8,300.8 L269.7,301.6 L270.3,302.5 L271.0,303.9 L271.4,305.3 L271.3,307.2 L270.6,309.1 L270.4,311.3 L269.8,313.6 L269.4,316.0 L269.3,318.8 L269.0,321.4 L268.8,323.7 L268.5,326.2 L268.0,328.3 L267.5,330.1 L267.2,332.0 L266.7,333.6 L266.6,335.5 L266.2,337.2 L265.6,338.9 L265.2,340.5 L264.4,342.2 L263.8,344.0 L263.3,345.8 L262.9,347.8 L262.9,349.6 L262.6,351.8 L262.3,353.7 L262.2,355.7 L261.7,357.8 L261.5,359.6 L261.3,361.3 L261.5,362.4 M213.7,229.3 L214.3,230.2 L215.2,231.4 L216.0,232.7 L217.2,234.1 L218.1,235.9 L219.2,237.5 L220.6,239.5 L221.7,241.2 L222.9,243.2 L223.8,244.5 L225.0,246.1 L226.0,247.2 L226.8,248.4 L227.7,249.6 L228.7,250.9 L229.8,251.9 L231.0,253.2 L232.3,254.5 L233.9,256.0 L235.1,257.1 L236.6,258.8 L238.5,260.1 L239.7,261.7 L240.9,262.9 L242.2,264.4 L243.9,265.7 L245.5,267.2 L247.0,268.8 L248.3,270.7 L249.6,272.3 L250.8,274.4 L252.2,276.7 L253.4,279.5 L254.6,282.0 L255.4,285.0 L256.2,287.5 L257.2,290.3 L258.2,292.8 L258.6,294.6 L258.8,296.2 L259.1,297.3 L259.0,298.1 L258.4,298.4 L257.6,298.8 L256.7,298.7 L255.9,299.0 L254.8,299.2 L253.9,299.7 L252.8,300.3 L252.1,301.2 L251.6,302.2 L250.6,303.6 L250.0,304.7 L248.9,306.1 L248.1,307.6 L246.9,308.8 L246.1,310.1 L245.2,311.6 L244.5,313.1 L243.6,314.2 L243.2,315.5 L242.9,317.1 L242.4,318.4 L242.4,320.0 L241.8,321.3 L241.4,322.6 L241.3,323.9 L240.8,324.7 L240.7,325.6 L240.8,326.1 M215.7,255.1 L217.3,254.6 L218.9,254.2 L220.8,253.8 L223.2,253.6 L225.7,253.3 L228.4,252.8 L231.0,252.3 L234.0,251.9 L236.6,251.3 L238.8,251.0 L241.1,250.4 L243.4,250.0 L245.6,249.5 L247.6,249.5 L250.0,248.9 L252.0,248.8 L254.2,248.7 L256.6,249.2 L258.7,249.1 L261.1,249.0 L263.5,249.0 L265.6,249.2 L268.1,249.3 L270.3,249.2 L272.6,249.2 L274.9,249.3 L277.1,249.1 L279.1,249.3 L281.3,249.1 L283.7,249.3 L285.6,249.2 L287.5,249.4 L289.5,249.5 L291.4,249.4 L293.4,249.4 L295.2,249.3 L296.7,248.9 L298.5,248.9 L300.1,248.1 L301.7,247.7 L303.7,247.2 L305.5,246.8 L307.3,246.2 L309.4,245.9 L311.7,245.5 L314.0,245.5 L316.3,245.4 L318.7,244.9 L321.0,245.0 L323.2,244.6 L325.7,244.4 L328.1,243.9 L330.6,243.3 L333.1,242.8 L335.4,242.0 L338.1,241.5 L340.1,240.9 L341.9,240.3 L343.4,239.9 L344.9,240.0 M269.2,224.6 L268.5,226.1 L267.8,228.4 L266.8,231.2 L266.0,233.9 L264.9,237.0 L263.8,240.4 L263.1,243.9 L262.0,247.7 L261.4,251.5 L260.5,255.0 L260.0,258.9 L259.4,263.4 L258.8,268.2 L257.9,273.0 L257.2,277.8 L256.4,282.7 L255.7,286.7 L255.1,290.8 L255.0,293.7 L254.4,296.1 L254.1,297.6 L254.2,298.2 L254.6,298.1 L254.5,297.7 L254.5,296.7 L254.9,295.7 L254.8,294.3 L254.8,293.4 L254.9,292.6 L254.7,291.9 M211.8,245.2 L212.1,246.0 L212.6,247.5 L212.9,248.9 L213.5,250.7 L214.0,252.6 L214.5,254.7 L215.2,256.4 L215.2,258.5 L215.9,260.2 L216.2,261.9 L216.7,263.2 L217.0,265.1 L217.2,266.4 L217.1,267.8 L217.2,269.2 L217.3,270.4 L217.3,271.6 L217.5,273.0 L217.6,273.8 L217.8,274.7 L218.6,275.1 L219.5,275.7 L220.0,275.9 L221.4,276.2 L222.6,276.1 L223.7,276.4 L224.9,276.3 L226.2,276.2 L227.4,276.3 L228.3,276.0 L229.5,275.7 L230.3,276.0 L231.4,275.3 L232.1,275.3 L233.0,275.2 L233.8,275.0 L234.6,274.8 L235.2,274.6 L236.0,274.2 L236.6,273.8 L237.0,273.6 L237.5,273.1 L237.6,272.5 L238.1,272.2 L237.8,271.6 L237.8,271.3 L237.7,270.4 L237.3,270.3 L236.8,270.0 L236.1,269.7 L235.3,269.6 L234.3,269.7 L233.0,269.6 L231.6,269.8 L230.5,269.7 L229.0,270.2 L227.8,270.0 L226.7,270.0 L225.3,270.3 L224.4,270.0 L223.5,269.7 L222.7,269.7 L221.9,269.6 L221.5,269.3 L220.8,269.3 L220.6,269.1 L220.2,269.2 L219.8,269.0 L219.2,269.1 L219.2,269.1 M208.8,277.0 L209.9,276.9 L211.6,276.9 L213.0,277.4 L215.0,277.2 L217.2,277.7 L219.3,277.9 L221.7,278.0 L223.7,278.1 L226.2,278.6 L228.4,278.7 L230.4,279.0 L232.8,279.4 L235.0,279.8 L237.1,280.7 L239.6,281.1 L241.5,281.6 L244.1,281.9 L245.7,282.5 L247.8,282.9 L249.7,283.2 L251.7,283.7 L253.9,284.1 L256.0,284.6 L258.4,285.0 L260.9,285.5 L263.2,285.8 L265.5,286.6 L267.7,286.9 L269.6,287.2 L271.6,287.8 L273.2,287.6 L274.6,287.6 L275.8,287.9 L277.1,287.4 L278.3,287.0 L279.4,286.6 L280.6,286.0 L281.8,285.8 L282.7,285.0 L284.2,285.1 L285.6,284.8 L287.1,284.8 L288.4,284.6 L290.0,284.7 L291.7,284.8 L293.4,284.8 L295.4,284.7 L297.1,284.5 L299.3,284.1 L301.6,283.6 L303.8,282.8 L306.1,282.0 L308.1,280.7 L310.2,280.0 L312.4,279.0 L314.5,277.8 L316.9,277.1 L318.9,276.1 L321.2,275.1 L323.2,274.7 L325.6,273.8 L327.7,273.1 L329.9,272.2 L332.3,271.0 L334.6,270.4 L336.8,269.2 L338.6,268.3 L340.6,267.6 L342.6,266.4 L344.5,265.8 L346.3,265.0 L347.8,264.6 L348.9,264.3 L350.0,264.3 L351.0,264.2 L351.9,264.1 L352.2,264.2 L352.6,264.4 L353.0,264.3 L353.2,264.4 M213.4,230.0 L213.7,231.5 L213.9,233.4 L214.1,235.9 L214.1,238.5 L214.2,241.3 L214.2,244.0 L214.5,246.9 L214.1,249.7 L214.7,252.5 L214.7,254.7 L215.1,256.4 L215.6,258.4 L216.3,259.9 L216.6,261.5 L217.5,263.2 L218.1,264.6 L218.6,265.9 L219.2,267.5 L219.7,269.1 L219.9,270.3 L220.3,272.5 L221.0,274.0 L221.9,275.8 L223.0,277.4 L223.5,279.2 L224.2,281.3 L224.7,283.3 L225.3,285.3 L225.2,287.4 L224.8,289.8 L224.2,292.1 L223.4,294.8 L222.0,297.9 L220.9,300.8 L219.4,303.7 L218.0,306.7 L216.6,309.3 L215.9,311.5 L214.9,313.3 L214.5,314.8 M228.2,220.7 L229.2,221.3 L229.6,222.4 L230.7,223.8 L232.0,225.2 L233.1,226.7 L234.3,228.5 L235.2,230.3 L236.3,231.7 L237.5,233.1 L238.4,233.9 L239.7,234.7 L240.8,235.3 L241.7,236.2 L242.3,236.5 L243.3,237.1 L244.2,237.6 L245.2,238.2 L246.4,238.8 L248.1,239.3 L250.1,239.9 L252.7,240.3 L255.9,241.0 L259.1,241.1 L262.6,241.2 L266.0,241.4 L270.1,240.9 L273.2,240.8 L277.0,240.2 L280.1,240.1 L283.4,239.8 L286.7,239.3 L289.9,238.8 L293.0,238.5 L296.2,238.1 L298.8,237.7 L301.4,237.4 L304.1,237.3 L306.6,236.8 L308.8,236.6 L310.3,236.2 M280.0,230.2 L280.9,229.6 L282.0,228.9 L283.5,228.6 L285.2,228.0 L287.3,227.5 L289.2,227.0 L291.1,226.6 L292.8,226.2 L294.1,225.9 L294.7,225.5 M294.9,224.3 L295.5,225.3 L296.3,226.7 L298.0,228.1 L299.3,229.9 L300.8,231.4 L302.6,233.3 L304.1,235.0 L305.6,236.7 L306.7,238.2 L308.0,239.9 L309.4,241.4 L310.9,243.0 L311.9,244.8 L313.2,246.3 L314.1,247.9 L315.3,249.4 L316.1,251.0 L316.8,252.3 L318.1,253.8 L318.8,255.6 L320.1,256.8 L321.5,258.5 L322.4,260.6 L323.5,262.6 L324.5,264.6 L325.4,266.3 L326.2,268.3 L327.2,270.4 L328.4,272.2 L329.3,274.1 L330.4,276.3 L331.0,278.4 L331.7,280.6 L332.2,282.9 L332.6,285.3 L333.0,287.8 L333.8,289.9 L334.9,292.4 L335.6,294.7 L336.4,296.6 L336.6,298.4 L337.0,299.6 L337.6,300.9 L338.0,302.1 L338.9,303.0 L339.5,304.6 L340.1,305.8 L340.5,307.3 L341.4,308.5 L341.6,310.3 L341.9,312.0 L342.5,314.0 L343.1,316.4 L344.1,318.4 L344.9,320.6 L345.4,322.5 L346.1,324.8 L346.2,326.5 L346.5,328.3 L346.9,329.6 M336.6,227.2 L335.9,227.8 L334.8,228.5 L333.8,229.3 L332.5,230.2 L331.3,231.8 L330.4,233.1 L329.3,234.9 L328.5,236.6 L327.9,238.5 L327.2,240.3 L326.7,242.1 L326.8,244.1 L326.5,246.1 L326.4,247.9 L326.0,249.9 L325.8,251.8 L325.7,253.5 L325.5,255.6 L325.5,257.3 L325.3,259.1 L325.5,260.6 L325.7,262.6 L326.0,264.3 L326.4,266.2 L326.9,268.1 L327.3,270.0 L327.7,271.8 L328.0,273.3 L328.6,275.5 L329.1,277.2 L329.6,279.1 L330.5,280.9 L331.5,282.8 L332.6,284.5 L333.4,286.5 L334.2,288.3 L335.0,290.1 L335.8,292.0 L336.5,293.9 L336.5,295.8 L336.7,297.5 L336.7,299.0 L336.5,300.5 L337.0,302.2 L336.8,303.4 L336.7,304.8 L336.6,306.0 L336.6,307.5 L336.5,308.7 L336.4,310.3 L336.2,311.4 L336.0,313.0 L335.5,314.3 L335.0,316.1 L334.2,317.5 L333.5,319.4 L332.9,321.0 L331.9,322.9 L331.3,324.4 L330.3,326.1 L329.0,327.9 L327.5,329.9 L325.7,331.9 L323.6,334.1 L321.4,335.9 L319.3,338.0 L317.4,339.6 L315.7,341.5 L314.2,342.7 L313.2,343.8 M270.2,289.8 L270.5,289.0 L270.8,287.4 L271.4,286.1 L272.1,284.2 L272.9,282.9 L274.2,281.5 L275.5,279.9 L277.0,278.4 L278.6,276.7 L280.2,275.3 L281.8,273.3 L283.6,271.5 L285.8,269.7 L288.0,267.6 L290.5,265.5 L292.7,263.3 L295.3,261.6 L297.5,259.9 L299.8,258.2 L301.6,257.0 L303.6,255.9 L305.4,254.5 L307.7,253.5 L309.6,252.8 L311.9,252.1 L314.3,250.9 L316.5,250.1 L318.9,248.7 L321.1,247.5 L323.0,246.5 L325.4,245.2 L328.0,244.2 L330.4,242.8 L333.1,241.4 L336.0,240.2 L338.3,239.1 L340.4,238.1 L342.2,237.2 L343.7,236.2 L344.9,235.7 M262.0,221.7 L262.7,222.2 L264.0,223.0 L265.3,224.1 L267.0,225.0 L269.2,226.4 L271.2,227.9 L273.4,229.4 L276.0,230.9 L277.9,232.3 L279.8,233.7 L281.7,235.0 L283.9,236.4 L286.0,238.5 L288.1,240.1 L290.9,242.0 L293.2,244.1 L295.5,245.7 L297.6,247.8 L299.8,249.6 L301.8,251.6 L303.6,253.1 L306.3,254.7 L308.5,256.2 L310.8,257.8 L312.8,259.4 L314.9,260.9 L316.9,262.5 L318.9,264.4 L320.7,266.1 L322.8,268.0 L325.3,269.7 L327.5,271.2 L329.9,272.6 L332.3,274.3 L334.5,275.7 L336.6,277.3 L338.4,278.7 L340.5,280.4 L342.5,281.9 L344.6,283.3 L346.1,285.0 L347.7,286.5 L349.0,288.2 L350.3,289.9 L351.1,291.2 L352.2,292.5 L353.4,293.4 L354.5,294.3 L355.2,295.0 L355.9,295.8 M280.1,291.8 L281.4,291.4 L283.0,291.0 L285.1,290.3 L287.2,289.5 L289.8,288.6 L292.2,287.4 L294.5,286.2 L297.0,285.2 L299.1,284.1 L301.2,282.9 L303.3,282.1 L305.6,281.0 L307.4,280.1 L309.6,279.3 L312.2,278.4 L314.2,277.7 L316.7,277.1 L319.1,276.3 L321.6,275.8 L323.4,275.1 L325.9,274.1 L328.3,273.2 L330.6,272.2 L332.9,271.2 L335.0,270.1 L337.1,268.9 L339.3,268.0 L341.2,267.2 L343.3,266.0 L344.9,265.4 L346.2,264.9 L347.6,264.6 L348.4,264.5 L349.6,264.6 L350.0,264.4 L350.8,264.5 L351.4,264.5 L352.1,264.4 L352.7,264.7 L353.2,264.5 M271.9,261.9 L272.5,262.2 L272.8,262.7 L273.8,263.4 L274.4,264.0 L275.2,265.2 L276.1,266.3 L277.2,267.1 L278.4,268.3 L279.6,269.4 L280.4,270.6 L281.6,271.9 L282.4,273.0 L283.5,274.1 L284.3,275.2 L285.2,276.6 L286.3,277.9 L287.5,279.0 L288.3,280.5 L289.3,281.6 L290.4,282.9 L291.4,284.1 L292.4,285.4 L293.0,286.7 L293.6,288.3 L294.5,289.5 L295.1,290.9 L295.5,292.1 L296.2,293.7 L296.8,294.8 L297.6,296.3 L298.4,297.8 L298.9,299.3 L299.5,301.1 L300.5,303.0 L300.7,304.8 L301.0,306.5 L301.2,308.3 L301.6,309.8 L301.8,311.2 L301.9,312.3 M209.9,291.7 L209.8,293.0 L210.4,294.8 L210.6,296.6 L211.0,299.0 L211.6,301.5 L212.1,304.1 L212.7,307.0 L213.0,309.8 L213.5,312.3 L213.8,314.9 L214.0,317.4 L214.4,319.6 L215.0,322.2 L215.7,324.6 L215.9,327.0 L216.7,329.2 L217.5,331.4 L217.5,333.4 L217.8,335.4 L218.3,337.1 L218.5,339.1 L218.8,340.5 L218.9,342.0 L219.2,343.5 L219.6,344.9 L220.0,345.9 L220.0,347.2 L220.4,348.1 L220.6,349.1 L221.1,350.2 L221.8,351.6 L222.6,352.6 L223.8,354.3 L224.9,355.4 L226.3,357.0 L227.2,358.4 L228.2,359.6 L229.0,360.6 L229.6,361.6 L229.8,362.3 M203.0,305.7 L203.8,306.7 L205.2,308.0 L207.0,309.3 L208.7,310.7 L210.7,312.2 L212.2,313.8 L214.0,315.3 L215.5,316.6 L217.1,318.3 L218.8,319.5 L220.3,320.5 L221.4,321.3 L222.1,322.2 L223.0,322.8 L223.6,323.2 L224.8,323.6 L225.6,324.2 L226.8,324.5 L228.0,325.0 L229.9,325.6 L231.6,326.0 L233.4,326.6 L235.1,327.4 L237.3,327.8 L239.5,328.4 L242.0,328.7 L244.5,329.1 L247.3,329.5 L249.8,329.8 L252.5,330.2 L255.1,330.9 L258.0,331.5 L261.1,332.2 L264.6,333.0 L267.8,333.6 L271.5,334.3 L274.8,334.6 L278.0,335.0 L281.1,335.2 L284.1,335.3 L287.3,335.1 L290.8,335.1 L294.6,334.8 L298.0,334.4 L301.6,334.2 L304.5,333.8 L307.4,333.5 L310.1,333.0 L312.4,332.7 L314.2,332.4 M205.4,358.0 L206.1,357.2 L207.3,356.5 L208.3,355.4 L209.5,354.0 L210.8,352.6 L212.5,351.0 L213.9,349.2 L215.1,347.1 L216.7,345.4 L218.2,343.5 L219.6,341.6 L221.4,339.2 L223.3,337.1 L225.4,334.8 L227.8,332.8 L230.0,330.2 L232.1,328.0 L233.9,325.8 L235.6,323.7 L237.4,321.9 L238.5,320.2 L239.5,318.5 L240.4,317.2 L241.3,315.4 L242.0,314.0 L242.7,312.8 L243.3,311.3 L244.1,310.0 L245.1,308.8 L245.8,307.4 L246.6,305.9 L247.6,304.3 L248.6,302.6 L249.4,301.0 L250.7,299.3 L251.4,297.7 L252.4,296.2 L253.1,294.8 L254.1,293.6 L254.5,292.4 M201.4,346.4 L202.0,345.9 L202.9,344.8 L203.7,343.7 L204.6,342.8 L206.1,342.0 L207.4,341.0 L209.1,340.1 L210.4,339.0 L212.2,338.1 L214.1,337.3 L215.4,336.7 L217.1,335.9 L218.6,335.3 L219.9,334.3 L221.4,333.7 L223.3,333.0 L224.7,332.5 L226.6,331.7 L228.6,331.2 L230.4,330.4 L232.3,329.5 L234.3,328.9 L236.1,327.8 L238.5,326.7 L239.9,325.7 L242.1,324.5 L244.5,323.5 L246.9,322.6 L249.5,321.8 L252.0,321.3 L255.1,321.0 L258.7,320.7 L262.1,321.1 L265.5,321.3 L269.0,321.5 L272.4,322.1 L275.7,322.1 L278.6,322.2 L281.4,322.0 L283.7,321.6 L286.2,320.4 L288.7,319.6 L290.9,318.7 L293.0,317.6 L295.1,316.5 L296.8,315.5 L298.4,314.6 L300.2,314.0 L301.3,313.1 L302.5,312.9 M218.4,355.4 L219.8,355.4 L221.9,354.4 L224.0,354.1 L226.3,353.3 L229.0,352.2 L231.5,351.7 L234.3,350.6 L236.8,349.8 L239.1,349.1 L241.2,348.5 L243.5,347.6 L245.7,347.2 L248.0,346.5 L250.4,345.7 L253.0,345.3 L255.3,344.6 L257.5,343.8 L259.6,343.0 L261.8,342.5 L263.8,341.8 L265.3,340.9 L267.0,340.5 L268.6,339.9 L269.9,339.5 L270.9,339.2 L272.2,339.1 L273.6,338.9 L274.9,338.2 L276.4,338.1 L277.5,337.7 L279.4,337.2 L280.7,336.3 L282.3,335.2 L283.7,334.2 L285.2,333.0 L286.6,331.6 L288.2,330.8 L289.6,329.8 L291.4,328.9 L293.1,328.9 L295.0,328.5 L297.2,328.8 L299.3,329.2 L301.6,329.7 L303.8,330.4 L306.4,331.3 L308.7,331.8 L310.7,332.8 L312.7,332.8 L314.4,333.2 L316.1,333.4 L317.8,333.3 L319.1,333.0 L320.4,332.7 L321.9,332.8 L323.0,332.4 L324.2,332.4 L325.3,332.2 L326.2,332.3 L327.1,332.5 M223.2,344.1 L223.3,344.8 L223.1,345.5 L223.1,346.9 L223.3,348.1 L223.4,349.6 L223.6,350.4 L223.9,351.8 L224.7,353.0 L225.2,354.0 L225.9,354.6 L226.5,355.5 L227.3,356.1 L227.8,356.9 L228.9,357.5 L229.6,358.4 L231.0,358.9 L232.3,359.5 L233.6,359.8 L235.5,360.2 L237.2,360.2 L238.8,360.4 L241.4,360.2 L244.1,360.3 L246.9,359.8 L250.0,359.9 L253.1,359.8 L256.1,359.5 L259.2,359.0 L261.6,358.6 L263.6,358.0 L265.5,357.0 L267.2,355.9 L268.9,354.8 L270.6,353.2 L272.0,352.1 L273.6,350.8 L274.6,349.3 L275.8,348.2 L276.4,346.8 L277.1,345.9 L277.5,345.1 L277.7,343.9 L278.2,343.0 L278.1,342.1 L278.2,341.1 L277.7,340.0 L277.5,339.1 L276.9,338.5 L276.7,337.9 L276.3,337.2 M232.3,303.5 L233.6,303.0 L235.0,302.7 L236.2,302.4 L238.1,301.8 L240.0,301.3 L242.0,301.1 L244.6,301.0 L247.0,300.7 L249.6,301.1 L252.5,300.9 L255.3,301.2 L258.1,301.3 L261.5,301.6 L264.8,301.8 L268.0,301.8 L271.5,302.1 L275.0,302.2 L278.4,302.1 L281.6,302.1 L284.5,302.1 L286.8,302.1 L289.0,302.2 L291.0,302.1 L292.4,302.1 L294.2,302.1 L295.7,302.3 L297.4,302.0 L299.1,301.8 L300.8,301.8 L302.9,302.1 L304.9,302.1 L306.9,302.2 L308.9,302.1 L311.3,302.3 L313.3,302.5 L315.5,302.7 L317.6,303.0 L320.1,303.2 L322.5,303.8 L324.7,303.8 L327.3,304.0 L329.9,304.2 L332.3,304.4 L334.8,304.6 L337.2,304.4 L339.4,304.6 L341.9,304.6 L344.0,304.7 L346.3,304.7 L348.1,305.1 L350.0,305.3 L351.3,305.4 L352.6,306.1 L353.6,306.5 L354.3,306.8 L354.9,307.3 L355.5,307.8 L356.1,307.8 L356.5,307.9 L357.0,308.2 M279.8,301.4 L281.1,302.2 L283.4,303.1 L285.4,304.2 L287.8,305.4 L290.2,306.7 L292.7,308.0 L295.4,309.2 L297.8,310.2 L300.3,311.5 L302.8,312.1 L305.0,313.3 L307.6,313.7 L309.9,314.6 L312.6,315.5 L314.7,316.0 L317.2,316.8 L319.4,317.8 L321.3,319.0 L323.3,319.9 L325.0,321.2 L327.2,322.7 L328.8,324.1 L331.2,325.6 L333.2,327.0 L335.1,328.6 L336.8,330.1 L338.7,331.8 L340.1,333.4 L341.7,335.5 L343.0,337.2 L344.2,339.4 L345.0,342.0 L346.2,344.7 L347.5,347.2 L348.2,349.9 L349.7,352.7 L350.4,354.8 L351.2,357.1 L351.9,358.9 L352.4,360.0 M309.8,337.3 L309.4,338.1 L309.5,338.9 L310.0,340.1 L310.4,341.2 L310.7,342.6 L310.4,343.7 L310.5,345.2 L309.9,346.6 L309.4,347.7 L308.8,348.9 L308.2,349.9 L307.0,350.7 L306.2,351.7 L305.0,352.4 L303.5,353.2 L302.1,354.0 L300.2,354.8 L298.8,355.4 L297.1,356.3 L295.6,357.3 L294.6,358.1 L293.4,359.0 L291.5,359.8 L289.5,360.2 L287.7,361.0 L285.4,361.4 L283.9,361.8 L282.3,361.9 L281.2,362.0 L280.2,362.3 M313.7,334.8 L314.4,334.0 L315.2,333.1 L316.2,332.0 L317.3,330.7 L318.7,329.3 L319.9,327.9 L320.9,326.3 L322.0,325.2 L323.4,323.5 L324.6,321.6 L326.3,320.1 L328.0,318.1 L329.6,316.4 L331.1,314.7 L332.5,312.7 L333.8,311.1 L335.2,309.7 L336.8,308.3 L337.9,306.9 L339.1,305.8 L340.3,304.5 L341.1,303.4 L341.7,302.2 L342.2,300.9 L342.7,299.5 L343.3,298.1 L344.0,296.7 L344.3,295.3 L344.9,293.5 L345.4,291.9 L345.9,289.7 L345.8,287.8 L346.0,285.2 L346.3,282.4 L346.4,280.0 L346.6,277.1 L346.9,275.0 L347.3,273.1 L347.5,271.0 L347.5,270.1 M312.7,350.8 L312.9,352.1 L312.9,353.7 L313.4,355.8 L313.5,358.2 L313.7,360.5 L314.1,363.0 L314.2,364.8 L314.4,366.8 L314.3,368.1 L314.1,369.2 M314.1,352.1 L315.4,352.1 L317.3,352.1 L319.7,351.8 L322.3,351.6 L324.7,351.3 L327.2,351.1 L329.8,350.6 L332.0,350.6 L334.3,350.4 L336.5,350.0 L338.3,349.7 L340.5,349.3 L342.3,348.8 L343.8,348.3 L345.4,347.5 L346.8,347.0 L348.5,346.3 L349.7,346.3 L351.2,346.3 L352.1,345.9 M280.4,357.8 L281.3,357.7 L282.7,357.6 L284.0,357.7 L285.8,357.7 L287.8,357.8 L290.1,358.2 L292.3,358.7 L294.2,358.9 L296.2,359.5 L297.8,360.0 L299.3,360.1 L300.6,360.5 L302.2,361.2 L303.9,361.7 L305.4,362.4 L307.1,362.6 L308.5,363.4 L310.4,363.9 L311.8,364.5 L313.6,364.9 L315.6,365.2 L317.9,365.4 L320.5,365.5 L323.0,365.6 L325.5,365.2 L327.7,365.2 L330.0,365.3 L332.6,365.3 L334.7,365.1 L336.8,365.2 L339.0,365.2 L341.7,365.2 L344.0,365.0 L346.4,365.0 L348.6,364.8 L350.6,364.7 L352.3,364.4 L354.0,364.2 L355.9,364.1 L357.3,364.2 M348.2,291.8 L347.9,293.4 L347.6,294.9 L347.2,296.8 L346.9,299.3 L346.7,301.6 L346.6,304.2 L346.4,306.8 L346.3,309.4 L346.2,311.8 L346.2,314.2 L346.0,316.8 L346.2,318.8 L346.1,321.3 L346.2,323.7 L346.5,326.4 L347.0,328.8 L347.1,331.1 L347.4,333.3 L347.7,335.3 L347.9,337.4 L347.9,339.9 L348.0,342.1 L348.0,344.8 L348.4,347.4 L348.4,349.8 L348.9,352.3 L349.1,354.5 L349.7,356.5 L349.8,358.2 L350.1,359.6 M198.4,325.6 L198.9,325.3 L199.5,324.9 L200.4,324.4 L201.4,324.1 L202.8,324.0 L204.6,323.8 L205.9,323.6 L207.1,323.4 L208.3,323.5 L209.3,323.9 L210.3,324.4 L211.2,325.0 L212.1,325.8 L213.5,327.0 L214.7,327.9 L215.4,329.2 L216.3,330.6 L217.1,331.2 L217.8,332.5 L218.6,333.0 L219.6,333.7 L220.9,333.9 L222.0,334.3 L223.0,334.6 L224.4,335.0 L224.9,335.2 L225.7,335.7 L226.2,336.3 L227.0,336.5 L227.7,337.0 M300.2,222.4 L299.7,223.8 L299.2,225.4 L297.9,227.5 L296.7,230.0 L295.3,232.5 L294.5,234.7 L293.2,237.2 L292.2,239.8 L291.4,242.2 L290.7,244.4 L290.0,246.5 L289.3,248.7 L288.7,250.8 L288.0,252.9 L287.4,254.9 L286.9,257.1 L286.5,259.0 L286.1,261.1 L285.5,263.3 L285.1,265.3 L284.2,267.2 L283.4,269.1 L282.4,271.1 L281.0,273.4 L279.9,275.7 L278.9,277.6 L277.9,279.7 L276.7,281.8 L276.0,283.7 L274.7,285.6 L273.6,287.2 L272.5,289.1 L270.6,290.4 L269.3,292.1 L267.6,293.3 L266.2,295.0 L264.6,296.6 L263.5,297.4 L263.0,298.5 L262.5,299.4" fill="none" stroke="#a322b3" stroke-width="1.1" stroke-linejoin="round" stroke-linecap="round"/>
<rect x="5.90" y="215.00" width="171.10" height="162.20" fill="none" stroke="#f6a857" stroke-width="1.2" />
<rect x="52.70" y="250.70" width="84.10" height="83.30" fill="none" stroke="#f6a857" stroke-width="1.2" />
<rect x="197.70" y="214.60" width="170.80" height="162.60" fill="none" stroke="#f6a857" stroke-width="1.2" />
<rect x="244.20" y="250.30" width="84.30" height="83.50" fill="none" stroke="#f6a857" stroke-width="1.2" />
</svg></body></html>
